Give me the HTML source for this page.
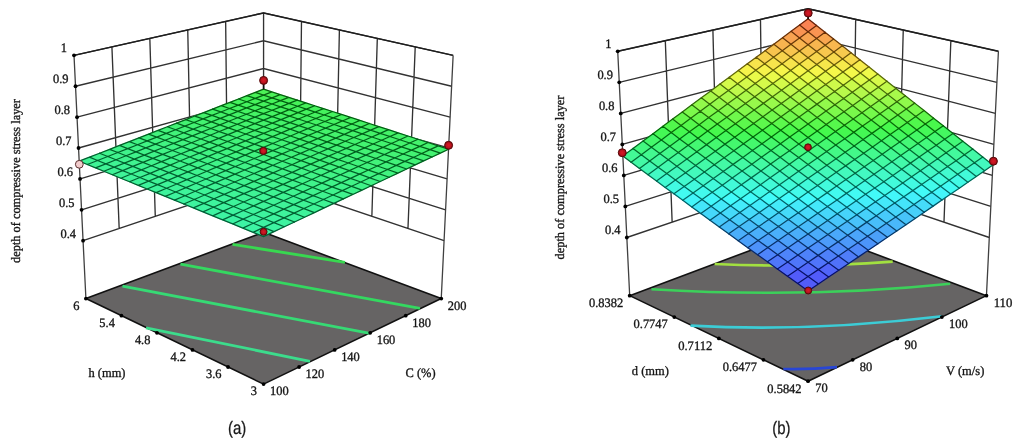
<!DOCTYPE html>
<html lang="en"><head><meta charset="utf-8"><title>Response surface plots</title>
<style>
html,body{margin:0;padding:0;background:#fff;}
body{width:1024px;height:448px;overflow:hidden;}
svg{display:block;filter:blur(0.55px);}
</style></head><body>
<svg width="1024" height="448" viewBox="0 0 1024 448">
<defs><radialGradient id="rd" cx="0.5" cy="0.5" r="0.5"><stop offset="0" stop-color="#d81a26"/><stop offset="0.55" stop-color="#c01420"/><stop offset="1" stop-color="#8a0c12"/></radialGradient></defs>
<rect width="1024" height="448" fill="#ffffff"/>
<path d="M74.01,55.37 L263.57,12.91 L453.13,55.37 M75.52,86.25 L263.57,40.73 L451.62,86.25 M77.03,117.14 L263.57,68.55 L450.12,117.14 M78.54,148.02 L263.57,96.36 L448.61,148.02 M80.05,178.91 L263.57,124.18 L447.1,178.91 M81.56,209.8 L263.57,152 L445.59,209.8 M83.07,240.68 L263.57,179.82 L444.08,240.68 M111.92,46.87 L119.17,228.51 M301.48,21.4 L299.67,191.99 M149.83,38.38 L155.27,216.34 M339.4,29.89 L335.77,204.17 M187.75,29.89 L191.37,204.17 M377.31,38.38 L371.87,216.34 M225.66,21.4 L227.47,191.99 M415.22,46.87 L407.97,228.51 M263.57,12.91 L263.57,179.82" fill="none" stroke="#323232" stroke-width="1.35"/>
<path d="M74.01,55.37 L263.57,12.91 L453.13,55.37" fill="none" stroke="#1e1e1e" stroke-width="1.5" stroke-linejoin="round"/>
<path d="M74.01,55.37 L85.9,298.58 M453.13,55.37 L441.25,298.58" fill="none" stroke="#404040" stroke-width="1.3"/>
<polygon points="85.9,298.58 263.57,384.1 441.25,298.58 263.57,232.35" fill="#666464" stroke="#111" stroke-width="1.6" stroke-linejoin="round"/>
<path d="M232.5,244.4 L345,262.3" fill="none" stroke="#38d850" stroke-width="2.8"/>
<path d="M180.5,264.2 L420,308.3" fill="none" stroke="#34d860" stroke-width="2.8"/>
<path d="M122.5,286.2 L370,333.3" fill="none" stroke="#36da74" stroke-width="2.8"/>
<path d="M146,327.8 L310,361.3" fill="none" stroke="#3cdc8c" stroke-width="2.8"/>
<circle cx="74.01" cy="55.37" r="1.9" fill="#000"/>
<circle cx="75.52" cy="86.25" r="1.9" fill="#000"/>
<circle cx="77.03" cy="117.14" r="1.9" fill="#000"/>
<circle cx="78.54" cy="148.02" r="1.9" fill="#000"/>
<circle cx="80.05" cy="178.91" r="1.9" fill="#000"/>
<circle cx="81.56" cy="209.8" r="1.9" fill="#000"/>
<circle cx="83.07" cy="240.68" r="1.9" fill="#000"/>
<circle cx="263.57" cy="384.1" r="1.9" fill="#000"/>
<circle cx="228.04" cy="367" r="1.9" fill="#000"/>
<circle cx="299.11" cy="367" r="1.9" fill="#000"/>
<circle cx="192.5" cy="349.89" r="1.9" fill="#000"/>
<circle cx="334.64" cy="349.89" r="1.9" fill="#000"/>
<circle cx="156.97" cy="332.79" r="1.9" fill="#000"/>
<circle cx="370.18" cy="332.79" r="1.9" fill="#000"/>
<circle cx="121.43" cy="315.69" r="1.9" fill="#000"/>
<circle cx="405.71" cy="315.69" r="1.9" fill="#000"/>
<circle cx="85.9" cy="298.58" r="1.9" fill="#000"/>
<circle cx="441.25" cy="298.58" r="1.9" fill="#000"/>
<g stroke-width="0.6" stroke-linejoin="round">
<polygon points="263.57,95.13 271.85,91.88 263.57,89.2 255.3,92.43" fill="#4df257" stroke="#4df257"/>
<polygon points="255.21,98.42 263.57,95.13 255.3,92.43 246.93,95.69" fill="#48f258" stroke="#48f258"/>
<polygon points="271.94,97.87 280.21,94.59 271.85,91.88 263.57,95.13" fill="#4bf258" stroke="#4bf258"/>
<polygon points="246.75,101.75 255.21,98.42 246.93,95.69 238.48,98.99" fill="#46f25a" stroke="#46f25a"/>
<polygon points="263.57,101.19 271.94,97.87 263.57,95.13 255.21,98.42" fill="#46f258" stroke="#46f258"/>
<polygon points="280.4,100.64 288.68,97.33 280.21,94.59 271.94,97.87" fill="#49f258" stroke="#49f258"/>
<polygon points="238.2,105.11 246.75,101.75 238.48,98.99 229.93,102.32" fill="#45f25d" stroke="#45f25d"/>
<polygon points="255.11,104.55 263.57,101.19 255.21,98.42 246.75,101.75" fill="#46f25b" stroke="#46f25b"/>
<polygon points="272.03,103.99 280.4,100.64 271.94,97.87 263.57,101.19" fill="#46f259" stroke="#46f259"/>
<polygon points="288.96,103.44 297.23,100.11 288.68,97.33 280.4,100.64" fill="#47f258" stroke="#47f258"/>
<polygon points="229.55,108.52 238.2,105.11 229.93,102.32 221.29,105.7" fill="#45f261" stroke="#45f261"/>
<polygon points="246.56,107.94 255.11,104.55 246.75,101.75 238.2,105.11" fill="#45f25f" stroke="#45f25f"/>
<polygon points="263.57,107.37 272.03,103.99 263.57,101.19 255.11,104.55" fill="#45f25d" stroke="#45f25d"/>
<polygon points="280.59,106.82 288.96,103.44 280.4,100.64 272.03,103.99" fill="#46f25b" stroke="#46f25b"/>
<polygon points="297.61,106.28 305.89,102.91 297.23,100.11 288.96,103.44" fill="#46f259" stroke="#46f259"/>
<polygon points="220.81,111.96 229.55,108.52 221.29,105.7 212.55,109.11" fill="#45f264" stroke="#45f264"/>
<polygon points="237.91,111.37 246.56,107.94 238.2,105.11 229.55,108.52" fill="#45f262" stroke="#45f262"/>
<polygon points="255.02,110.79 263.57,107.37 255.11,104.55 246.56,107.94" fill="#45f260" stroke="#45f260"/>
<polygon points="272.13,110.23 280.59,106.82 272.03,103.99 263.57,107.37" fill="#45f25e" stroke="#45f25e"/>
<polygon points="289.24,109.68 297.61,106.28 288.96,103.44 280.59,106.82" fill="#46f25c" stroke="#46f25c"/>
<polygon points="306.36,109.14 314.64,105.75 305.89,102.91 297.61,106.28" fill="#46f25a" stroke="#46f25a"/>
<polygon points="211.97,115.43 220.81,111.96 212.55,109.11 203.71,112.56" fill="#44f268" stroke="#44f268"/>
<polygon points="229.16,114.84 237.91,111.37 229.55,108.52 220.81,111.96" fill="#44f266" stroke="#44f266"/>
<polygon points="246.37,114.25 255.02,110.79 246.56,107.94 237.91,111.37" fill="#45f263" stroke="#45f263"/>
<polygon points="263.57,113.68 272.13,110.23 263.57,107.37 255.02,110.79" fill="#45f261" stroke="#45f261"/>
<polygon points="280.78,113.12 289.24,109.68 280.59,106.82 272.13,110.23" fill="#45f260" stroke="#45f260"/>
<polygon points="298,112.58 306.36,109.14 297.61,106.28 289.24,109.68" fill="#45f25e" stroke="#45f25e"/>
<polygon points="315.22,112.04 323.49,108.62 314.64,105.75 306.36,109.14" fill="#46f25c" stroke="#46f25c"/>
<polygon points="203.03,118.95 211.97,115.43 203.71,112.56 194.78,116.04" fill="#44f26b" stroke="#44f26b"/>
<polygon points="220.32,118.35 229.16,114.84 220.81,111.96 211.97,115.43" fill="#44f269" stroke="#44f269"/>
<polygon points="237.62,117.75 246.37,114.25 237.91,111.37 229.16,114.84" fill="#44f267" stroke="#44f267"/>
<polygon points="254.92,117.17 263.57,113.68 255.02,110.79 246.37,114.25" fill="#45f265" stroke="#45f265"/>
<polygon points="272.23,116.6 280.78,113.12 272.13,110.23 263.57,113.68" fill="#45f263" stroke="#45f263"/>
<polygon points="289.54,116.05 298,112.58 289.24,109.68 280.78,113.12" fill="#45f261" stroke="#45f261"/>
<polygon points="306.86,115.51 315.22,112.04 306.36,109.14 298,112.58" fill="#45f25f" stroke="#45f25f"/>
<polygon points="324.18,114.98 332.44,111.52 323.49,108.62 315.22,112.04" fill="#45f25d" stroke="#45f25d"/>
<polygon points="193.99,122.51 203.03,118.95 194.78,116.04 185.74,119.57" fill="#43f26f" stroke="#43f26f"/>
<polygon points="211.37,121.89 220.32,118.35 211.97,115.43 203.03,118.95" fill="#44f26c" stroke="#44f26c"/>
<polygon points="228.77,121.29 237.62,117.75 229.16,114.84 220.32,118.35" fill="#44f26a" stroke="#44f26a"/>
<polygon points="246.17,120.7 254.92,117.17 246.37,114.25 237.62,117.75" fill="#44f268" stroke="#44f268"/>
<polygon points="263.57,120.12 272.23,116.6 263.57,113.68 254.92,117.17" fill="#44f266" stroke="#44f266"/>
<polygon points="280.98,119.56 289.54,116.05 280.78,113.12 272.23,116.6" fill="#45f264" stroke="#45f264"/>
<polygon points="298.4,119.01 306.86,115.51 298,112.58 289.54,116.05" fill="#45f262" stroke="#45f262"/>
<polygon points="315.81,118.47 324.18,114.98 315.22,112.04 306.86,115.51" fill="#45f260" stroke="#45f260"/>
<polygon points="333.24,117.94 341.5,114.46 332.44,111.52 324.18,114.98" fill="#45f25f" stroke="#45f25f"/>
<polygon points="184.84,126.11 193.99,122.51 185.74,119.57 176.61,123.14" fill="#43f272" stroke="#43f272"/>
<polygon points="202.33,125.48 211.37,121.89 203.03,118.95 193.99,122.51" fill="#43f270" stroke="#43f270"/>
<polygon points="219.82,124.87 228.77,121.29 220.32,118.35 211.37,121.89" fill="#44f26e" stroke="#44f26e"/>
<polygon points="237.32,124.27 246.17,120.7 237.62,117.75 228.77,121.29" fill="#44f26c" stroke="#44f26c"/>
<polygon points="254.82,123.69 263.57,120.12 254.92,117.17 246.17,120.7" fill="#44f269" stroke="#44f269"/>
<polygon points="272.33,123.11 280.98,119.56 272.23,116.6 263.57,120.12" fill="#44f267" stroke="#44f267"/>
<polygon points="289.84,122.55 298.4,119.01 289.54,116.05 280.98,119.56" fill="#44f266" stroke="#44f266"/>
<polygon points="307.36,122 315.81,118.47 306.86,115.51 298.4,119.01" fill="#45f264" stroke="#45f264"/>
<polygon points="324.88,121.47 333.24,117.94 324.18,114.98 315.81,118.47" fill="#45f262" stroke="#45f262"/>
<polygon points="342.41,120.95 350.67,117.43 341.5,114.46 333.24,117.94" fill="#45f260" stroke="#45f260"/>
<polygon points="175.59,129.75 184.84,126.11 176.61,123.14 167.36,126.75" fill="#43f275" stroke="#43f275"/>
<polygon points="193.18,129.12 202.33,125.48 193.99,122.51 184.84,126.11" fill="#43f273" stroke="#43f273"/>
<polygon points="210.77,128.49 219.82,124.87 211.37,121.89 202.33,125.48" fill="#43f271" stroke="#43f271"/>
<polygon points="228.36,127.89 237.32,124.27 228.77,121.29 219.82,124.87" fill="#43f26f" stroke="#43f26f"/>
<polygon points="245.96,127.29 254.82,123.69 246.17,120.7 237.32,124.27" fill="#44f26d" stroke="#44f26d"/>
<polygon points="263.57,126.71 272.33,123.11 263.57,120.12 254.82,123.69" fill="#44f26b" stroke="#44f26b"/>
<polygon points="281.18,126.14 289.84,122.55 280.98,119.56 272.33,123.11" fill="#44f269" stroke="#44f269"/>
<polygon points="298.8,125.58 307.36,122 298.4,119.01 289.84,122.55" fill="#44f267" stroke="#44f267"/>
<polygon points="316.42,125.03 324.88,121.47 315.81,118.47 307.36,122" fill="#45f265" stroke="#45f265"/>
<polygon points="334.05,124.5 342.41,120.95 333.24,117.94 324.88,121.47" fill="#45f263" stroke="#45f263"/>
<polygon points="351.68,123.99 359.94,120.44 350.67,117.43 342.41,120.95" fill="#45f262" stroke="#45f262"/>
<polygon points="166.24,133.43 175.59,129.75 167.36,126.75 158.02,130.4" fill="#42f279" stroke="#42f279"/>
<polygon points="183.92,132.79 193.18,129.12 184.84,126.11 175.59,129.75" fill="#43f277" stroke="#43f277"/>
<polygon points="201.61,132.16 210.77,128.49 202.33,125.48 193.18,129.12" fill="#43f274" stroke="#43f274"/>
<polygon points="219.31,131.54 228.36,127.89 219.82,124.87 210.77,128.49" fill="#43f272" stroke="#43f272"/>
<polygon points="237.01,130.93 245.96,127.29 237.32,124.27 228.36,127.89" fill="#43f270" stroke="#43f270"/>
<polygon points="254.72,130.34 263.57,126.71 254.82,123.69 245.96,127.29" fill="#43f26e" stroke="#43f26e"/>
<polygon points="272.43,129.76 281.18,126.14 272.33,123.11 263.57,126.71" fill="#44f26c" stroke="#44f26c"/>
<polygon points="290.15,129.2 298.8,125.58 289.84,122.55 281.18,126.14" fill="#44f26a" stroke="#44f26a"/>
<polygon points="307.87,128.64 316.42,125.03 307.36,122 298.8,125.58" fill="#44f268" stroke="#44f268"/>
<polygon points="325.6,128.1 334.05,124.5 324.88,121.47 316.42,125.03" fill="#44f266" stroke="#44f266"/>
<polygon points="343.33,127.58 351.68,123.99 342.41,120.95 334.05,124.5" fill="#45f265" stroke="#45f265"/>
<polygon points="361.07,127.06 369.32,123.48 359.94,120.44 351.68,123.99" fill="#45f263" stroke="#45f263"/>
<polygon points="156.77,137.16 166.24,133.43 158.02,130.4 148.56,134.09" fill="#42f27c" stroke="#42f27c"/>
<polygon points="174.56,136.51 183.92,132.79 175.59,129.75 166.24,133.43" fill="#42f27a" stroke="#42f27a"/>
<polygon points="192.35,135.87 201.61,132.16 193.18,129.12 183.92,132.79" fill="#42f278" stroke="#42f278"/>
<polygon points="210.14,135.24 219.31,131.54 210.77,128.49 201.61,132.16" fill="#43f276" stroke="#43f276"/>
<polygon points="227.95,134.62 237.01,130.93 228.36,127.89 219.31,131.54" fill="#43f273" stroke="#43f273"/>
<polygon points="245.76,134.02 254.72,130.34 245.96,127.29 237.01,130.93" fill="#43f271" stroke="#43f271"/>
<polygon points="263.57,133.43 272.43,129.76 263.57,126.71 254.72,130.34" fill="#43f26f" stroke="#43f26f"/>
<polygon points="281.39,132.86 290.15,129.2 281.18,126.14 272.43,129.76" fill="#44f26d" stroke="#44f26d"/>
<polygon points="299.22,132.29 307.87,128.64 298.8,125.58 290.15,129.2" fill="#44f26b" stroke="#44f26b"/>
<polygon points="317.05,131.74 325.6,128.1 316.42,125.03 307.87,128.64" fill="#44f26a" stroke="#44f26a"/>
<polygon points="334.88,131.21 343.33,127.58 334.05,124.5 325.6,128.1" fill="#44f268" stroke="#44f268"/>
<polygon points="352.72,130.68 361.07,127.06 351.68,123.99 343.33,127.58" fill="#44f266" stroke="#44f266"/>
<polygon points="370.57,130.17 378.81,126.56 369.32,123.48 361.07,127.06" fill="#45f264" stroke="#45f264"/>
<polygon points="147.19,140.93 156.77,137.16 148.56,134.09 138.99,137.83" fill="#41f380" stroke="#41f380"/>
<polygon points="165.08,140.27 174.56,136.51 166.24,133.43 156.77,137.16" fill="#42f27d" stroke="#42f27d"/>
<polygon points="182.97,139.62 192.35,135.87 183.92,132.79 174.56,136.51" fill="#42f27b" stroke="#42f27b"/>
<polygon points="200.87,138.98 210.14,135.24 201.61,132.16 192.35,135.87" fill="#42f279" stroke="#42f279"/>
<polygon points="218.78,138.35 227.95,134.62 219.31,131.54 210.14,135.24" fill="#42f277" stroke="#42f277"/>
<polygon points="236.69,137.74 245.76,134.02 237.01,130.93 227.95,134.62" fill="#43f275" stroke="#43f275"/>
<polygon points="254.61,137.14 263.57,133.43 254.72,130.34 245.76,134.02" fill="#43f273" stroke="#43f273"/>
<polygon points="272.53,136.56 281.39,132.86 272.43,129.76 263.57,133.43" fill="#43f271" stroke="#43f271"/>
<polygon points="290.46,135.99 299.22,132.29 290.15,129.2 281.39,132.86" fill="#43f26f" stroke="#43f26f"/>
<polygon points="308.4,135.43 317.05,131.74 307.87,128.64 299.22,132.29" fill="#44f26d" stroke="#44f26d"/>
<polygon points="326.34,134.88 334.88,131.21 325.6,128.1 317.05,131.74" fill="#44f26b" stroke="#44f26b"/>
<polygon points="344.28,134.35 352.72,130.68 343.33,127.58 334.88,131.21" fill="#44f269" stroke="#44f269"/>
<polygon points="362.23,133.83 370.57,130.17 361.07,127.06 352.72,130.68" fill="#44f268" stroke="#44f268"/>
<polygon points="380.18,133.33 388.42,129.68 378.81,126.56 370.57,130.17" fill="#44f266" stroke="#44f266"/>
<polygon points="137.51,144.75 147.19,140.93 138.99,137.83 129.32,141.61" fill="#41f383" stroke="#41f383"/>
<polygon points="155.5,144.07 165.08,140.27 156.77,137.16 147.19,140.93" fill="#41f381" stroke="#41f381"/>
<polygon points="173.49,143.41 182.97,139.62 174.56,136.51 165.08,140.27" fill="#42f27e" stroke="#42f27e"/>
<polygon points="191.5,142.76 200.87,138.98 192.35,135.87 182.97,139.62" fill="#42f27c" stroke="#42f27c"/>
<polygon points="209.51,142.13 218.78,138.35 210.14,135.24 200.87,138.98" fill="#42f27a" stroke="#42f27a"/>
<polygon points="227.52,141.51 236.69,137.74 227.95,134.62 218.78,138.35" fill="#42f278" stroke="#42f278"/>
<polygon points="245.54,140.9 254.61,137.14 245.76,134.02 236.69,137.74" fill="#43f276" stroke="#43f276"/>
<polygon points="263.57,140.3 272.53,136.56 263.57,133.43 254.61,137.14" fill="#43f274" stroke="#43f274"/>
<polygon points="281.6,139.72 290.46,135.99 281.39,132.86 272.53,136.56" fill="#43f272" stroke="#43f272"/>
<polygon points="299.64,139.15 308.4,135.43 299.22,132.29 290.46,135.99" fill="#43f270" stroke="#43f270"/>
<polygon points="317.69,138.6 326.34,134.88 317.05,131.74 308.4,135.43" fill="#43f26e" stroke="#43f26e"/>
<polygon points="335.74,138.06 344.28,134.35 334.88,131.21 326.34,134.88" fill="#44f26c" stroke="#44f26c"/>
<polygon points="353.79,137.53 362.23,133.83 352.72,130.68 344.28,134.35" fill="#44f26b" stroke="#44f26b"/>
<polygon points="371.85,137.02 380.18,133.33 370.57,130.17 362.23,133.83" fill="#44f269" stroke="#44f269"/>
<polygon points="389.91,136.51 398.14,132.83 388.42,129.68 380.18,133.33" fill="#44f267" stroke="#44f267"/>
<polygon points="127.7,148.61 137.51,144.75 129.32,141.61 119.52,145.43" fill="#41f387" stroke="#41f387"/>
<polygon points="145.8,147.92 155.5,144.07 147.19,140.93 137.51,144.75" fill="#41f384" stroke="#41f384"/>
<polygon points="163.9,147.25 173.49,143.41 165.08,140.27 155.5,144.07" fill="#41f382" stroke="#41f382"/>
<polygon points="182.01,146.59 191.5,142.76 182.97,139.62 173.49,143.41" fill="#41f380" stroke="#41f380"/>
<polygon points="200.12,145.95 209.51,142.13 200.87,138.98 191.5,142.76" fill="#42f27d" stroke="#42f27d"/>
<polygon points="218.24,145.32 227.52,141.51 218.78,138.35 209.51,142.13" fill="#42f27b" stroke="#42f27b"/>
<polygon points="236.37,144.7 245.54,140.9 236.69,137.74 227.52,141.51" fill="#42f279" stroke="#42f279"/>
<polygon points="254.5,144.1 263.57,140.3 254.61,137.14 245.54,140.9" fill="#42f277" stroke="#42f277"/>
<polygon points="272.64,143.5 281.6,139.72 272.53,136.56 263.57,140.3" fill="#43f275" stroke="#43f275"/>
<polygon points="290.79,142.93 299.64,139.15 290.46,135.99 281.6,139.72" fill="#43f273" stroke="#43f273"/>
<polygon points="308.94,142.36 317.69,138.6 308.4,135.43 299.64,139.15" fill="#43f271" stroke="#43f271"/>
<polygon points="327.09,141.81 335.74,138.06 326.34,134.88 317.69,138.6" fill="#43f26f" stroke="#43f26f"/>
<polygon points="345.25,141.27 353.79,137.53 344.28,134.35 335.74,138.06" fill="#44f26e" stroke="#44f26e"/>
<polygon points="363.42,140.75 371.85,137.02 362.23,133.83 353.79,137.53" fill="#44f26c" stroke="#44f26c"/>
<polygon points="381.58,140.24 389.91,136.51 380.18,133.33 371.85,137.02" fill="#44f26a" stroke="#44f26a"/>
<polygon points="399.76,139.74 407.98,136.03 398.14,132.83 389.91,136.51" fill="#44f269" stroke="#44f269"/>
<polygon points="117.78,152.51 127.7,148.61 119.52,145.43 109.62,149.31" fill="#40f38a" stroke="#40f38a"/>
<polygon points="135.98,151.82 145.8,147.92 137.51,144.75 127.7,148.61" fill="#41f388" stroke="#41f388"/>
<polygon points="154.19,151.14 163.9,147.25 155.5,144.07 145.8,147.92" fill="#41f385" stroke="#41f385"/>
<polygon points="172.4,150.47 182.01,146.59 173.49,143.41 163.9,147.25" fill="#41f383" stroke="#41f383"/>
<polygon points="190.62,149.82 200.12,145.95 191.5,142.76 182.01,146.59" fill="#41f381" stroke="#41f381"/>
<polygon points="208.85,149.17 218.24,145.32 209.51,142.13 200.12,145.95" fill="#42f27f" stroke="#42f27f"/>
<polygon points="227.09,148.55 236.37,144.7 227.52,141.51 218.24,145.32" fill="#42f27c" stroke="#42f27c"/>
<polygon points="245.33,147.93 254.5,144.1 245.54,140.9 236.37,144.7" fill="#42f27a" stroke="#42f27a"/>
<polygon points="263.57,147.33 272.64,143.5 263.57,140.3 254.5,144.1" fill="#42f278" stroke="#42f278"/>
<polygon points="281.82,146.74 290.79,142.93 281.6,139.72 272.64,143.5" fill="#43f276" stroke="#43f276"/>
<polygon points="300.08,146.17 308.94,142.36 299.64,139.15 290.79,142.93" fill="#43f274" stroke="#43f274"/>
<polygon points="318.34,145.61 327.09,141.81 317.69,138.6 308.94,142.36" fill="#43f273" stroke="#43f273"/>
<polygon points="336.61,145.06 345.25,141.27 335.74,138.06 327.09,141.81" fill="#43f271" stroke="#43f271"/>
<polygon points="354.88,144.53 363.42,140.75 353.79,137.53 345.25,141.27" fill="#43f26f" stroke="#43f26f"/>
<polygon points="373.16,144.01 381.58,140.24 371.85,137.02 363.42,140.75" fill="#44f26d" stroke="#44f26d"/>
<polygon points="391.44,143.5 399.76,139.74 389.91,136.51 381.58,140.24" fill="#44f26c" stroke="#44f26c"/>
<polygon points="409.73,143.01 417.93,139.26 407.98,136.03 399.76,139.74" fill="#44f26a" stroke="#44f26a"/>
<polygon points="107.75,156.47 117.78,152.51 109.62,149.31 99.59,153.22" fill="#40f38d" stroke="#40f38d"/>
<polygon points="126.05,155.76 135.98,151.82 127.7,148.61 117.78,152.51" fill="#40f38b" stroke="#40f38b"/>
<polygon points="144.36,155.07 154.19,151.14 145.8,147.92 135.98,151.82" fill="#40f389" stroke="#40f389"/>
<polygon points="162.69,154.39 172.4,150.47 163.9,147.25 154.19,151.14" fill="#41f386" stroke="#41f386"/>
<polygon points="181.01,153.73 190.62,149.82 182.01,146.59 172.4,150.47" fill="#41f384" stroke="#41f384"/>
<polygon points="199.35,153.08 208.85,149.17 200.12,145.95 190.62,149.82" fill="#41f382" stroke="#41f382"/>
<polygon points="217.69,152.44 227.09,148.55 218.24,145.32 208.85,149.17" fill="#41f380" stroke="#41f380"/>
<polygon points="236.04,151.82 245.33,147.93 236.37,144.7 227.09,148.55" fill="#42f27e" stroke="#42f27e"/>
<polygon points="254.39,151.2 263.57,147.33 254.5,144.1 245.33,147.93" fill="#42f27b" stroke="#42f27b"/>
<polygon points="272.75,150.61 281.82,146.74 272.64,143.5 263.57,147.33" fill="#42f279" stroke="#42f279"/>
<polygon points="291.12,150.02 300.08,146.17 290.79,142.93 281.82,146.74" fill="#42f278" stroke="#42f278"/>
<polygon points="309.49,149.45 318.34,145.61 308.94,142.36 300.08,146.17" fill="#43f276" stroke="#43f276"/>
<polygon points="327.87,148.9 336.61,145.06 327.09,141.81 318.34,145.61" fill="#43f274" stroke="#43f274"/>
<polygon points="346.25,148.35 354.88,144.53 345.25,141.27 336.61,145.06" fill="#43f272" stroke="#43f272"/>
<polygon points="364.63,147.82 373.16,144.01 363.42,140.75 354.88,144.53" fill="#43f270" stroke="#43f270"/>
<polygon points="383.02,147.31 391.44,143.5 381.58,140.24 373.16,144.01" fill="#43f26f" stroke="#43f26f"/>
<polygon points="401.42,146.81 409.73,143.01 399.76,139.74 391.44,143.5" fill="#44f26d" stroke="#44f26d"/>
<polygon points="419.82,146.32 428.01,142.53 417.93,139.26 409.73,143.01" fill="#44f26c" stroke="#44f26c"/>
<polygon points="97.59,160.47 107.75,156.47 99.59,153.22 89.45,157.19" fill="#40f391" stroke="#40f391"/>
<polygon points="116,159.76 126.05,155.76 117.78,152.51 107.75,156.47" fill="#40f38e" stroke="#40f38e"/>
<polygon points="134.42,159.05 144.36,155.07 135.98,151.82 126.05,155.76" fill="#40f38c" stroke="#40f38c"/>
<polygon points="152.85,158.36 162.69,154.39 154.19,151.14 144.36,155.07" fill="#40f38a" stroke="#40f38a"/>
<polygon points="171.29,157.69 181.01,153.73 172.4,150.47 162.69,154.39" fill="#41f387" stroke="#41f387"/>
<polygon points="189.73,157.03 199.35,153.08 190.62,149.82 181.01,153.73" fill="#41f385" stroke="#41f385"/>
<polygon points="208.18,156.38 217.69,152.44 208.85,149.17 199.35,153.08" fill="#41f383" stroke="#41f383"/>
<polygon points="226.64,155.75 236.04,151.82 227.09,148.55 217.69,152.44" fill="#41f381" stroke="#41f381"/>
<polygon points="245.1,155.12 254.39,151.2 245.33,147.93 236.04,151.82" fill="#42f27f" stroke="#42f27f"/>
<polygon points="263.57,154.52 272.75,150.61 263.57,147.33 254.39,151.2" fill="#42f27d" stroke="#42f27d"/>
<polygon points="282.05,153.92 291.12,150.02 281.82,146.74 272.75,150.61" fill="#42f27b" stroke="#42f27b"/>
<polygon points="300.53,153.34 309.49,149.45 300.08,146.17 291.12,150.02" fill="#42f279" stroke="#42f279"/>
<polygon points="319.01,152.78 327.87,148.9 318.34,145.61 309.49,149.45" fill="#42f277" stroke="#42f277"/>
<polygon points="337.51,152.23 346.25,148.35 336.61,145.06 327.87,148.9" fill="#43f275" stroke="#43f275"/>
<polygon points="356,151.69 364.63,147.82 354.88,144.53 346.25,148.35" fill="#43f273" stroke="#43f273"/>
<polygon points="374.5,151.16 383.02,147.31 373.16,144.01 364.63,147.82" fill="#43f272" stroke="#43f272"/>
<polygon points="393.01,150.65 401.42,146.81 391.44,143.5 383.02,147.31" fill="#43f270" stroke="#43f270"/>
<polygon points="411.52,150.15 419.82,146.32 409.73,143.01 401.42,146.81" fill="#43f26f" stroke="#43f26f"/>
<polygon points="430.03,149.67 438.22,145.85 428.01,142.53 419.82,146.32" fill="#44f26d" stroke="#44f26d"/>
<polygon points="87.31,164.52 97.59,160.47 89.45,157.19 79.18,161.2" fill="#3ff394" stroke="#3ff394"/>
<polygon points="105.83,163.8 116,159.76 107.75,156.47 97.59,160.47" fill="#3ff392" stroke="#3ff392"/>
<polygon points="124.36,163.08 134.42,159.05 126.05,155.76 116,159.76" fill="#40f38f" stroke="#40f38f"/>
<polygon points="142.9,162.38 152.85,158.36 144.36,155.07 134.42,159.05" fill="#40f38d" stroke="#40f38d"/>
<polygon points="161.44,161.7 171.29,157.69 162.69,154.39 152.85,158.36" fill="#40f38b" stroke="#40f38b"/>
<polygon points="180,161.03 189.73,157.03 181.01,153.73 171.29,157.69" fill="#40f388" stroke="#40f388"/>
<polygon points="198.56,160.37 208.18,156.38 199.35,153.08 189.73,157.03" fill="#41f386" stroke="#41f386"/>
<polygon points="217.12,159.72 226.64,155.75 217.69,152.44 208.18,156.38" fill="#41f384" stroke="#41f384"/>
<polygon points="235.7,159.09 245.1,155.12 236.04,151.82 226.64,155.75" fill="#41f382" stroke="#41f382"/>
<polygon points="254.28,158.48 263.57,154.52 254.39,151.2 245.1,155.12" fill="#41f380" stroke="#41f380"/>
<polygon points="272.87,157.87 282.05,153.92 272.75,150.61 263.57,154.52" fill="#42f27e" stroke="#42f27e"/>
<polygon points="291.46,157.28 300.53,153.34 291.12,150.02 282.05,153.92" fill="#42f27c" stroke="#42f27c"/>
<polygon points="310.06,156.71 319.01,152.78 309.49,149.45 300.53,153.34" fill="#42f27a" stroke="#42f27a"/>
<polygon points="328.66,156.14 337.51,152.23 327.87,148.9 319.01,152.78" fill="#42f278" stroke="#42f278"/>
<polygon points="347.27,155.6 356,151.69 346.25,148.35 337.51,152.23" fill="#43f276" stroke="#43f276"/>
<polygon points="365.88,155.06 374.5,151.16 364.63,147.82 356,151.69" fill="#43f275" stroke="#43f275"/>
<polygon points="384.5,154.54 393.01,150.65 383.02,147.31 374.5,151.16" fill="#43f273" stroke="#43f273"/>
<polygon points="403.12,154.03 411.52,150.15 401.42,146.81 393.01,150.65" fill="#43f272" stroke="#43f272"/>
<polygon points="421.74,153.54 430.03,149.67 419.82,146.32 411.52,150.15" fill="#43f270" stroke="#43f270"/>
<polygon points="440.37,153.06 448.55,149.2 438.22,145.85 430.03,149.67" fill="#43f26f" stroke="#43f26f"/>
<polygon points="95.53,167.89 105.83,163.8 97.59,160.47 87.31,164.52" fill="#3ff395" stroke="#3ff395"/>
<polygon points="114.17,167.16 124.36,163.08 116,159.76 105.83,163.8" fill="#3ff393" stroke="#3ff393"/>
<polygon points="132.82,166.45 142.9,162.38 134.42,159.05 124.36,163.08" fill="#40f390" stroke="#40f390"/>
<polygon points="151.48,165.76 161.44,161.7 152.85,158.36 142.9,162.38" fill="#40f38e" stroke="#40f38e"/>
<polygon points="170.14,165.07 180,161.03 171.29,157.69 161.44,161.7" fill="#40f38c" stroke="#40f38c"/>
<polygon points="188.82,164.41 198.56,160.37 189.73,157.03 180,161.03" fill="#40f389" stroke="#40f389"/>
<polygon points="207.49,163.75 217.12,159.72 208.18,156.38 198.56,160.37" fill="#41f387" stroke="#41f387"/>
<polygon points="226.18,163.11 235.7,159.09 226.64,155.75 217.12,159.72" fill="#41f385" stroke="#41f385"/>
<polygon points="244.87,162.48 254.28,158.48 245.1,155.12 235.7,159.09" fill="#41f383" stroke="#41f383"/>
<polygon points="263.57,161.87 272.87,157.87 263.57,154.52 254.28,158.48" fill="#41f381" stroke="#41f381"/>
<polygon points="282.28,161.27 291.46,157.28 282.05,153.92 272.87,157.87" fill="#42f27f" stroke="#42f27f"/>
<polygon points="300.99,160.68 310.06,156.71 300.53,153.34 291.46,157.28" fill="#42f27d" stroke="#42f27d"/>
<polygon points="319.7,160.11 328.66,156.14 319.01,152.78 310.06,156.71" fill="#42f27b" stroke="#42f27b"/>
<polygon points="338.42,159.55 347.27,155.6 337.51,152.23 328.66,156.14" fill="#42f27a" stroke="#42f27a"/>
<polygon points="357.15,159.01 365.88,155.06 356,151.69 347.27,155.6" fill="#42f278" stroke="#42f278"/>
<polygon points="375.88,158.48 384.5,154.54 374.5,151.16 365.88,155.06" fill="#43f276" stroke="#43f276"/>
<polygon points="394.62,157.96 403.12,154.03 393.01,150.65 384.5,154.54" fill="#43f275" stroke="#43f275"/>
<polygon points="413.36,157.46 421.74,153.54 411.52,150.15 403.12,154.03" fill="#43f273" stroke="#43f273"/>
<polygon points="432.1,156.97 440.37,153.06 430.03,149.67 421.74,153.54" fill="#43f271" stroke="#43f271"/>
<polygon points="103.86,171.29 114.17,167.16 105.83,163.8 95.53,167.89" fill="#3ff396" stroke="#3ff396"/>
<polygon points="122.62,170.57 132.82,166.45 124.36,163.08 114.17,167.16" fill="#3ff394" stroke="#3ff394"/>
<polygon points="141.39,169.86 151.48,165.76 142.9,162.38 132.82,166.45" fill="#3ff391" stroke="#3ff391"/>
<polygon points="160.17,169.17 170.14,165.07 161.44,161.7 151.48,165.76" fill="#40f38f" stroke="#40f38f"/>
<polygon points="178.95,168.49 188.82,164.41 180,161.03 170.14,165.07" fill="#40f38d" stroke="#40f38d"/>
<polygon points="197.75,167.83 207.49,163.75 198.56,160.37 188.82,164.41" fill="#40f38a" stroke="#40f38a"/>
<polygon points="216.54,167.18 226.18,163.11 217.12,159.72 207.49,163.75" fill="#40f388" stroke="#40f388"/>
<polygon points="235.35,166.54 244.87,162.48 235.7,159.09 226.18,163.11" fill="#41f386" stroke="#41f386"/>
<polygon points="254.16,165.91 263.57,161.87 254.28,158.48 244.87,162.48" fill="#41f384" stroke="#41f384"/>
<polygon points="272.98,165.3 282.28,161.27 272.87,157.87 263.57,161.87" fill="#41f382" stroke="#41f382"/>
<polygon points="291.81,164.71 300.99,160.68 291.46,157.28 282.28,161.27" fill="#41f380" stroke="#41f380"/>
<polygon points="310.64,164.13 319.7,160.11 310.06,156.71 300.99,160.68" fill="#42f27e" stroke="#42f27e"/>
<polygon points="329.47,163.56 338.42,159.55 328.66,156.14 319.7,160.11" fill="#42f27d" stroke="#42f27d"/>
<polygon points="348.31,163.01 357.15,159.01 347.27,155.6 338.42,159.55" fill="#42f27b" stroke="#42f27b"/>
<polygon points="367.16,162.47 375.88,158.48 365.88,155.06 357.15,159.01" fill="#42f279" stroke="#42f279"/>
<polygon points="386.01,161.94 394.62,157.96 384.5,154.54 375.88,158.48" fill="#42f277" stroke="#42f277"/>
<polygon points="404.86,161.43 413.36,157.46 403.12,154.03 394.62,157.96" fill="#43f276" stroke="#43f276"/>
<polygon points="423.72,160.93 432.1,156.97 421.74,153.54 413.36,157.46" fill="#43f274" stroke="#43f274"/>
<polygon points="112.3,174.74 122.62,170.57 114.17,167.16 103.86,171.29" fill="#3ff397" stroke="#3ff397"/>
<polygon points="131.18,174.02 141.39,169.86 132.82,166.45 122.62,170.57" fill="#3ff395" stroke="#3ff395"/>
<polygon points="150.07,173.32 160.17,169.17 151.48,165.76 141.39,169.86" fill="#3ff392" stroke="#3ff392"/>
<polygon points="168.97,172.63 178.95,168.49 170.14,165.07 160.17,169.17" fill="#40f390" stroke="#40f390"/>
<polygon points="187.88,171.95 197.75,167.83 188.82,164.41 178.95,168.49" fill="#40f38e" stroke="#40f38e"/>
<polygon points="206.79,171.29 216.54,167.18 207.49,163.75 197.75,167.83" fill="#40f38b" stroke="#40f38b"/>
<polygon points="225.71,170.64 235.35,166.54 226.18,163.11 216.54,167.18" fill="#40f389" stroke="#40f389"/>
<polygon points="244.64,170.01 254.16,165.91 244.87,162.48 235.35,166.54" fill="#41f387" stroke="#41f387"/>
<polygon points="263.57,169.39 272.98,165.3 263.57,161.87 254.16,165.91" fill="#41f385" stroke="#41f385"/>
<polygon points="282.51,168.79 291.81,164.71 282.28,161.27 272.98,165.3" fill="#41f383" stroke="#41f383"/>
<polygon points="301.46,168.19 310.64,164.13 300.99,160.68 291.81,164.71" fill="#41f381" stroke="#41f381"/>
<polygon points="320.41,167.62 329.47,163.56 319.7,160.11 310.64,164.13" fill="#41f380" stroke="#41f380"/>
<polygon points="339.37,167.05 348.31,163.01 338.42,159.55 329.47,163.56" fill="#42f27e" stroke="#42f27e"/>
<polygon points="358.33,166.5 367.16,162.47 357.15,159.01 348.31,163.01" fill="#42f27c" stroke="#42f27c"/>
<polygon points="377.29,165.97 386.01,161.94 375.88,158.48 367.16,162.47" fill="#42f27a" stroke="#42f27a"/>
<polygon points="396.26,165.44 404.86,161.43 394.62,157.96 386.01,161.94" fill="#42f279" stroke="#42f279"/>
<polygon points="415.24,164.94 423.72,160.93 413.36,157.46 404.86,161.43" fill="#42f277" stroke="#42f277"/>
<polygon points="120.84,178.24 131.18,174.02 122.62,170.57 112.3,174.74" fill="#3ff398" stroke="#3ff398"/>
<polygon points="139.85,177.52 150.07,173.32 141.39,169.86 131.18,174.02" fill="#3ff396" stroke="#3ff396"/>
<polygon points="158.86,176.82 168.97,172.63 160.17,169.17 150.07,173.32" fill="#3ff393" stroke="#3ff393"/>
<polygon points="177.88,176.13 187.88,171.95 178.95,168.49 168.97,172.63" fill="#40f391" stroke="#40f391"/>
<polygon points="196.91,175.46 206.79,171.29 197.75,167.83 187.88,171.95" fill="#40f38f" stroke="#40f38f"/>
<polygon points="215.95,174.8 225.71,170.64 216.54,167.18 206.79,171.29" fill="#40f38d" stroke="#40f38d"/>
<polygon points="234.99,174.16 244.64,170.01 235.35,166.54 225.71,170.64" fill="#40f38a" stroke="#40f38a"/>
<polygon points="254.04,173.53 263.57,169.39 254.16,165.91 244.64,170.01" fill="#40f388" stroke="#40f388"/>
<polygon points="273.1,172.91 282.51,168.79 272.98,165.3 263.57,169.39" fill="#41f386" stroke="#41f386"/>
<polygon points="292.16,172.31 301.46,168.19 291.81,164.71 282.51,168.79" fill="#41f384" stroke="#41f384"/>
<polygon points="311.23,171.72 320.41,167.62 310.64,164.13 301.46,168.19" fill="#41f383" stroke="#41f383"/>
<polygon points="330.31,171.15 339.37,167.05 329.47,163.56 320.41,167.62" fill="#41f381" stroke="#41f381"/>
<polygon points="349.39,170.59 358.33,166.5 348.31,163.01 339.37,167.05" fill="#42f27f" stroke="#42f27f"/>
<polygon points="368.47,170.04 377.29,165.97 367.16,162.47 358.33,166.5" fill="#42f27d" stroke="#42f27d"/>
<polygon points="387.56,169.51 396.26,165.44 386.01,161.94 377.29,165.97" fill="#42f27c" stroke="#42f27c"/>
<polygon points="406.65,169 415.24,164.94 404.86,161.43 396.26,165.44" fill="#42f27a" stroke="#42f27a"/>
<polygon points="129.5,181.77 139.85,177.52 131.18,174.02 120.84,178.24" fill="#3ff399" stroke="#3ff399"/>
<polygon points="148.63,181.06 158.86,176.82 150.07,173.32 139.85,177.52" fill="#3ff396" stroke="#3ff396"/>
<polygon points="167.77,180.37 177.88,176.13 168.97,172.63 158.86,176.82" fill="#3ff394" stroke="#3ff394"/>
<polygon points="186.91,179.68 196.91,175.46 187.88,171.95 177.88,176.13" fill="#3ff392" stroke="#3ff392"/>
<polygon points="206.07,179.01 215.95,174.8 206.79,171.29 196.91,175.46" fill="#40f390" stroke="#40f390"/>
<polygon points="225.23,178.36 234.99,174.16 225.71,170.64 215.95,174.8" fill="#40f38e" stroke="#40f38e"/>
<polygon points="244.4,177.72 254.04,173.53 244.64,170.01 234.99,174.16" fill="#40f38b" stroke="#40f38b"/>
<polygon points="263.57,177.09 273.1,172.91 263.57,169.39 254.04,173.53" fill="#40f389" stroke="#40f389"/>
<polygon points="282.75,176.48 292.16,172.31 282.51,168.79 273.1,172.91" fill="#41f388" stroke="#41f388"/>
<polygon points="301.94,175.88 311.23,171.72 301.46,168.19 292.16,172.31" fill="#41f386" stroke="#41f386"/>
<polygon points="321.13,175.3 330.31,171.15 320.41,167.62 311.23,171.72" fill="#41f384" stroke="#41f384"/>
<polygon points="340.33,174.73 349.39,170.59 339.37,167.05 330.31,171.15" fill="#41f382" stroke="#41f382"/>
<polygon points="359.53,174.17 368.47,170.04 358.33,166.5 349.39,170.59" fill="#41f380" stroke="#41f380"/>
<polygon points="378.74,173.63 387.56,169.51 377.29,165.97 368.47,170.04" fill="#42f27f" stroke="#42f27f"/>
<polygon points="397.96,173.1 406.65,169 396.26,165.44 387.56,169.51" fill="#42f27d" stroke="#42f27d"/>
<polygon points="138.26,185.36 148.63,181.06 139.85,177.52 129.5,181.77" fill="#3ff39a" stroke="#3ff39a"/>
<polygon points="157.52,184.65 167.77,180.37 158.86,176.82 148.63,181.06" fill="#3ff397" stroke="#3ff397"/>
<polygon points="176.79,183.96 186.91,179.68 177.88,176.13 167.77,180.37" fill="#3ff395" stroke="#3ff395"/>
<polygon points="196.06,183.28 206.07,179.01 196.91,175.46 186.91,179.68" fill="#3ff393" stroke="#3ff393"/>
<polygon points="215.34,182.61 225.23,178.36 215.95,174.8 206.07,179.01" fill="#40f391" stroke="#40f391"/>
<polygon points="234.63,181.96 244.4,177.72 234.99,174.16 225.23,178.36" fill="#40f38f" stroke="#40f38f"/>
<polygon points="253.92,181.32 263.57,177.09 254.04,173.53 244.4,177.72" fill="#40f38d" stroke="#40f38d"/>
<polygon points="273.22,180.7 282.75,176.48 273.1,172.91 263.57,177.09" fill="#40f38b" stroke="#40f38b"/>
<polygon points="292.53,180.09 301.94,175.88 292.16,172.31 282.75,176.48" fill="#40f389" stroke="#40f389"/>
<polygon points="311.84,179.5 321.13,175.3 311.23,171.72 301.94,175.88" fill="#41f387" stroke="#41f387"/>
<polygon points="331.16,178.92 340.33,174.73 330.31,171.15 321.13,175.3" fill="#41f385" stroke="#41f385"/>
<polygon points="350.49,178.35 359.53,174.17 349.39,170.59 340.33,174.73" fill="#41f383" stroke="#41f383"/>
<polygon points="369.82,177.8 378.74,173.63 368.47,170.04 359.53,174.17" fill="#41f382" stroke="#41f382"/>
<polygon points="389.15,177.27 397.96,173.1 387.56,169.51 378.74,173.63" fill="#41f380" stroke="#41f380"/>
<polygon points="147.15,188.99 157.52,184.65 148.63,181.06 138.26,185.36" fill="#3ef39b" stroke="#3ef39b"/>
<polygon points="166.53,188.29 176.79,183.96 167.77,180.37 157.52,184.65" fill="#3ff398" stroke="#3ff398"/>
<polygon points="185.92,187.6 196.06,183.28 186.91,179.68 176.79,183.96" fill="#3ff396" stroke="#3ff396"/>
<polygon points="205.33,186.92 215.34,182.61 206.07,179.01 196.06,183.28" fill="#3ff394" stroke="#3ff394"/>
<polygon points="224.73,186.26 234.63,181.96 225.23,178.36 215.34,182.61" fill="#3ff392" stroke="#3ff392"/>
<polygon points="244.15,185.61 253.92,181.32 244.4,177.72 234.63,181.96" fill="#40f390" stroke="#40f390"/>
<polygon points="263.57,184.98 273.22,180.7 263.57,177.09 253.92,181.32" fill="#40f38e" stroke="#40f38e"/>
<polygon points="283,184.36 292.53,180.09 282.75,176.48 273.22,180.7" fill="#40f38c" stroke="#40f38c"/>
<polygon points="302.43,183.75 311.84,179.5 301.94,175.88 292.53,180.09" fill="#40f38a" stroke="#40f38a"/>
<polygon points="321.88,183.16 331.16,178.92 321.13,175.3 311.84,179.5" fill="#41f388" stroke="#41f388"/>
<polygon points="341.32,182.59 350.49,178.35 340.33,174.73 331.16,178.92" fill="#41f386" stroke="#41f386"/>
<polygon points="360.77,182.03 369.82,177.8 359.53,174.17 350.49,178.35" fill="#41f384" stroke="#41f384"/>
<polygon points="380.23,181.48 389.15,177.27 378.74,173.63 369.82,177.8" fill="#41f383" stroke="#41f383"/>
<polygon points="156.14,192.67 166.53,188.29 157.52,184.65 147.15,188.99" fill="#3ef39b" stroke="#3ef39b"/>
<polygon points="175.66,191.97 185.92,187.6 176.79,183.96 166.53,188.29" fill="#3ff399" stroke="#3ff399"/>
<polygon points="195.18,191.28 205.33,186.92 196.06,183.28 185.92,187.6" fill="#3ff397" stroke="#3ff397"/>
<polygon points="214.71,190.61 224.73,186.26 215.34,182.61 205.33,186.92" fill="#3ff395" stroke="#3ff395"/>
<polygon points="234.25,189.95 244.15,185.61 234.63,181.96 224.73,186.26" fill="#3ff393" stroke="#3ff393"/>
<polygon points="253.8,189.31 263.57,184.98 253.92,181.32 244.15,185.61" fill="#40f391" stroke="#40f391"/>
<polygon points="273.35,188.68 283,184.36 273.22,180.7 263.57,184.98" fill="#40f38f" stroke="#40f38f"/>
<polygon points="292.91,188.06 302.43,183.75 292.53,180.09 283,184.36" fill="#40f38d" stroke="#40f38d"/>
<polygon points="312.47,187.46 321.88,183.16 311.84,179.5 302.43,183.75" fill="#40f38b" stroke="#40f38b"/>
<polygon points="332.04,186.88 341.32,182.59 331.16,178.92 321.88,183.16" fill="#40f389" stroke="#40f389"/>
<polygon points="351.62,186.3 360.77,182.03 350.49,178.35 341.32,182.59" fill="#41f387" stroke="#41f387"/>
<polygon points="371.2,185.75 380.23,181.48 369.82,177.8 360.77,182.03" fill="#41f386" stroke="#41f386"/>
<polygon points="165.26,196.4 175.66,191.97 166.53,188.29 156.14,192.67" fill="#3ef39c" stroke="#3ef39c"/>
<polygon points="184.91,195.7 195.18,191.28 185.92,187.6 175.66,191.97" fill="#3ef39a" stroke="#3ef39a"/>
<polygon points="204.56,195.02 214.71,190.61 205.33,186.92 195.18,191.28" fill="#3ff398" stroke="#3ff398"/>
<polygon points="224.23,194.35 234.25,189.95 224.73,186.26 214.71,190.61" fill="#3ff396" stroke="#3ff396"/>
<polygon points="243.9,193.69 253.8,189.31 244.15,185.61 234.25,189.95" fill="#3ff394" stroke="#3ff394"/>
<polygon points="263.57,193.05 273.35,188.68 263.57,184.98 253.8,189.31" fill="#3ff392" stroke="#3ff392"/>
<polygon points="283.25,192.43 292.91,188.06 283,184.36 273.35,188.68" fill="#40f390" stroke="#40f390"/>
<polygon points="302.94,191.82 312.47,187.46 302.43,183.75 292.91,188.06" fill="#40f38e" stroke="#40f38e"/>
<polygon points="322.64,191.22 332.04,186.88 321.88,183.16 312.47,187.46" fill="#40f38c" stroke="#40f38c"/>
<polygon points="342.34,190.64 351.62,186.3 341.32,182.59 332.04,186.88" fill="#40f38a" stroke="#40f38a"/>
<polygon points="362.05,190.07 371.2,185.75 360.77,182.03 351.62,186.3" fill="#40f389" stroke="#40f389"/>
<polygon points="174.5,200.18 184.91,195.7 175.66,191.97 165.26,196.4" fill="#3ef39d" stroke="#3ef39d"/>
<polygon points="194.28,199.48 204.56,195.02 195.18,191.28 184.91,195.7" fill="#3ef39b" stroke="#3ef39b"/>
<polygon points="214.07,198.8 224.23,194.35 214.71,190.61 204.56,195.02" fill="#3ff399" stroke="#3ff399"/>
<polygon points="233.87,198.14 243.9,193.69 234.25,189.95 224.23,194.35" fill="#3ff397" stroke="#3ff397"/>
<polygon points="253.67,197.49 263.57,193.05 253.8,189.31 243.9,193.69" fill="#3ff395" stroke="#3ff395"/>
<polygon points="273.48,196.85 283.25,192.43 273.35,188.68 263.57,193.05" fill="#3ff393" stroke="#3ff393"/>
<polygon points="293.29,196.23 302.94,191.82 292.91,188.06 283.25,192.43" fill="#40f391" stroke="#40f391"/>
<polygon points="313.11,195.62 322.64,191.22 312.47,187.46 302.94,191.82" fill="#40f38f" stroke="#40f38f"/>
<polygon points="332.94,195.03 342.34,190.64 332.04,186.88 322.64,191.22" fill="#40f38d" stroke="#40f38d"/>
<polygon points="352.78,194.45 362.05,190.07 351.62,186.3 342.34,190.64" fill="#40f38b" stroke="#40f38b"/>
<polygon points="183.87,204.01 194.28,199.48 184.91,195.7 174.5,200.18" fill="#3ef39e" stroke="#3ef39e"/>
<polygon points="203.78,203.32 214.07,198.8 204.56,195.02 194.28,199.48" fill="#3ef39c" stroke="#3ef39c"/>
<polygon points="223.7,202.64 233.87,198.14 224.23,194.35 214.07,198.8" fill="#3ef39a" stroke="#3ef39a"/>
<polygon points="243.63,201.98 253.67,197.49 243.9,193.69 233.87,198.14" fill="#3ff398" stroke="#3ff398"/>
<polygon points="263.57,201.33 273.48,196.85 263.57,193.05 253.67,197.49" fill="#3ff396" stroke="#3ff396"/>
<polygon points="283.52,200.7 293.29,196.23 283.25,192.43 273.48,196.85" fill="#3ff394" stroke="#3ff394"/>
<polygon points="303.47,200.08 313.11,195.62 302.94,191.82 293.29,196.23" fill="#3ff392" stroke="#3ff392"/>
<polygon points="323.42,199.48 332.94,195.03 322.64,191.22 313.11,195.62" fill="#40f390" stroke="#40f390"/>
<polygon points="343.38,198.89 352.78,194.45 342.34,190.64 332.94,195.03" fill="#40f38e" stroke="#40f38e"/>
<polygon points="193.36,207.89 203.78,203.32 194.28,199.48 183.87,204.01" fill="#3ef39f" stroke="#3ef39f"/>
<polygon points="213.41,207.2 223.7,202.64 214.07,198.8 203.78,203.32" fill="#3ef39d" stroke="#3ef39d"/>
<polygon points="233.47,206.53 243.63,201.98 233.87,198.14 223.7,202.64" fill="#3ef39b" stroke="#3ef39b"/>
<polygon points="253.54,205.87 263.57,201.33 253.67,197.49 243.63,201.98" fill="#3ff399" stroke="#3ff399"/>
<polygon points="273.61,205.23 283.52,200.7 273.48,196.85 263.57,201.33" fill="#3ff397" stroke="#3ff397"/>
<polygon points="293.69,204.6 303.47,200.08 293.29,196.23 283.52,200.7" fill="#3ff395" stroke="#3ff395"/>
<polygon points="313.78,203.98 323.42,199.48 313.11,195.62 303.47,200.08" fill="#3ff393" stroke="#3ff393"/>
<polygon points="333.87,203.39 343.38,198.89 332.94,195.03 323.42,199.48" fill="#3ff391" stroke="#3ff391"/>
<polygon points="202.98,211.82 213.41,207.2 203.78,203.32 193.36,207.89" fill="#3ef3a0" stroke="#3ef3a0"/>
<polygon points="223.17,211.14 233.47,206.53 223.7,202.64 213.41,207.2" fill="#3ef39e" stroke="#3ef39e"/>
<polygon points="243.37,210.47 253.54,205.87 243.63,201.98 233.47,206.53" fill="#3ef39c" stroke="#3ef39c"/>
<polygon points="263.57,209.81 273.61,205.23 263.57,201.33 253.54,205.87" fill="#3ff39a" stroke="#3ff39a"/>
<polygon points="283.78,209.18 293.69,204.6 283.52,200.7 273.61,205.23" fill="#3ff398" stroke="#3ff398"/>
<polygon points="304,208.55 313.78,203.98 303.47,200.08 293.69,204.6" fill="#3ff396" stroke="#3ff396"/>
<polygon points="324.23,207.94 333.87,203.39 323.42,199.48 313.78,203.98" fill="#3ff394" stroke="#3ff394"/>
<polygon points="212.73,215.81 223.17,211.14 213.41,207.2 202.98,211.82" fill="#3ef3a1" stroke="#3ef3a1"/>
<polygon points="233.06,215.13 243.37,210.47 233.47,206.53 223.17,211.14" fill="#3ef39f" stroke="#3ef39f"/>
<polygon points="253.4,214.46 263.57,209.81 253.54,205.87 243.37,210.47" fill="#3ef39d" stroke="#3ef39d"/>
<polygon points="273.74,213.81 283.78,209.18 273.61,205.23 263.57,209.81" fill="#3ef39b" stroke="#3ef39b"/>
<polygon points="294.1,213.18 304,208.55 293.69,204.6 283.78,209.18" fill="#3ff399" stroke="#3ff399"/>
<polygon points="314.46,212.56 324.23,207.94 313.78,203.98 304,208.55" fill="#3ff397" stroke="#3ff397"/>
<polygon points="222.62,219.85 233.06,215.13 223.17,211.14 212.73,215.81" fill="#3ef3a2" stroke="#3ef3a2"/>
<polygon points="243.09,219.18 253.4,214.46 243.37,210.47 233.06,215.13" fill="#3ef3a0" stroke="#3ef3a0"/>
<polygon points="263.57,218.51 273.74,213.81 263.57,209.81 253.4,214.46" fill="#3ef39e" stroke="#3ef39e"/>
<polygon points="284.06,217.87 294.1,213.18 283.78,209.18 273.74,213.81" fill="#3ef39c" stroke="#3ef39c"/>
<polygon points="304.55,217.24 314.46,212.56 304,208.55 294.1,213.18" fill="#3ff39a" stroke="#3ff39a"/>
<polygon points="232.64,223.95 243.09,219.18 233.06,215.13 222.62,219.85" fill="#3df3a3" stroke="#3df3a3"/>
<polygon points="253.26,223.28 263.57,218.51 253.4,214.46 243.09,219.18" fill="#3ef3a1" stroke="#3ef3a1"/>
<polygon points="273.88,222.62 284.06,217.87 273.74,213.81 263.57,218.51" fill="#3ef39f" stroke="#3ef39f"/>
<polygon points="294.52,221.98 304.55,217.24 294.1,213.18 284.06,217.87" fill="#3ef39d" stroke="#3ef39d"/>
<polygon points="242.81,228.11 253.26,223.28 243.09,219.18 232.64,223.95" fill="#3df3a4" stroke="#3df3a4"/>
<polygon points="263.57,227.44 273.88,222.62 263.57,218.51 253.26,223.28" fill="#3ef3a2" stroke="#3ef3a2"/>
<polygon points="284.34,226.79 294.52,221.98 284.06,217.87 273.88,222.62" fill="#3ef3a0" stroke="#3ef3a0"/>
<polygon points="253.12,232.32 263.57,227.44 253.26,223.28 242.81,228.11" fill="#3df3a4" stroke="#3df3a4"/>
<polygon points="274.03,231.66 284.34,226.79 273.88,222.62 263.57,227.44" fill="#3ef3a2" stroke="#3ef3a2"/>
<polygon points="263.57,236.6 274.03,231.66 263.57,227.44 253.12,232.32" fill="#3df3a5" stroke="#3df3a5"/>
</g>
<g fill="none" stroke-width="1.25" stroke-linecap="round">
<path d="M263.57,236.6 L253.12,232.32 M263.57,236.6 L274.03,231.66 M253.12,232.32 L242.81,228.11 M274.03,231.66 L284.34,226.79 M242.81,228.11 L232.64,223.95 M284.34,226.79 L294.52,221.98 M232.64,223.95 L222.62,219.85 M222.62,219.85 L212.73,215.81 M212.73,215.81 L202.98,211.82 M202.98,211.82 L193.36,207.89 M193.36,207.89 L183.87,204.01 M183.87,204.01 L174.5,200.18 M174.5,200.18 L165.26,196.4 M274.03,231.66 L263.57,227.44 M253.12,232.32 L263.57,227.44 M263.57,227.44 L253.26,223.28 M263.57,227.44 L273.88,222.62 M253.26,223.28 L243.09,219.18 M273.88,222.62 L284.06,217.87 M243.09,219.18 L233.06,215.13 M233.06,215.13 L223.17,211.14 M223.17,211.14 L213.41,207.2 M284.34,226.79 L273.88,222.62 M242.81,228.11 L253.26,223.28 M273.88,222.62 L263.57,218.51 M253.26,223.28 L263.57,218.51 M263.57,218.51 L253.4,214.46 M232.64,223.95 L243.09,219.18 M243.09,219.18 L253.4,214.46 M222.62,219.85 L233.06,215.13 M233.06,215.13 L243.37,210.47 M212.73,215.81 L223.17,211.14 M202.98,211.82 L213.41,207.2 M193.36,207.89 L203.78,203.32" stroke="#006038"/>
<path d="M294.52,221.98 L304.55,217.24 M304.55,217.24 L314.46,212.56 M314.46,212.56 L324.23,207.94 M324.23,207.94 L333.87,203.39 M333.87,203.39 L343.38,198.89 M165.26,196.4 L156.14,192.67 M156.14,192.67 L147.15,188.99 M147.15,188.99 L138.26,185.36 M138.26,185.36 L129.5,181.77 M129.5,181.77 L120.84,178.24 M120.84,178.24 L112.3,174.74 M112.3,174.74 L103.86,171.29 M103.86,171.29 L95.53,167.89 M95.53,167.89 L87.31,164.52 M87.31,164.52 L79.18,161.2 M284.06,217.87 L294.1,213.18 M294.1,213.18 L304,208.55 M304,208.55 L313.78,203.98 M213.41,207.2 L203.78,203.32 M313.78,203.98 L323.42,199.48 M203.78,203.32 L194.28,199.48 M323.42,199.48 L332.94,195.03 M194.28,199.48 L184.91,195.7 M184.91,195.7 L175.66,191.97 M175.66,191.97 L166.53,188.29 M166.53,188.29 L157.52,184.65 M157.52,184.65 L148.63,181.06 M148.63,181.06 L139.85,177.52 M139.85,177.52 L131.18,174.02 M131.18,174.02 L122.62,170.57 M122.62,170.57 L114.17,167.16 M114.17,167.16 L105.83,163.8 M105.83,163.8 L97.59,160.47 M97.59,160.47 L89.45,157.19 M263.57,218.51 L273.74,213.81 M253.4,214.46 L243.37,210.47 M273.74,213.81 L283.78,209.18 M243.37,210.47 L233.47,206.53 M283.78,209.18 L293.69,204.6 M233.47,206.53 L223.7,202.64 M293.69,204.6 L303.47,200.08 M223.7,202.64 L214.07,198.8 M303.47,200.08 L313.11,195.62 M214.07,198.8 L204.56,195.02 M204.56,195.02 L195.18,191.28 M195.18,191.28 L185.92,187.6 M185.92,187.6 L176.79,183.96 M176.79,183.96 L167.77,180.37 M167.77,180.37 L158.86,176.82 M158.86,176.82 L150.07,173.32 M150.07,173.32 L141.39,169.86 M141.39,169.86 L132.82,166.45 M132.82,166.45 L124.36,163.08 M124.36,163.08 L116,159.76 M294.52,221.98 L284.06,217.87 M284.06,217.87 L273.74,213.81 M273.74,213.81 L263.57,209.81 M253.4,214.46 L263.57,209.81 M263.57,209.81 L253.54,205.87 M263.57,209.81 L273.61,205.23 M253.54,205.87 L243.63,201.98 M273.61,205.23 L283.52,200.7 M243.63,201.98 L233.87,198.14 M283.52,200.7 L293.29,196.23 M233.87,198.14 L224.23,194.35 M293.29,196.23 L302.94,191.82 M224.23,194.35 L214.71,190.61 M214.71,190.61 L205.33,186.92 M205.33,186.92 L196.06,183.28 M196.06,183.28 L186.91,179.68 M186.91,179.68 L177.88,176.13 M177.88,176.13 L168.97,172.63 M168.97,172.63 L160.17,169.17 M160.17,169.17 L151.48,165.76 M304.55,217.24 L294.1,213.18 M294.1,213.18 L283.78,209.18 M283.78,209.18 L273.61,205.23 M243.37,210.47 L253.54,205.87 M273.61,205.23 L263.57,201.33 M253.54,205.87 L263.57,201.33 M263.57,201.33 L253.67,197.49 M263.57,201.33 L273.48,196.85 M253.67,197.49 L243.9,193.69 M273.48,196.85 L283.25,192.43 M243.9,193.69 L234.25,189.95 M283.25,192.43 L292.91,188.06 M234.25,189.95 L224.73,186.26 M224.73,186.26 L215.34,182.61 M215.34,182.61 L206.07,179.01 M206.07,179.01 L196.91,175.46 M196.91,175.46 L187.88,171.95 M314.46,212.56 L304,208.55 M304,208.55 L293.69,204.6 M223.17,211.14 L233.47,206.53 M293.69,204.6 L283.52,200.7 M233.47,206.53 L243.63,201.98 M283.52,200.7 L273.48,196.85 M243.63,201.98 L253.67,197.49 M273.48,196.85 L263.57,193.05 M253.67,197.49 L263.57,193.05 M263.57,193.05 L253.8,189.31 M263.57,193.05 L273.35,188.68 M253.8,189.31 L244.15,185.61 M244.15,185.61 L234.63,181.96 M324.23,207.94 L313.78,203.98 M313.78,203.98 L303.47,200.08 M213.41,207.2 L223.7,202.64 M303.47,200.08 L293.29,196.23 M223.7,202.64 L233.87,198.14 M293.29,196.23 L283.25,192.43 M233.87,198.14 L243.9,193.69 M283.25,192.43 L273.35,188.68 M243.9,193.69 L253.8,189.31 M253.8,189.31 L263.57,184.98 M333.87,203.39 L323.42,199.48 M323.42,199.48 L313.11,195.62 M203.78,203.32 L214.07,198.8 M313.11,195.62 L302.94,191.82 M214.07,198.8 L224.23,194.35 M224.23,194.35 L234.25,189.95 M234.25,189.95 L244.15,185.61 M183.87,204.01 L194.28,199.48 M194.28,199.48 L204.56,195.02 M204.56,195.02 L214.71,190.61 M214.71,190.61 L224.73,186.26 M224.73,186.26 L234.63,181.96 M174.5,200.18 L184.91,195.7 M184.91,195.7 L195.18,191.28 M195.18,191.28 L205.33,186.92 M205.33,186.92 L215.34,182.61 M215.34,182.61 L225.23,178.36 M165.26,196.4 L175.66,191.97 M175.66,191.97 L185.92,187.6 M185.92,187.6 L196.06,183.28 M196.06,183.28 L206.07,179.01 M156.14,192.67 L166.53,188.29 M166.53,188.29 L176.79,183.96 M176.79,183.96 L186.91,179.68 M186.91,179.68 L196.91,175.46 M147.15,188.99 L157.52,184.65 M157.52,184.65 L167.77,180.37 M167.77,180.37 L177.88,176.13 M177.88,176.13 L187.88,171.95 M138.26,185.36 L148.63,181.06 M148.63,181.06 L158.86,176.82 M158.86,176.82 L168.97,172.63 M168.97,172.63 L178.95,168.49 M129.5,181.77 L139.85,177.52 M139.85,177.52 L150.07,173.32 M150.07,173.32 L160.17,169.17 M120.84,178.24 L131.18,174.02 M131.18,174.02 L141.39,169.86 M141.39,169.86 L151.48,165.76 M112.3,174.74 L122.62,170.57 M122.62,170.57 L132.82,166.45 M132.82,166.45 L142.9,162.38 M103.86,171.29 L114.17,167.16 M114.17,167.16 L124.36,163.08 M95.53,167.89 L105.83,163.8 M105.83,163.8 L116,159.76 M87.31,164.52 L97.59,160.47 M97.59,160.47 L107.75,156.47 M79.18,161.2 L89.45,157.19 M89.45,157.19 L99.59,153.22" stroke="#006030"/>
<path d="M343.38,198.89 L352.78,194.45 M352.78,194.45 L362.05,190.07 M362.05,190.07 L371.2,185.75 M371.2,185.75 L380.23,181.48 M380.23,181.48 L389.15,177.27 M332.94,195.03 L342.34,190.64 M342.34,190.64 L351.62,186.3 M351.62,186.3 L360.77,182.03 M360.77,182.03 L369.82,177.8 M369.82,177.8 L378.74,173.63 M313.11,195.62 L322.64,191.22 M322.64,191.22 L332.04,186.88 M332.04,186.88 L341.32,182.59 M341.32,182.59 L350.49,178.35 M350.49,178.35 L359.53,174.17 M116,159.76 L107.75,156.47 M107.75,156.47 L99.59,153.22 M302.94,191.82 L312.47,187.46 M312.47,187.46 L321.88,183.16 M321.88,183.16 L331.16,178.92 M331.16,178.92 L340.33,174.73 M340.33,174.73 L349.39,170.59 M151.48,165.76 L142.9,162.38 M142.9,162.38 L134.42,159.05 M134.42,159.05 L126.05,155.76 M126.05,155.76 L117.78,152.51 M117.78,152.51 L109.62,149.31 M292.91,188.06 L302.43,183.75 M302.43,183.75 L311.84,179.5 M311.84,179.5 L321.13,175.3 M321.13,175.3 L330.31,171.15 M187.88,171.95 L178.95,168.49 M178.95,168.49 L170.14,165.07 M170.14,165.07 L161.44,161.7 M161.44,161.7 L152.85,158.36 M152.85,158.36 L144.36,155.07 M144.36,155.07 L135.98,151.82 M135.98,151.82 L127.7,148.61 M127.7,148.61 L119.52,145.43 M273.35,188.68 L283,184.36 M283,184.36 L292.53,180.09 M234.63,181.96 L225.23,178.36 M292.53,180.09 L301.94,175.88 M225.23,178.36 L215.95,174.8 M301.94,175.88 L311.23,171.72 M215.95,174.8 L206.79,171.29 M311.23,171.72 L320.41,167.62 M206.79,171.29 L197.75,167.83 M197.75,167.83 L188.82,164.41 M188.82,164.41 L180,161.03 M180,161.03 L171.29,157.69 M171.29,157.69 L162.69,154.39 M162.69,154.39 L154.19,151.14 M154.19,151.14 L145.8,147.92 M145.8,147.92 L137.51,144.75 M137.51,144.75 L129.32,141.61 M273.35,188.68 L263.57,184.98 M263.57,184.98 L253.92,181.32 M263.57,184.98 L273.22,180.7 M253.92,181.32 L244.4,177.72 M273.22,180.7 L282.75,176.48 M244.4,177.72 L234.99,174.16 M282.75,176.48 L292.16,172.31 M234.99,174.16 L225.71,170.64 M292.16,172.31 L301.46,168.19 M225.71,170.64 L216.54,167.18 M301.46,168.19 L310.64,164.13 M216.54,167.18 L207.49,163.75 M207.49,163.75 L198.56,160.37 M198.56,160.37 L189.73,157.03 M189.73,157.03 L181.01,153.73 M181.01,153.73 L172.4,150.47 M172.4,150.47 L163.9,147.25 M163.9,147.25 L155.5,144.07 M155.5,144.07 L147.19,140.93 M302.94,191.82 L292.91,188.06 M292.91,188.06 L283,184.36 M283,184.36 L273.22,180.7 M244.15,185.61 L253.92,181.32 M273.22,180.7 L263.57,177.09 M253.92,181.32 L263.57,177.09 M263.57,177.09 L254.04,173.53 M263.57,177.09 L273.1,172.91 M254.04,173.53 L244.64,170.01 M273.1,172.91 L282.51,168.79 M244.64,170.01 L235.35,166.54 M282.51,168.79 L291.81,164.71 M235.35,166.54 L226.18,163.11 M226.18,163.11 L217.12,159.72 M217.12,159.72 L208.18,156.38 M208.18,156.38 L199.35,153.08 M199.35,153.08 L190.62,149.82 M190.62,149.82 L182.01,146.59 M343.38,198.89 L332.94,195.03 M332.94,195.03 L322.64,191.22 M322.64,191.22 L312.47,187.46 M312.47,187.46 L302.43,183.75 M302.43,183.75 L292.53,180.09 M292.53,180.09 L282.75,176.48 M234.63,181.96 L244.4,177.72 M282.75,176.48 L273.1,172.91 M244.4,177.72 L254.04,173.53 M273.1,172.91 L263.57,169.39 M254.04,173.53 L263.57,169.39 M263.57,169.39 L254.16,165.91 M263.57,169.39 L272.98,165.3 M254.16,165.91 L244.87,162.48 M272.98,165.3 L282.28,161.27 M244.87,162.48 L235.7,159.09 M235.7,159.09 L226.64,155.75 M226.64,155.75 L217.69,152.44 M352.78,194.45 L342.34,190.64 M342.34,190.64 L332.04,186.88 M332.04,186.88 L321.88,183.16 M321.88,183.16 L311.84,179.5 M311.84,179.5 L301.94,175.88 M301.94,175.88 L292.16,172.31 M225.23,178.36 L234.99,174.16 M292.16,172.31 L282.51,168.79 M234.99,174.16 L244.64,170.01 M282.51,168.79 L272.98,165.3 M244.64,170.01 L254.16,165.91 M272.98,165.3 L263.57,161.87 M254.16,165.91 L263.57,161.87 M263.57,161.87 L254.28,158.48 M362.05,190.07 L351.62,186.3 M351.62,186.3 L341.32,182.59 M341.32,182.59 L331.16,178.92 M331.16,178.92 L321.13,175.3 M321.13,175.3 L311.23,171.72 M206.07,179.01 L215.95,174.8 M311.23,171.72 L301.46,168.19 M215.95,174.8 L225.71,170.64 M301.46,168.19 L291.81,164.71 M225.71,170.64 L235.35,166.54 M291.81,164.71 L282.28,161.27 M235.35,166.54 L244.87,162.48 M244.87,162.48 L254.28,158.48 M371.2,185.75 L360.77,182.03 M360.77,182.03 L350.49,178.35 M350.49,178.35 L340.33,174.73 M340.33,174.73 L330.31,171.15 M330.31,171.15 L320.41,167.62 M196.91,175.46 L206.79,171.29 M206.79,171.29 L216.54,167.18 M216.54,167.18 L226.18,163.11 M226.18,163.11 L235.7,159.09 M235.7,159.09 L245.1,155.12 M380.23,181.48 L369.82,177.8 M369.82,177.8 L359.53,174.17 M359.53,174.17 L349.39,170.59 M187.88,171.95 L197.75,167.83 M197.75,167.83 L207.49,163.75 M207.49,163.75 L217.12,159.72 M217.12,159.72 L226.64,155.75 M178.95,168.49 L188.82,164.41 M188.82,164.41 L198.56,160.37 M198.56,160.37 L208.18,156.38 M208.18,156.38 L217.69,152.44 M160.17,169.17 L170.14,165.07 M170.14,165.07 L180,161.03 M180,161.03 L189.73,157.03 M189.73,157.03 L199.35,153.08 M199.35,153.08 L208.85,149.17 M151.48,165.76 L161.44,161.7 M161.44,161.7 L171.29,157.69 M171.29,157.69 L181.01,153.73 M181.01,153.73 L190.62,149.82 M142.9,162.38 L152.85,158.36 M152.85,158.36 L162.69,154.39 M162.69,154.39 L172.4,150.47 M172.4,150.47 L182.01,146.59 M124.36,163.08 L134.42,159.05 M134.42,159.05 L144.36,155.07 M144.36,155.07 L154.19,151.14 M154.19,151.14 L163.9,147.25 M163.9,147.25 L173.49,143.41 M116,159.76 L126.05,155.76 M126.05,155.76 L135.98,151.82 M135.98,151.82 L145.8,147.92 M145.8,147.92 L155.5,144.07 M107.75,156.47 L117.78,152.51 M117.78,152.51 L127.7,148.61 M127.7,148.61 L137.51,144.75 M137.51,144.75 L147.19,140.93 M99.59,153.22 L109.62,149.31 M109.62,149.31 L119.52,145.43 M119.52,145.43 L129.32,141.61 M129.32,141.61 L138.99,137.83" stroke="#006028"/>
<path d="M389.15,177.27 L397.96,173.1 M397.96,173.1 L406.65,169 M406.65,169 L415.24,164.94 M415.24,164.94 L423.72,160.93 M423.72,160.93 L432.1,156.97 M378.74,173.63 L387.56,169.51 M387.56,169.51 L396.26,165.44 M396.26,165.44 L404.86,161.43 M404.86,161.43 L413.36,157.46 M413.36,157.46 L421.74,153.54 M359.53,174.17 L368.47,170.04 M368.47,170.04 L377.29,165.97 M377.29,165.97 L386.01,161.94 M386.01,161.94 L394.62,157.96 M394.62,157.96 L403.12,154.03 M349.39,170.59 L358.33,166.5 M358.33,166.5 L367.16,162.47 M367.16,162.47 L375.88,158.48 M375.88,158.48 L384.5,154.54 M384.5,154.54 L393.01,150.65 M330.31,171.15 L339.37,167.05 M339.37,167.05 L348.31,163.01 M348.31,163.01 L357.15,159.01 M357.15,159.01 L365.88,155.06 M365.88,155.06 L374.5,151.16 M320.41,167.62 L329.47,163.56 M329.47,163.56 L338.42,159.55 M338.42,159.55 L347.27,155.6 M347.27,155.6 L356,151.69 M356,151.69 L364.63,147.82 M310.64,164.13 L319.7,160.11 M319.7,160.11 L328.66,156.14 M328.66,156.14 L337.51,152.23 M337.51,152.23 L346.25,148.35 M147.19,140.93 L138.99,137.83 M291.81,164.71 L300.99,160.68 M300.99,160.68 L310.06,156.71 M310.06,156.71 L319.01,152.78 M319.01,152.78 L327.87,148.9 M327.87,148.9 L336.61,145.06 M182.01,146.59 L173.49,143.41 M173.49,143.41 L165.08,140.27 M165.08,140.27 L156.77,137.16 M156.77,137.16 L148.56,134.09 M282.28,161.27 L291.46,157.28 M291.46,157.28 L300.53,153.34 M300.53,153.34 L309.49,149.45 M217.69,152.44 L208.85,149.17 M309.49,149.45 L318.34,145.61 M208.85,149.17 L200.12,145.95 M318.34,145.61 L327.09,141.81 M200.12,145.95 L191.5,142.76 M191.5,142.76 L182.97,139.62 M182.97,139.62 L174.56,136.51 M174.56,136.51 L166.24,133.43 M166.24,133.43 L158.02,130.4 M263.57,161.87 L272.87,157.87 M254.28,158.48 L245.1,155.12 M272.87,157.87 L282.05,153.92 M245.1,155.12 L236.04,151.82 M282.05,153.92 L291.12,150.02 M236.04,151.82 L227.09,148.55 M291.12,150.02 L300.08,146.17 M227.09,148.55 L218.24,145.32 M300.08,146.17 L308.94,142.36 M218.24,145.32 L209.51,142.13 M209.51,142.13 L200.87,138.98 M200.87,138.98 L192.35,135.87 M192.35,135.87 L183.92,132.79 M183.92,132.79 L175.59,129.75 M175.59,129.75 L167.36,126.75 M282.28,161.27 L272.87,157.87 M272.87,157.87 L263.57,154.52 M254.28,158.48 L263.57,154.52 M263.57,154.52 L254.39,151.2 M263.57,154.52 L272.75,150.61 M254.39,151.2 L245.33,147.93 M272.75,150.61 L281.82,146.74 M245.33,147.93 L236.37,144.7 M281.82,146.74 L290.79,142.93 M236.37,144.7 L227.52,141.51 M290.79,142.93 L299.64,139.15 M227.52,141.51 L218.78,138.35 M218.78,138.35 L210.14,135.24 M210.14,135.24 L201.61,132.16 M201.61,132.16 L193.18,129.12 M193.18,129.12 L184.84,126.11 M184.84,126.11 L176.61,123.14 M320.41,167.62 L310.64,164.13 M310.64,164.13 L300.99,160.68 M300.99,160.68 L291.46,157.28 M291.46,157.28 L282.05,153.92 M282.05,153.92 L272.75,150.61 M245.1,155.12 L254.39,151.2 M272.75,150.61 L263.57,147.33 M254.39,151.2 L263.57,147.33 M263.57,147.33 L254.5,144.1 M263.57,147.33 L272.64,143.5 M254.5,144.1 L245.54,140.9 M272.64,143.5 L281.6,139.72 M245.54,140.9 L236.69,137.74 M236.69,137.74 L227.95,134.62 M227.95,134.62 L219.31,131.54 M219.31,131.54 L210.77,128.49 M349.39,170.59 L339.37,167.05 M339.37,167.05 L329.47,163.56 M329.47,163.56 L319.7,160.11 M319.7,160.11 L310.06,156.71 M310.06,156.71 L300.53,153.34 M300.53,153.34 L291.12,150.02 M226.64,155.75 L236.04,151.82 M291.12,150.02 L281.82,146.74 M236.04,151.82 L245.33,147.93 M281.82,146.74 L272.64,143.5 M245.33,147.93 L254.5,144.1 M272.64,143.5 L263.57,140.3 M254.5,144.1 L263.57,140.3 M263.57,140.3 L254.61,137.14 M263.57,140.3 L272.53,136.56 M254.61,137.14 L245.76,134.02 M389.15,177.27 L378.74,173.63 M378.74,173.63 L368.47,170.04 M368.47,170.04 L358.33,166.5 M358.33,166.5 L348.31,163.01 M348.31,163.01 L338.42,159.55 M338.42,159.55 L328.66,156.14 M328.66,156.14 L319.01,152.78 M319.01,152.78 L309.49,149.45 M309.49,149.45 L300.08,146.17 M217.69,152.44 L227.09,148.55 M300.08,146.17 L290.79,142.93 M227.09,148.55 L236.37,144.7 M290.79,142.93 L281.6,139.72 M236.37,144.7 L245.54,140.9 M281.6,139.72 L272.53,136.56 M245.54,140.9 L254.61,137.14 M254.61,137.14 L263.57,133.43 M397.96,173.1 L387.56,169.51 M387.56,169.51 L377.29,165.97 M377.29,165.97 L367.16,162.47 M367.16,162.47 L357.15,159.01 M357.15,159.01 L347.27,155.6 M347.27,155.6 L337.51,152.23 M337.51,152.23 L327.87,148.9 M327.87,148.9 L318.34,145.61 M318.34,145.61 L308.94,142.36 M208.85,149.17 L218.24,145.32 M218.24,145.32 L227.52,141.51 M227.52,141.51 L236.69,137.74 M236.69,137.74 L245.76,134.02 M406.65,169 L396.26,165.44 M396.26,165.44 L386.01,161.94 M386.01,161.94 L375.88,158.48 M375.88,158.48 L365.88,155.06 M365.88,155.06 L356,151.69 M356,151.69 L346.25,148.35 M346.25,148.35 L336.61,145.06 M190.62,149.82 L200.12,145.95 M200.12,145.95 L209.51,142.13 M209.51,142.13 L218.78,138.35 M218.78,138.35 L227.95,134.62 M227.95,134.62 L237.01,130.93 M415.24,164.94 L404.86,161.43 M404.86,161.43 L394.62,157.96 M394.62,157.96 L384.5,154.54 M384.5,154.54 L374.5,151.16 M374.5,151.16 L364.63,147.82 M182.01,146.59 L191.5,142.76 M191.5,142.76 L200.87,138.98 M200.87,138.98 L210.14,135.24 M210.14,135.24 L219.31,131.54 M423.72,160.93 L413.36,157.46 M413.36,157.46 L403.12,154.03 M173.49,143.41 L182.97,139.62 M182.97,139.62 L192.35,135.87 M192.35,135.87 L201.61,132.16 M201.61,132.16 L210.77,128.49 M155.5,144.07 L165.08,140.27 M165.08,140.27 L174.56,136.51 M174.56,136.51 L183.92,132.79 M183.92,132.79 L193.18,129.12 M193.18,129.12 L202.33,125.48 M147.19,140.93 L156.77,137.16 M156.77,137.16 L166.24,133.43 M166.24,133.43 L175.59,129.75 M175.59,129.75 L184.84,126.11 M138.99,137.83 L148.56,134.09 M148.56,134.09 L158.02,130.4 M158.02,130.4 L167.36,126.75 M167.36,126.75 L176.61,123.14" stroke="#006020"/>
<path d="M432.1,156.97 L440.37,153.06 M440.37,153.06 L448.55,149.2 M421.74,153.54 L430.03,149.67 M430.03,149.67 L438.22,145.85 M403.12,154.03 L411.52,150.15 M411.52,150.15 L419.82,146.32 M419.82,146.32 L428.01,142.53 M393.01,150.65 L401.42,146.81 M401.42,146.81 L409.73,143.01 M409.73,143.01 L417.93,139.26 M374.5,151.16 L383.02,147.31 M383.02,147.31 L391.44,143.5 M391.44,143.5 L399.76,139.74 M399.76,139.74 L407.98,136.03 M364.63,147.82 L373.16,144.01 M373.16,144.01 L381.58,140.24 M381.58,140.24 L389.91,136.51 M389.91,136.51 L398.14,132.83 M346.25,148.35 L354.88,144.53 M354.88,144.53 L363.42,140.75 M363.42,140.75 L371.85,137.02 M371.85,137.02 L380.18,133.33 M380.18,133.33 L388.42,129.68 M336.61,145.06 L345.25,141.27 M345.25,141.27 L353.79,137.53 M353.79,137.53 L362.23,133.83 M362.23,133.83 L370.57,130.17 M370.57,130.17 L378.81,126.56 M327.09,141.81 L335.74,138.06 M335.74,138.06 L344.28,134.35 M344.28,134.35 L352.72,130.68 M352.72,130.68 L361.07,127.06 M308.94,142.36 L317.69,138.6 M317.69,138.6 L326.34,134.88 M326.34,134.88 L334.88,131.21 M334.88,131.21 L343.33,127.58 M343.33,127.58 L351.68,123.99 M299.64,139.15 L308.4,135.43 M308.4,135.43 L317.05,131.74 M317.05,131.74 L325.6,128.1 M325.6,128.1 L334.05,124.5 M281.6,139.72 L290.46,135.99 M290.46,135.99 L299.22,132.29 M299.22,132.29 L307.87,128.64 M307.87,128.64 L316.42,125.03 M210.77,128.49 L202.33,125.48 M316.42,125.03 L324.88,121.47 M202.33,125.48 L193.99,122.51 M193.99,122.51 L185.74,119.57 M272.53,136.56 L281.39,132.86 M245.76,134.02 L237.01,130.93 M281.39,132.86 L290.15,129.2 M237.01,130.93 L228.36,127.89 M290.15,129.2 L298.8,125.58 M228.36,127.89 L219.82,124.87 M298.8,125.58 L307.36,122 M219.82,124.87 L211.37,121.89 M211.37,121.89 L203.03,118.95 M203.03,118.95 L194.78,116.04 M272.53,136.56 L263.57,133.43 M263.57,133.43 L254.72,130.34 M263.57,133.43 L272.43,129.76 M254.72,130.34 L245.96,127.29 M272.43,129.76 L281.18,126.14 M245.96,127.29 L237.32,124.27 M281.18,126.14 L289.84,122.55 M237.32,124.27 L228.77,121.29 M289.84,122.55 L298.4,119.01 M228.77,121.29 L220.32,118.35 M220.32,118.35 L211.97,115.43 M211.97,115.43 L203.71,112.56 M308.94,142.36 L299.64,139.15 M299.64,139.15 L290.46,135.99 M290.46,135.99 L281.39,132.86 M281.39,132.86 L272.43,129.76 M245.76,134.02 L254.72,130.34 M272.43,129.76 L263.57,126.71 M254.72,130.34 L263.57,126.71 M263.57,126.71 L254.82,123.69 M263.57,126.71 L272.33,123.11 M254.82,123.69 L246.17,120.7 M272.33,123.11 L280.98,119.56 M246.17,120.7 L237.62,117.75 M280.98,119.56 L289.54,116.05 M237.62,117.75 L229.16,114.84 M229.16,114.84 L220.81,111.96 M220.81,111.96 L212.55,109.11 M336.61,145.06 L327.09,141.81 M327.09,141.81 L317.69,138.6 M317.69,138.6 L308.4,135.43 M308.4,135.43 L299.22,132.29 M299.22,132.29 L290.15,129.2 M290.15,129.2 L281.18,126.14 M237.01,130.93 L245.96,127.29 M281.18,126.14 L272.33,123.11 M245.96,127.29 L254.82,123.69 M272.33,123.11 L263.57,120.12 M254.82,123.69 L263.57,120.12 M263.57,120.12 L254.92,117.17 M263.57,120.12 L272.23,116.6 M254.92,117.17 L246.37,114.25 M246.37,114.25 L237.91,111.37 M364.63,147.82 L354.88,144.53 M354.88,144.53 L345.25,141.27 M345.25,141.27 L335.74,138.06 M335.74,138.06 L326.34,134.88 M326.34,134.88 L317.05,131.74 M317.05,131.74 L307.87,128.64 M307.87,128.64 L298.8,125.58 M219.31,131.54 L228.36,127.89 M298.8,125.58 L289.84,122.55 M228.36,127.89 L237.32,124.27 M289.84,122.55 L280.98,119.56 M237.32,124.27 L246.17,120.7 M280.98,119.56 L272.23,116.6 M246.17,120.7 L254.92,117.17 M272.23,116.6 L263.57,113.68 M254.92,117.17 L263.57,113.68 M403.12,154.03 L393.01,150.65 M393.01,150.65 L383.02,147.31 M383.02,147.31 L373.16,144.01 M373.16,144.01 L363.42,140.75 M363.42,140.75 L353.79,137.53 M353.79,137.53 L344.28,134.35 M344.28,134.35 L334.88,131.21 M334.88,131.21 L325.6,128.1 M325.6,128.1 L316.42,125.03 M316.42,125.03 L307.36,122 M210.77,128.49 L219.82,124.87 M307.36,122 L298.4,119.01 M219.82,124.87 L228.77,121.29 M228.77,121.29 L237.62,117.75 M237.62,117.75 L246.37,114.25 M432.1,156.97 L421.74,153.54 M421.74,153.54 L411.52,150.15 M411.52,150.15 L401.42,146.81 M401.42,146.81 L391.44,143.5 M391.44,143.5 L381.58,140.24 M381.58,140.24 L371.85,137.02 M371.85,137.02 L362.23,133.83 M362.23,133.83 L352.72,130.68 M352.72,130.68 L343.33,127.58 M343.33,127.58 L334.05,124.5 M334.05,124.5 L324.88,121.47 M202.33,125.48 L211.37,121.89 M211.37,121.89 L220.32,118.35 M220.32,118.35 L229.16,114.84 M229.16,114.84 L237.91,111.37 M440.37,153.06 L430.03,149.67 M430.03,149.67 L419.82,146.32 M419.82,146.32 L409.73,143.01 M409.73,143.01 L399.76,139.74 M399.76,139.74 L389.91,136.51 M389.91,136.51 L380.18,133.33 M380.18,133.33 L370.57,130.17 M370.57,130.17 L361.07,127.06 M361.07,127.06 L351.68,123.99 M184.84,126.11 L193.99,122.51 M193.99,122.51 L203.03,118.95 M203.03,118.95 L211.97,115.43 M211.97,115.43 L220.81,111.96 M220.81,111.96 L229.55,108.52 M448.55,149.2 L438.22,145.85 M438.22,145.85 L428.01,142.53 M428.01,142.53 L417.93,139.26 M417.93,139.26 L407.98,136.03 M407.98,136.03 L398.14,132.83 M398.14,132.83 L388.42,129.68 M176.61,123.14 L185.74,119.57 M185.74,119.57 L194.78,116.04 M194.78,116.04 L203.71,112.56 M203.71,112.56 L212.55,109.11" stroke="#006018"/>
<path d="M361.07,127.06 L369.32,123.48 M351.68,123.99 L359.94,120.44 M334.05,124.5 L342.41,120.95 M342.41,120.95 L350.67,117.43 M324.88,121.47 L333.24,117.94 M333.24,117.94 L341.5,114.46 M307.36,122 L315.81,118.47 M315.81,118.47 L324.18,114.98 M324.18,114.98 L332.44,111.52 M298.4,119.01 L306.86,115.51 M306.86,115.51 L315.22,112.04 M315.22,112.04 L323.49,108.62 M289.54,116.05 L298,112.58 M298,112.58 L306.36,109.14 M306.36,109.14 L314.64,105.75 M272.23,116.6 L280.78,113.12 M280.78,113.12 L289.24,109.68 M237.91,111.37 L229.55,108.52 M289.24,109.68 L297.61,106.28 M229.55,108.52 L221.29,105.7 M297.61,106.28 L305.89,102.91 M263.57,113.68 L255.02,110.79 M263.57,113.68 L272.13,110.23 M255.02,110.79 L246.56,107.94 M272.13,110.23 L280.59,106.82 M246.56,107.94 L238.2,105.11 M280.59,106.82 L288.96,103.44 M238.2,105.11 L229.93,102.32 M288.96,103.44 L297.23,100.11 M298.4,119.01 L289.54,116.05 M289.54,116.05 L280.78,113.12 M280.78,113.12 L272.13,110.23 M246.37,114.25 L255.02,110.79 M272.13,110.23 L263.57,107.37 M255.02,110.79 L263.57,107.37 M263.57,107.37 L255.11,104.55 M263.57,107.37 L272.03,103.99 M255.11,104.55 L246.75,101.75 M272.03,103.99 L280.4,100.64 M246.75,101.75 L238.48,98.99 M324.88,121.47 L315.81,118.47 M315.81,118.47 L306.86,115.51 M306.86,115.51 L298,112.58 M298,112.58 L289.24,109.68 M289.24,109.68 L280.59,106.82 M237.91,111.37 L246.56,107.94 M280.59,106.82 L272.03,103.99 M246.56,107.94 L255.11,104.55 M272.03,103.99 L263.57,101.19 M255.11,104.55 L263.57,101.19 M263.57,101.19 L255.21,98.42 M263.57,101.19 L271.94,97.87 M255.21,98.42 L246.93,95.69 M351.68,123.99 L342.41,120.95 M342.41,120.95 L333.24,117.94 M333.24,117.94 L324.18,114.98 M324.18,114.98 L315.22,112.04 M315.22,112.04 L306.36,109.14 M306.36,109.14 L297.61,106.28 M297.61,106.28 L288.96,103.44 M229.55,108.52 L238.2,105.11 M288.96,103.44 L280.4,100.64 M238.2,105.11 L246.75,101.75 M280.4,100.64 L271.94,97.87 M246.75,101.75 L255.21,98.42 M255.21,98.42 L263.57,95.13 M388.42,129.68 L378.81,126.56 M378.81,126.56 L369.32,123.48 M369.32,123.48 L359.94,120.44 M359.94,120.44 L350.67,117.43 M350.67,117.43 L341.5,114.46 M341.5,114.46 L332.44,111.52 M332.44,111.52 L323.49,108.62 M323.49,108.62 L314.64,105.75 M314.64,105.75 L305.89,102.91 M212.55,109.11 L221.29,105.7 M305.89,102.91 L297.23,100.11 M221.29,105.7 L229.93,102.32 M229.93,102.32 L238.48,98.99 M238.48,98.99 L246.93,95.69" stroke="#006010"/>
<path d="M280.4,100.64 L288.68,97.33 M271.94,97.87 L280.21,94.59 M271.94,97.87 L263.57,95.13 M263.57,95.13 L255.3,92.43 M263.57,95.13 L271.85,91.88 M297.23,100.11 L288.68,97.33 M288.68,97.33 L280.21,94.59 M280.21,94.59 L271.85,91.88 M246.93,95.69 L255.3,92.43 M271.85,91.88 L263.57,89.2 M255.3,92.43 L263.57,89.2" stroke="#086010"/>
</g>
<circle cx="79.3" cy="164.3" r="3.9" fill="#f2cccc" stroke="#5a3030" stroke-width="1"/>
<path d="M263.6 80.4 L263.6 89.2" stroke="#111" stroke-width="1.6"/>
<circle cx="263.6" cy="80.4" r="4.0" fill="url(#rd)" stroke="#5a0a0a" stroke-width="1"/>
<circle cx="448.6" cy="145.3" r="4.0" fill="url(#rd)" stroke="#5a0a0a" stroke-width="1"/>
<circle cx="263.3" cy="150.9" r="3.6" fill="url(#rd)" stroke="#5a0a0a" stroke-width="1"/>
<circle cx="263.6" cy="231.8" r="3.5" fill="url(#rd)" stroke="#5a0a0a" stroke-width="1"/>
<g font-family="'Liberation Serif','DejaVu Serif',serif" font-size="12.9" fill="#161616" stroke="#161616" stroke-width="0.34" text-rendering="geometricPrecision">
<text x="60.78" y="52.37" textLength="6.22" lengthAdjust="spacingAndGlyphs">1</text>
<text x="52.96" y="83.25" textLength="15.56" lengthAdjust="spacingAndGlyphs">0.9</text>
<text x="54.47" y="114.14" textLength="15.56" lengthAdjust="spacingAndGlyphs">0.8</text>
<text x="55.98" y="145.02" textLength="15.56" lengthAdjust="spacingAndGlyphs">0.7</text>
<text x="57.48" y="175.91" textLength="15.56" lengthAdjust="spacingAndGlyphs">0.6</text>
<text x="58.99" y="206.8" textLength="15.56" lengthAdjust="spacingAndGlyphs">0.5</text>
<text x="60.5" y="237.68" textLength="15.56" lengthAdjust="spacingAndGlyphs">0.4</text>
<text x="250.85" y="395.4" textLength="6.22" lengthAdjust="spacingAndGlyphs">3</text>
<text x="205.97" y="378.3" textLength="15.56" lengthAdjust="spacingAndGlyphs">3.6</text>
<text x="170.44" y="361.19" textLength="15.56" lengthAdjust="spacingAndGlyphs">4.2</text>
<text x="134.9" y="344.09" textLength="15.56" lengthAdjust="spacingAndGlyphs">4.8</text>
<text x="99.37" y="326.99" textLength="15.56" lengthAdjust="spacingAndGlyphs">5.4</text>
<text x="73.17" y="309.88" textLength="6.22" lengthAdjust="spacingAndGlyphs">6</text>
<text x="270.07" y="395.1" textLength="18.67" lengthAdjust="spacingAndGlyphs">100</text>
<text x="305.61" y="378" textLength="18.67" lengthAdjust="spacingAndGlyphs">120</text>
<text x="341.14" y="360.89" textLength="18.67" lengthAdjust="spacingAndGlyphs">140</text>
<text x="376.68" y="343.79" textLength="18.67" lengthAdjust="spacingAndGlyphs">160</text>
<text x="412.21" y="326.69" textLength="18.67" lengthAdjust="spacingAndGlyphs">180</text>
<text x="447.75" y="309.58" textLength="18.67" lengthAdjust="spacingAndGlyphs">200</text>
<text x="88.5" y="377" textLength="37" lengthAdjust="spacingAndGlyphs">h (mm)</text>
<text x="405.5" y="377" textLength="30.08" lengthAdjust="spacingAndGlyphs">C (%)</text>
<text transform="translate(20.0 181) rotate(-90)" text-anchor="middle" textLength="163.8" lengthAdjust="spacingAndGlyphs">depth of compressive stress layer</text>
</g>
<text x="237.2" y="433.8" font-family="'Liberation Sans','DejaVu Sans',sans-serif" font-size="18" fill="#1a1a1a" stroke="#1a1a1a" stroke-width="0.25" text-anchor="middle" textLength="18.3" lengthAdjust="spacingAndGlyphs" text-rendering="geometricPrecision">(a)</text>
<path d="M617.72,51.32 L808.07,8.8 L998.42,51.32 M619.24,82.35 L808.07,36.69 L996.9,82.35 M620.76,113.38 L808.07,64.58 L995.38,113.38 M622.28,144.41 L808.07,92.47 L993.86,144.41 M623.8,175.44 L808.07,120.36 L992.34,175.44 M625.32,206.47 L808.07,148.25 L990.82,206.47 M626.84,237.49 L808.07,176.14 L989.3,237.49 M665.31,40.69 L672.15,222.16 M855.66,19.43 L853.38,191.48 M712.9,30.06 L717.46,206.82 M903.25,30.06 L898.69,206.82 M760.48,19.43 L762.76,191.48 M950.84,40.69 L943.99,222.16 M808.07,8.8 L808.07,176.14" fill="none" stroke="#323232" stroke-width="1.35"/>
<path d="M617.72,51.32 L808.07,8.8 L998.42,51.32" fill="none" stroke="#1e1e1e" stroke-width="1.5" stroke-linejoin="round"/>
<path d="M617.72,51.32 L629.69,295.65 M998.42,51.32 L986.45,295.65" fill="none" stroke="#404040" stroke-width="1.3"/>
<polygon points="629.69,295.65 808.07,381.22 986.45,295.65 808.07,228.79" fill="#666464" stroke="#111" stroke-width="1.6" stroke-linejoin="round"/>
<path d="M714.6,264 Q808,268 892.7,261.6" fill="none" stroke="#a2e040" stroke-width="2.6"/>
<path d="M651.5,289.2 Q808,298.5 950.2,283.7" fill="none" stroke="#3cd05a" stroke-width="2.6"/>
<path d="M690.5,325.6 Q808,332.5 942,316.3" fill="none" stroke="#3cccd6" stroke-width="2.6"/>
<path d="M783.3,369 Q809,369.6 837,367.1" fill="none" stroke="#2846d6" stroke-width="2.6"/>
<circle cx="617.72" cy="51.32" r="1.9" fill="#000"/>
<circle cx="619.24" cy="82.35" r="1.9" fill="#000"/>
<circle cx="620.76" cy="113.38" r="1.9" fill="#000"/>
<circle cx="622.28" cy="144.41" r="1.9" fill="#000"/>
<circle cx="623.8" cy="175.44" r="1.9" fill="#000"/>
<circle cx="625.32" cy="206.47" r="1.9" fill="#000"/>
<circle cx="626.84" cy="237.49" r="1.9" fill="#000"/>
<circle cx="808.07" cy="381.22" r="1.9" fill="#000"/>
<circle cx="763.48" cy="359.82" r="1.9" fill="#000"/>
<circle cx="852.67" cy="359.82" r="1.9" fill="#000"/>
<circle cx="718.88" cy="338.43" r="1.9" fill="#000"/>
<circle cx="897.26" cy="338.43" r="1.9" fill="#000"/>
<circle cx="674.28" cy="317.04" r="1.9" fill="#000"/>
<circle cx="941.86" cy="317.04" r="1.9" fill="#000"/>
<circle cx="629.69" cy="295.65" r="1.9" fill="#000"/>
<circle cx="986.45" cy="295.65" r="1.9" fill="#000"/>
<g stroke-width="0.6" stroke-linejoin="round">
<polygon points="808.07,31.69 816.5,25.47 808.07,18.8 799.64,25.05" fill="#f98353" stroke="#f98353"/>
<polygon points="799.56,37.98 808.07,31.69 799.64,25.05 791.12,31.35" fill="#f99352" stroke="#f99352"/>
<polygon points="816.58,38.4 825.01,32.21 816.5,25.47 808.07,31.69" fill="#f99452" stroke="#f99452"/>
<polygon points="790.96,44.32 799.56,37.98 791.12,31.35 782.53,37.72" fill="#f8a351" stroke="#f8a351"/>
<polygon points="808.07,44.66 816.58,38.4 808.07,31.69 799.56,37.98" fill="#f8a451" stroke="#f8a451"/>
<polygon points="825.18,45.17 833.6,39 825.01,32.21 816.58,38.4" fill="#f8a650" stroke="#f8a650"/>
<polygon points="782.29,50.72 790.96,44.32 782.53,37.72 773.85,44.15" fill="#f8b34f" stroke="#f8b34f"/>
<polygon points="799.48,50.98 808.07,44.66 799.56,37.98 790.96,44.32" fill="#f8b44f" stroke="#f8b44f"/>
<polygon points="816.66,51.4 825.18,45.17 816.58,38.4 808.07,44.66" fill="#f8b64f" stroke="#f8b64f"/>
<polygon points="833.85,52.01 842.27,45.86 833.6,39 825.18,45.17" fill="#f8b84f" stroke="#f8b84f"/>
<polygon points="773.53,57.18 782.29,50.72 773.85,44.15 765.1,50.63" fill="#f7c34e" stroke="#f7c34e"/>
<polygon points="790.8,57.35 799.48,50.98 790.96,44.32 782.29,50.72" fill="#f7c44e" stroke="#f7c44e"/>
<polygon points="808.07,57.7 816.66,51.4 808.07,44.66 799.48,50.98" fill="#f7c54e" stroke="#f7c54e"/>
<polygon points="825.34,58.21 833.85,52.01 825.18,45.17 816.66,51.4" fill="#f7c74e" stroke="#f7c74e"/>
<polygon points="842.6,58.91 851.02,52.78 842.27,45.86 833.85,52.01" fill="#f7ca4e" stroke="#f7ca4e"/>
<polygon points="764.68,63.71 773.53,57.18 765.1,50.63 756.25,57.18" fill="#f7d34d" stroke="#f7d34d"/>
<polygon points="782.04,63.79 790.8,57.35 782.29,50.72 773.53,57.18" fill="#f7d44d" stroke="#f7d44d"/>
<polygon points="799.39,64.05 808.07,57.7 799.48,50.98 790.8,57.35" fill="#f7d54d" stroke="#f7d54d"/>
<polygon points="816.75,64.48 825.34,58.21 816.66,51.4 808.07,57.7" fill="#f7d64d" stroke="#f7d64d"/>
<polygon points="834.1,65.09 842.6,58.91 833.85,52.01 825.34,58.21" fill="#f7d94d" stroke="#f7d94d"/>
<polygon points="851.44,65.87 859.86,59.77 851.02,52.78 842.6,58.91" fill="#f7db4c" stroke="#f7db4c"/>
<polygon points="755.75,70.3 764.68,63.71 756.25,57.18 747.32,63.8" fill="#f7e44c" stroke="#f7e44c"/>
<polygon points="773.19,70.29 782.04,63.79 773.53,57.18 764.68,63.71" fill="#f7e44c" stroke="#f7e44c"/>
<polygon points="790.63,70.46 799.39,64.05 790.8,57.35 782.04,63.79" fill="#f7e44c" stroke="#f7e44c"/>
<polygon points="808.07,70.8 816.75,64.48 808.07,57.7 799.39,64.05" fill="#f7e54c" stroke="#f7e54c"/>
<polygon points="825.51,71.32 834.1,65.09 825.34,58.21 816.75,64.48" fill="#f6e74b" stroke="#f6e74b"/>
<polygon points="842.94,72.02 851.44,65.87 842.6,58.91 834.1,65.09" fill="#f6ea4b" stroke="#f6ea4b"/>
<polygon points="860.36,72.9 868.77,66.83 859.86,59.77 851.44,65.87" fill="#f6ed4b" stroke="#f6ed4b"/>
<polygon points="746.72,76.95 755.75,70.3 747.32,63.8 738.31,70.48" fill="#f6f44a" stroke="#f6f44a"/>
<polygon points="764.25,76.85 773.19,70.29 764.68,63.71 755.75,70.3" fill="#f6f34b" stroke="#f6f34b"/>
<polygon points="781.78,76.93 790.63,70.46 782.04,63.79 773.19,70.29" fill="#f6f44a" stroke="#f6f44a"/>
<polygon points="799.31,77.19 808.07,70.8 799.39,64.05 790.63,70.46" fill="#f6f54a" stroke="#f6f54a"/>
<polygon points="816.83,77.62 825.51,71.32 816.75,64.48 808.07,70.8" fill="#f6f64a" stroke="#f6f64a"/>
<polygon points="834.35,78.23 842.94,72.02 834.1,65.09 825.51,71.32" fill="#f6f84a" stroke="#f6f84a"/>
<polygon points="851.87,79.02 860.36,72.9 851.44,65.87 842.94,72.02" fill="#f4fa4a" stroke="#f4fa4a"/>
<polygon points="869.37,79.99 877.77,73.95 868.77,66.83 860.36,72.9" fill="#effa4a" stroke="#effa4a"/>
<polygon points="737.61,83.67 746.72,76.95 738.31,70.48 729.2,77.22" fill="#e9fa4a" stroke="#e9fa4a"/>
<polygon points="755.23,83.48 764.25,76.85 755.75,70.3 746.72,76.95" fill="#eafa4a" stroke="#eafa4a"/>
<polygon points="772.84,83.47 781.78,76.93 773.19,70.29 764.25,76.85" fill="#eafa4a" stroke="#eafa4a"/>
<polygon points="790.46,83.64 799.31,77.19 790.63,70.46 781.78,76.93" fill="#e9fa4a" stroke="#e9fa4a"/>
<polygon points="808.07,83.98 816.83,77.62 808.07,70.8 799.31,77.19" fill="#e7fa4a" stroke="#e7fa4a"/>
<polygon points="825.68,84.51 834.35,78.23 825.51,71.32 816.83,77.62" fill="#e5fa4a" stroke="#e5fa4a"/>
<polygon points="843.29,85.21 851.87,79.02 842.94,72.02 834.35,78.23" fill="#e1fa4a" stroke="#e1fa4a"/>
<polygon points="860.88,86.09 869.37,79.99 860.36,72.9 851.87,79.02" fill="#ddfa4a" stroke="#ddfa4a"/>
<polygon points="878.46,87.15 886.86,81.14 877.77,73.95 869.37,79.99" fill="#d7fa4a" stroke="#d7fa4a"/>
<polygon points="728.41,90.45 737.61,83.67 729.2,77.22 720.01,84.03" fill="#d3fa4a" stroke="#d3fa4a"/>
<polygon points="746.11,90.17 755.23,83.48 746.72,76.95 737.61,83.67" fill="#d4fa4a" stroke="#d4fa4a"/>
<polygon points="763.81,90.07 772.84,83.47 764.25,76.85 755.23,83.48" fill="#d5fa4a" stroke="#d5fa4a"/>
<polygon points="781.52,90.15 790.46,83.64 781.78,76.93 772.84,83.47" fill="#d4fa4a" stroke="#d4fa4a"/>
<polygon points="799.22,90.41 808.07,83.98 799.31,77.19 790.46,83.64" fill="#d3fa4a" stroke="#d3fa4a"/>
<polygon points="816.92,90.84 825.68,84.51 816.83,77.62 808.07,83.98" fill="#d1fa4a" stroke="#d1fa4a"/>
<polygon points="834.62,91.46 843.29,85.21 834.35,78.23 825.68,84.51" fill="#cefa4a" stroke="#cefa4a"/>
<polygon points="852.3,92.25 860.88,86.09 851.87,79.02 843.29,85.21" fill="#cafa4a" stroke="#cafa4a"/>
<polygon points="869.98,93.23 878.46,87.15 869.37,79.99 860.88,86.09" fill="#c5f94b" stroke="#c5f94b"/>
<polygon points="887.65,94.38 896.03,88.4 886.86,81.14 878.46,87.15" fill="#c0f94b" stroke="#c0f94b"/>
<polygon points="719.12,97.3 728.41,90.45 720.01,84.03 710.72,90.91" fill="#bdf94b" stroke="#bdf94b"/>
<polygon points="736.91,96.93 746.11,90.17 737.61,83.67 728.41,90.45" fill="#bff94b" stroke="#bff94b"/>
<polygon points="754.69,96.74 763.81,90.07 755.23,83.48 746.11,90.17" fill="#c0f94b" stroke="#c0f94b"/>
<polygon points="772.49,96.73 781.52,90.15 772.84,83.47 763.81,90.07" fill="#c0f94b" stroke="#c0f94b"/>
<polygon points="790.28,96.89 799.22,90.41 790.46,83.64 781.52,90.15" fill="#bff94b" stroke="#bff94b"/>
<polygon points="808.07,97.24 816.92,90.84 808.07,83.98 799.22,90.41" fill="#bef94b" stroke="#bef94b"/>
<polygon points="825.86,97.76 834.62,91.46 825.68,84.51 816.92,90.84" fill="#bbf94b" stroke="#bbf94b"/>
<polygon points="843.64,98.47 852.3,92.25 843.29,85.21 834.62,91.46" fill="#b8f94b" stroke="#b8f94b"/>
<polygon points="861.41,99.36 869.98,93.23 860.88,86.09 852.3,92.25" fill="#b3f94b" stroke="#b3f94b"/>
<polygon points="879.17,100.43 887.65,94.38 878.46,87.15 869.98,93.23" fill="#aef94b" stroke="#aef94b"/>
<polygon points="896.92,101.69 905.3,95.72 896.03,88.4 887.65,94.38" fill="#a8f94b" stroke="#a8f94b"/>
<polygon points="709.74,104.22 719.12,97.3 710.72,90.91 701.35,97.85" fill="#a8f94b" stroke="#a8f94b"/>
<polygon points="727.61,103.76 736.91,96.93 728.41,90.45 719.12,97.3" fill="#aaf94b" stroke="#aaf94b"/>
<polygon points="745.48,103.47 754.69,96.74 746.11,90.17 736.91,96.93" fill="#abf94b" stroke="#abf94b"/>
<polygon points="763.36,103.37 772.49,96.73 763.81,90.07 754.69,96.74" fill="#acf94b" stroke="#acf94b"/>
<polygon points="781.25,103.44 790.28,96.89 781.52,90.15 772.49,96.73" fill="#abf94b" stroke="#abf94b"/>
<polygon points="799.13,103.69 808.07,97.24 799.22,90.41 790.28,96.89" fill="#aaf94b" stroke="#aaf94b"/>
<polygon points="817.01,104.13 825.86,97.76 816.92,90.84 808.07,97.24" fill="#a8f94b" stroke="#a8f94b"/>
<polygon points="834.89,104.75 843.64,98.47 834.62,91.46 825.86,97.76" fill="#a5f94b" stroke="#a5f94b"/>
<polygon points="852.75,105.55 861.41,99.36 852.3,92.25 843.64,98.47" fill="#a1f94b" stroke="#a1f94b"/>
<polygon points="870.61,106.54 879.17,100.43 869.98,93.23 861.41,99.36" fill="#9cf94b" stroke="#9cf94b"/>
<polygon points="888.45,107.7 896.92,101.69 887.65,94.38 879.17,100.43" fill="#96f94b" stroke="#96f94b"/>
<polygon points="906.28,109.06 914.65,103.12 905.3,95.72 896.92,101.69" fill="#90f94b" stroke="#90f94b"/>
<polygon points="700.26,111.21 709.74,104.22 701.35,97.85 691.88,104.87" fill="#92f94b" stroke="#92f94b"/>
<polygon points="718.21,110.65 727.61,103.76 719.12,97.3 709.74,104.22" fill="#95f94b" stroke="#95f94b"/>
<polygon points="736.18,110.27 745.48,103.47 736.91,96.93 727.61,103.76" fill="#97f94b" stroke="#97f94b"/>
<polygon points="754.15,110.07 763.36,103.37 754.69,96.74 745.48,103.47" fill="#97f94b" stroke="#97f94b"/>
<polygon points="772.12,110.05 781.25,103.44 772.49,96.73 763.36,103.37" fill="#98f94b" stroke="#98f94b"/>
<polygon points="790.1,110.22 799.13,103.69 790.28,96.89 781.25,103.44" fill="#97f94b" stroke="#97f94b"/>
<polygon points="808.07,110.56 817.01,104.13 808.07,97.24 799.13,103.69" fill="#95f94b" stroke="#95f94b"/>
<polygon points="826.04,111.09 834.89,104.75 825.86,97.76 817.01,104.13" fill="#92f94b" stroke="#92f94b"/>
<polygon points="844,111.8 852.75,105.55 843.64,98.47 834.89,104.75" fill="#8ff94b" stroke="#8ff94b"/>
<polygon points="861.96,112.7 870.61,106.54 861.41,99.36 852.75,105.55" fill="#8bf94b" stroke="#8bf94b"/>
<polygon points="879.9,113.78 888.45,107.7 879.17,100.43 870.61,106.54" fill="#85f94b" stroke="#85f94b"/>
<polygon points="897.83,115.05 906.28,109.06 896.92,101.69 888.45,107.7" fill="#7ff94b" stroke="#7ff94b"/>
<polygon points="915.74,116.5 924.09,110.59 914.65,103.12 906.28,109.06" fill="#78f94b" stroke="#78f94b"/>
<polygon points="690.68,118.27 700.26,111.21 691.88,104.87 682.31,111.95" fill="#7cf94b" stroke="#7cf94b"/>
<polygon points="708.72,117.62 718.21,110.65 709.74,104.22 700.26,111.21" fill="#7ff94b" stroke="#7ff94b"/>
<polygon points="726.78,117.14 736.18,110.27 727.61,103.76 718.21,110.65" fill="#82f94b" stroke="#82f94b"/>
<polygon points="744.84,116.84 754.15,110.07 745.48,103.47 736.18,110.27" fill="#83f94b" stroke="#83f94b"/>
<polygon points="762.9,116.73 772.12,110.05 763.36,103.37 754.15,110.07" fill="#84f94b" stroke="#84f94b"/>
<polygon points="780.97,116.8 790.1,110.22 781.25,103.44 772.12,110.05" fill="#83f94b" stroke="#83f94b"/>
<polygon points="799.04,117.05 808.07,110.56 799.13,103.69 790.1,110.22" fill="#82f94b" stroke="#82f94b"/>
<polygon points="817.1,117.49 826.04,111.09 817.01,104.13 808.07,110.56" fill="#80f94b" stroke="#80f94b"/>
<polygon points="835.16,118.11 844,111.8 834.89,104.75 826.04,111.09" fill="#7df94b" stroke="#7df94b"/>
<polygon points="853.21,118.92 861.96,112.7 852.75,105.55 844,111.8" fill="#79f94b" stroke="#79f94b"/>
<polygon points="871.25,119.92 879.9,113.78 870.61,106.54 861.96,112.7" fill="#74f94b" stroke="#74f94b"/>
<polygon points="889.28,121.1 897.83,115.05 888.45,107.7 879.9,113.78" fill="#6ef84c" stroke="#6ef84c"/>
<polygon points="907.29,122.46 915.74,116.5 906.28,109.06 897.83,115.05" fill="#68f84c" stroke="#68f84c"/>
<polygon points="925.28,124.02 933.63,118.14 924.09,110.59 915.74,116.5" fill="#60f84c" stroke="#60f84c"/>
<polygon points="681.01,125.4 690.68,118.27 682.31,111.95 672.65,119.11" fill="#67f84c" stroke="#67f84c"/>
<polygon points="699.14,124.65 708.72,117.62 700.26,111.21 690.68,118.27" fill="#6af84c" stroke="#6af84c"/>
<polygon points="717.28,124.08 726.78,117.14 718.21,110.65 708.72,117.62" fill="#6df84c" stroke="#6df84c"/>
<polygon points="735.43,123.69 744.84,116.84 736.18,110.27 726.78,117.14" fill="#6ff84c" stroke="#6ff84c"/>
<polygon points="753.59,123.48 762.9,116.73 754.15,110.07 744.84,116.84" fill="#70f84c" stroke="#70f84c"/>
<polygon points="771.75,123.45 780.97,116.8 772.12,110.05 762.9,116.73" fill="#70f84c" stroke="#70f84c"/>
<polygon points="789.91,123.61 799.04,117.05 790.1,110.22 780.97,116.8" fill="#6ff84c" stroke="#6ff84c"/>
<polygon points="808.07,123.96 817.1,117.49 808.07,110.56 799.04,117.05" fill="#6df84c" stroke="#6df84c"/>
<polygon points="826.23,124.49 835.16,118.11 826.04,111.09 817.1,117.49" fill="#6bf84c" stroke="#6bf84c"/>
<polygon points="844.38,125.21 853.21,118.92 844,111.8 835.16,118.11" fill="#67f84c" stroke="#67f84c"/>
<polygon points="862.52,126.11 871.25,119.92 861.96,112.7 853.21,118.92" fill="#63f84c" stroke="#63f84c"/>
<polygon points="880.64,127.2 889.28,121.1 879.9,113.78 871.25,119.92" fill="#5ef84c" stroke="#5ef84c"/>
<polygon points="898.76,128.48 907.29,122.46 897.83,115.05 889.28,121.1" fill="#57f84c" stroke="#57f84c"/>
<polygon points="916.85,129.95 925.28,124.02 915.74,116.5 907.29,122.46" fill="#50f84c" stroke="#50f84c"/>
<polygon points="934.93,131.61 943.26,125.76 933.63,118.14 925.28,124.02" fill="#48f84c" stroke="#48f84c"/>
<polygon points="671.24,132.61 681.01,125.4 672.65,119.11 662.89,126.34" fill="#51f84c" stroke="#51f84c"/>
<polygon points="689.45,131.75 699.14,124.65 690.68,118.27 681.01,125.4" fill="#55f84c" stroke="#55f84c"/>
<polygon points="707.69,131.08 717.28,124.08 708.72,117.62 699.14,124.65" fill="#58f84c" stroke="#58f84c"/>
<polygon points="725.93,130.6 735.43,123.69 726.78,117.14 717.28,124.08" fill="#5bf84c" stroke="#5bf84c"/>
<polygon points="744.18,130.29 753.59,123.48 744.84,116.84 735.43,123.69" fill="#5cf84c" stroke="#5cf84c"/>
<polygon points="762.43,130.17 771.75,123.45 762.9,116.73 753.59,123.48" fill="#5df84c" stroke="#5df84c"/>
<polygon points="780.69,130.24 789.91,123.61 780.97,116.8 771.75,123.45" fill="#5cf84c" stroke="#5cf84c"/>
<polygon points="798.94,130.49 808.07,123.96 799.04,117.05 789.91,123.61" fill="#5bf84c" stroke="#5bf84c"/>
<polygon points="817.2,130.93 826.23,124.49 817.1,117.49 808.07,123.96" fill="#59f84c" stroke="#59f84c"/>
<polygon points="835.45,131.56 844.38,125.21 835.16,118.11 826.23,124.49" fill="#56f84c" stroke="#56f84c"/>
<polygon points="853.69,132.37 862.52,126.11 853.21,118.92 844.38,125.21" fill="#52f84c" stroke="#52f84c"/>
<polygon points="871.91,133.37 880.64,127.2 871.25,119.92 862.52,126.11" fill="#4df84c" stroke="#4df84c"/>
<polygon points="890.13,134.56 898.76,128.48 889.28,121.1 880.64,127.2" fill="#47f84c" stroke="#47f84c"/>
<polygon points="908.33,135.94 916.85,129.95 907.29,122.46 898.76,128.48" fill="#44f84f" stroke="#44f84f"/>
<polygon points="926.51,137.51 934.93,131.61 925.28,124.02 916.85,129.95" fill="#44f857" stroke="#44f857"/>
<polygon points="944.67,139.27 952.98,133.45 943.26,125.76 934.93,131.61" fill="#44f860" stroke="#44f860"/>
<polygon points="661.36,139.88 671.24,132.61 662.89,126.34 653.03,133.64" fill="#44f855" stroke="#44f855"/>
<polygon points="679.67,138.93 689.45,131.75 681.01,125.4 671.24,132.61" fill="#44f850" stroke="#44f850"/>
<polygon points="697.99,138.16 707.69,131.08 699.14,124.65 689.45,131.75" fill="#44f84d" stroke="#44f84d"/>
<polygon points="716.32,137.58 725.93,130.6 717.28,124.08 707.69,131.08" fill="#46f84c" stroke="#46f84c"/>
<polygon points="734.67,137.18 744.18,130.29 735.43,123.69 725.93,130.6" fill="#48f84c" stroke="#48f84c"/>
<polygon points="753.01,136.96 762.43,130.17 753.59,123.48 744.18,130.29" fill="#49f84c" stroke="#49f84c"/>
<polygon points="771.37,136.93 780.69,130.24 771.75,123.45 762.43,130.17" fill="#49f84c" stroke="#49f84c"/>
<polygon points="789.72,137.09 798.94,130.49 789.91,123.61 780.69,130.24" fill="#49f84c" stroke="#49f84c"/>
<polygon points="808.07,137.43 817.2,130.93 808.07,123.96 798.94,130.49" fill="#47f84c" stroke="#47f84c"/>
<polygon points="826.42,137.97 835.45,131.56 826.23,124.49 817.2,130.93" fill="#44f84c" stroke="#44f84c"/>
<polygon points="844.76,138.69 853.69,132.37 844.38,125.21 835.45,131.56" fill="#44f84f" stroke="#44f84f"/>
<polygon points="863.09,139.6 871.91,133.37 862.52,126.11 853.69,132.37" fill="#44f854" stroke="#44f854"/>
<polygon points="881.41,140.7 890.13,134.56 880.64,127.2 871.91,133.37" fill="#44f859" stroke="#44f859"/>
<polygon points="899.71,141.99 908.33,135.94 898.76,128.48 890.13,134.56" fill="#44f85f" stroke="#44f85f"/>
<polygon points="918,143.48 926.51,137.51 916.85,129.95 908.33,135.94" fill="#44f866" stroke="#44f866"/>
<polygon points="936.26,145.15 944.67,139.27 934.93,131.61 926.51,137.51" fill="#44f86f" stroke="#44f86f"/>
<polygon points="954.5,147.01 962.8,141.22 952.98,133.45 944.67,139.27" fill="#43f978" stroke="#43f978"/>
<polygon points="651.39,147.23 661.36,139.88 653.03,133.64 643.07,141.02" fill="#44f86b" stroke="#44f86b"/>
<polygon points="669.78,146.18 679.67,138.93 671.24,132.61 661.36,139.88" fill="#44f866" stroke="#44f866"/>
<polygon points="688.19,145.31 697.99,138.16 689.45,131.75 679.67,138.93" fill="#44f861" stroke="#44f861"/>
<polygon points="706.62,144.63 716.32,137.58 707.69,131.08 697.99,138.16" fill="#44f85e" stroke="#44f85e"/>
<polygon points="725.05,144.13 734.67,137.18 725.93,130.6 716.32,137.58" fill="#44f85c" stroke="#44f85c"/>
<polygon points="743.5,143.82 753.01,136.96 744.18,130.29 734.67,137.18" fill="#44f85a" stroke="#44f85a"/>
<polygon points="761.95,143.69 771.37,136.93 762.43,130.17 753.01,136.96" fill="#44f85a" stroke="#44f85a"/>
<polygon points="780.4,143.75 789.72,137.09 780.69,130.24 771.37,136.93" fill="#44f85a" stroke="#44f85a"/>
<polygon points="798.85,144 808.07,137.43 798.94,130.49 789.72,137.09" fill="#44f85b" stroke="#44f85b"/>
<polygon points="817.29,144.44 826.42,137.97 817.2,130.93 808.07,137.43" fill="#44f85d" stroke="#44f85d"/>
<polygon points="835.74,145.07 844.76,138.69 835.45,131.56 826.42,137.97" fill="#44f860" stroke="#44f860"/>
<polygon points="854.17,145.89 863.09,139.6 853.69,132.37 844.76,138.69" fill="#44f864" stroke="#44f864"/>
<polygon points="872.59,146.9 881.41,140.7 871.91,133.37 863.09,139.6" fill="#44f869" stroke="#44f869"/>
<polygon points="891,148.1 899.71,141.99 890.13,134.56 881.41,140.7" fill="#44f86f" stroke="#44f86f"/>
<polygon points="909.39,149.5 918,143.48 908.33,135.94 899.71,141.99" fill="#44f876" stroke="#44f876"/>
<polygon points="927.77,151.08 936.26,145.15 926.51,137.51 918,143.48" fill="#43f97d" stroke="#43f97d"/>
<polygon points="946.12,152.86 954.5,147.01 944.67,139.27 936.26,145.15" fill="#43f986" stroke="#43f986"/>
<polygon points="964.44,154.83 972.72,149.07 962.8,141.22 954.5,147.01" fill="#43f98f" stroke="#43f98f"/>
<polygon points="641.31,154.66 651.39,147.23 643.07,141.02 633.01,148.47" fill="#43f980" stroke="#43f980"/>
<polygon points="659.79,153.51 669.78,146.18 661.36,139.88 651.39,147.23" fill="#43f97b" stroke="#43f97b"/>
<polygon points="678.3,152.54 688.19,145.31 679.67,138.93 669.78,146.18" fill="#44f876" stroke="#44f876"/>
<polygon points="696.81,151.75 706.62,144.63 697.99,138.16 688.19,145.31" fill="#44f872" stroke="#44f872"/>
<polygon points="715.34,151.15 725.05,144.13 716.32,137.58 706.62,144.63" fill="#44f870" stroke="#44f870"/>
<polygon points="733.88,150.74 743.5,143.82 734.67,137.18 725.05,144.13" fill="#44f86e" stroke="#44f86e"/>
<polygon points="752.42,150.52 761.95,143.69 753.01,136.96 743.5,143.82" fill="#44f86d" stroke="#44f86d"/>
<polygon points="770.97,150.48 780.4,143.75 771.37,136.93 761.95,143.69" fill="#44f86c" stroke="#44f86c"/>
<polygon points="789.52,150.64 798.85,144 789.72,137.09 780.4,143.75" fill="#44f86d" stroke="#44f86d"/>
<polygon points="808.07,150.98 817.29,144.44 808.07,137.43 798.85,144" fill="#44f86f" stroke="#44f86f"/>
<polygon points="826.62,151.52 835.74,145.07 826.42,137.97 817.29,144.44" fill="#44f871" stroke="#44f871"/>
<polygon points="845.15,152.24 854.17,145.89 844.76,138.69 835.74,145.07" fill="#44f875" stroke="#44f875"/>
<polygon points="863.68,153.16 872.59,146.9 863.09,139.6 854.17,145.89" fill="#43f979" stroke="#43f979"/>
<polygon points="882.19,154.27 891,148.1 881.41,140.7 872.59,146.9" fill="#43f97f" stroke="#43f97f"/>
<polygon points="900.69,155.58 909.39,149.5 899.71,141.99 891,148.1" fill="#43f985" stroke="#43f985"/>
<polygon points="919.17,157.07 927.77,151.08 918,143.48 909.39,149.5" fill="#43f98c" stroke="#43f98c"/>
<polygon points="937.63,158.77 946.12,152.86 936.26,145.15 927.77,151.08" fill="#43f994" stroke="#43f994"/>
<polygon points="956.07,160.65 964.44,154.83 954.5,147.01 946.12,152.86" fill="#43f99d" stroke="#43f99d"/>
<polygon points="974.48,162.73 982.74,156.99 972.72,149.07 964.44,154.83" fill="#43f9a7" stroke="#43f9a7"/>
<polygon points="631.13,162.17 641.31,154.66 633.01,148.47 622.85,156" fill="#43f996" stroke="#43f996"/>
<polygon points="649.7,160.91 659.79,153.51 651.39,147.23 641.31,154.66" fill="#43f990" stroke="#43f990"/>
<polygon points="668.29,159.84 678.3,152.54 669.78,146.18 659.79,153.51" fill="#43f98b" stroke="#43f98b"/>
<polygon points="686.9,158.95 696.81,151.75 688.19,145.31 678.3,152.54" fill="#43f987" stroke="#43f987"/>
<polygon points="705.52,158.25 715.34,151.15 706.62,144.63 696.81,151.75" fill="#43f983" stroke="#43f983"/>
<polygon points="724.16,157.74 733.88,150.74 725.05,144.13 715.34,151.15" fill="#43f981" stroke="#43f981"/>
<polygon points="742.8,157.42 752.42,150.52 743.5,143.82 733.88,150.74" fill="#43f97f" stroke="#43f97f"/>
<polygon points="761.45,157.28 770.97,150.48 761.95,143.69 752.42,150.52" fill="#43f97f" stroke="#43f97f"/>
<polygon points="780.1,157.34 789.52,150.64 780.4,143.75 770.97,150.48" fill="#43f97f" stroke="#43f97f"/>
<polygon points="798.75,157.59 808.07,150.98 798.85,144 789.52,150.64" fill="#43f980" stroke="#43f980"/>
<polygon points="817.39,158.03 826.62,151.52 817.29,144.44 808.07,150.98" fill="#43f982" stroke="#43f982"/>
<polygon points="836.04,158.66 845.15,152.24 835.74,145.07 826.62,151.52" fill="#43f986" stroke="#43f986"/>
<polygon points="854.67,159.49 863.68,153.16 854.17,145.89 845.15,152.24" fill="#43f989" stroke="#43f989"/>
<polygon points="873.29,160.51 882.19,154.27 872.59,146.9 863.68,153.16" fill="#43f98e" stroke="#43f98e"/>
<polygon points="891.9,161.72 900.69,155.58 891,148.1 882.19,154.27" fill="#43f994" stroke="#43f994"/>
<polygon points="910.49,163.13 919.17,157.07 909.39,149.5 900.69,155.58" fill="#43f99b" stroke="#43f99b"/>
<polygon points="929.06,164.73 937.63,158.77 927.77,151.08 919.17,157.07" fill="#43f9a3" stroke="#43f9a3"/>
<polygon points="947.6,166.53 956.07,160.65 946.12,152.86 937.63,158.77" fill="#43f9ab" stroke="#43f9ab"/>
<polygon points="966.12,168.52 974.48,162.73 964.44,154.83 956.07,160.65" fill="#43f9b5" stroke="#43f9b5"/>
<polygon points="984.62,170.7 992.85,165 982.74,156.99 974.48,162.73" fill="#43f9bf" stroke="#43f9bf"/>
<polygon points="639.5,168.39 649.7,160.91 641.31,154.66 631.13,162.17" fill="#43f9a5" stroke="#43f9a5"/>
<polygon points="658.18,167.21 668.29,159.84 659.79,153.51 649.7,160.91" fill="#43f9a0" stroke="#43f9a0"/>
<polygon points="676.88,166.22 686.9,158.95 678.3,152.54 668.29,159.84" fill="#43f99b" stroke="#43f99b"/>
<polygon points="695.6,165.42 705.52,158.25 696.81,151.75 686.9,158.95" fill="#43f997" stroke="#43f997"/>
<polygon points="714.33,164.81 724.16,157.74 715.34,151.15 705.52,158.25" fill="#43f994" stroke="#43f994"/>
<polygon points="733.07,164.38 742.8,157.42 733.88,150.74 724.16,157.74" fill="#43f992" stroke="#43f992"/>
<polygon points="751.82,164.15 761.45,157.28 752.42,150.52 742.8,157.42" fill="#43f991" stroke="#43f991"/>
<polygon points="770.57,164.11 780.1,157.34 770.97,150.48 761.45,157.28" fill="#43f991" stroke="#43f991"/>
<polygon points="789.32,164.26 798.75,157.59 789.52,150.64 780.1,157.34" fill="#43f992" stroke="#43f992"/>
<polygon points="808.07,164.61 817.39,158.03 808.07,150.98 798.75,157.59" fill="#43f993" stroke="#43f993"/>
<polygon points="826.82,165.14 836.04,158.66 826.62,151.52 817.39,158.03" fill="#43f996" stroke="#43f996"/>
<polygon points="845.56,165.87 854.67,159.49 845.15,152.24 836.04,158.66" fill="#43f99a" stroke="#43f99a"/>
<polygon points="864.29,166.8 873.29,160.51 863.68,153.16 854.67,159.49" fill="#43f99e" stroke="#43f99e"/>
<polygon points="883,167.92 891.9,161.72 882.19,154.27 873.29,160.51" fill="#43f9a3" stroke="#43f9a3"/>
<polygon points="901.7,169.24 910.49,163.13 900.69,155.58 891.9,161.72" fill="#43f9aa" stroke="#43f9aa"/>
<polygon points="920.38,170.75 929.06,164.73 919.17,157.07 910.49,163.13" fill="#43f9b1" stroke="#43f9b1"/>
<polygon points="939.04,172.46 947.6,166.53 937.63,158.77 929.06,164.73" fill="#43f9b9" stroke="#43f9b9"/>
<polygon points="957.68,174.36 966.12,168.52 956.07,160.65 947.6,166.53" fill="#43f9c2" stroke="#43f9c2"/>
<polygon points="976.28,176.46 984.62,170.7 974.48,162.73 966.12,168.52" fill="#43f9cc" stroke="#43f9cc"/>
<polygon points="647.97,174.66 658.18,167.21 649.7,160.91 639.5,168.39" fill="#43f9b5" stroke="#43f9b5"/>
<polygon points="666.76,173.57 676.88,166.22 668.29,159.84 658.18,167.21" fill="#43f9af" stroke="#43f9af"/>
<polygon points="685.57,172.67 695.6,165.42 686.9,158.95 676.88,166.22" fill="#43f9ab" stroke="#43f9ab"/>
<polygon points="704.4,171.95 714.33,164.81 705.52,158.25 695.6,165.42" fill="#43f9a8" stroke="#43f9a8"/>
<polygon points="723.24,171.43 733.07,164.38 724.16,157.74 714.33,164.81" fill="#43f9a5" stroke="#43f9a5"/>
<polygon points="742.08,171.09 751.82,164.15 742.8,157.42 733.07,164.38" fill="#43f9a4" stroke="#43f9a4"/>
<polygon points="760.93,170.95 770.57,164.11 761.45,157.28 751.82,164.15" fill="#43f9a3" stroke="#43f9a3"/>
<polygon points="779.79,171 789.32,164.26 780.1,157.34 770.57,164.11" fill="#43f9a3" stroke="#43f9a3"/>
<polygon points="798.64,171.25 808.07,164.61 798.75,157.59 789.32,164.26" fill="#43f9a5" stroke="#43f9a5"/>
<polygon points="817.5,171.69 826.82,165.14 817.39,158.03 808.07,164.61" fill="#43f9a7" stroke="#43f9a7"/>
<polygon points="836.34,172.33 845.56,165.87 836.04,158.66 826.82,165.14" fill="#43f9aa" stroke="#43f9aa"/>
<polygon points="855.18,173.16 864.29,166.8 854.67,159.49 845.56,165.87" fill="#43f9ae" stroke="#43f9ae"/>
<polygon points="874.01,174.19 883,167.92 873.29,160.51 864.29,166.8" fill="#43f9b2" stroke="#43f9b2"/>
<polygon points="892.82,175.41 901.7,169.24 891.9,161.72 883,167.92" fill="#43f9b8" stroke="#43f9b8"/>
<polygon points="911.61,176.83 920.38,170.75 910.49,163.13 901.7,169.24" fill="#43f9bf" stroke="#43f9bf"/>
<polygon points="930.38,178.45 939.04,172.46 929.06,164.73 920.38,170.75" fill="#43f9c7" stroke="#43f9c7"/>
<polygon points="949.13,180.27 957.68,174.36 947.6,166.53 939.04,172.46" fill="#42facf" stroke="#42facf"/>
<polygon points="967.85,182.28 976.28,176.46 966.12,168.52 957.68,174.36" fill="#42fad9" stroke="#42fad9"/>
<polygon points="656.53,181 666.76,173.57 658.18,167.21 647.97,174.66" fill="#43f9c4" stroke="#43f9c4"/>
<polygon points="675.43,179.99 685.57,172.67 676.88,166.22 666.76,173.57" fill="#43f9bf" stroke="#43f9bf"/>
<polygon points="694.36,179.17 704.4,171.95 695.6,165.42 685.57,172.67" fill="#43f9bb" stroke="#43f9bb"/>
<polygon points="713.29,178.54 723.24,171.43 714.33,164.81 704.4,171.95" fill="#43f9b8" stroke="#43f9b8"/>
<polygon points="732.24,178.11 742.08,171.09 733.07,164.38 723.24,171.43" fill="#43f9b6" stroke="#43f9b6"/>
<polygon points="751.19,177.87 760.93,170.95 751.82,164.15 742.08,171.09" fill="#43f9b5" stroke="#43f9b5"/>
<polygon points="770.15,177.82 779.79,171 770.57,164.11 760.93,170.95" fill="#43f9b5" stroke="#43f9b5"/>
<polygon points="789.11,177.97 798.64,171.25 789.32,164.26 779.79,171" fill="#43f9b5" stroke="#43f9b5"/>
<polygon points="808.07,178.31 817.5,171.69 808.07,164.61 798.64,171.25" fill="#43f9b7" stroke="#43f9b7"/>
<polygon points="827.03,178.85 836.34,172.33 826.82,165.14 817.5,171.69" fill="#43f9ba" stroke="#43f9ba"/>
<polygon points="845.97,179.58 855.18,173.16 845.56,165.87 836.34,172.33" fill="#43f9bd" stroke="#43f9bd"/>
<polygon points="864.91,180.52 874.01,174.19 864.29,166.8 855.18,173.16" fill="#43f9c2" stroke="#43f9c2"/>
<polygon points="883.83,181.65 892.82,175.41 883,167.92 874.01,174.19" fill="#43f9c7" stroke="#43f9c7"/>
<polygon points="902.74,182.98 911.61,176.83 901.7,169.24 892.82,175.41" fill="#43f9cd" stroke="#43f9cd"/>
<polygon points="921.62,184.5 930.38,178.45 920.38,170.75 911.61,176.83" fill="#42fad5" stroke="#42fad5"/>
<polygon points="940.49,186.23 949.13,180.27 939.04,172.46 930.38,178.45" fill="#42fadd" stroke="#42fadd"/>
<polygon points="959.33,188.15 967.85,182.28 957.68,174.36 949.13,180.27" fill="#42fae6" stroke="#42fae6"/>
<polygon points="665.19,187.39 675.43,179.99 666.76,173.57 656.53,181" fill="#42fad3" stroke="#42fad3"/>
<polygon points="684.21,186.46 694.36,179.17 685.57,172.67 675.43,179.99" fill="#43f9ce" stroke="#43f9ce"/>
<polygon points="703.24,185.73 713.29,178.54 704.4,171.95 694.36,179.17" fill="#43f9cb" stroke="#43f9cb"/>
<polygon points="722.29,185.19 732.24,178.11 723.24,171.43 713.29,178.54" fill="#43f9c8" stroke="#43f9c8"/>
<polygon points="741.35,184.85 751.19,177.87 742.08,171.09 732.24,178.11" fill="#43f9c7" stroke="#43f9c7"/>
<polygon points="760.41,184.7 770.15,177.82 760.93,170.95 751.19,177.87" fill="#43f9c6" stroke="#43f9c6"/>
<polygon points="779.47,184.75 789.11,177.97 779.79,171 770.15,177.82" fill="#43f9c6" stroke="#43f9c6"/>
<polygon points="798.54,184.99 808.07,178.31 798.64,171.25 789.11,177.97" fill="#43f9c8" stroke="#43f9c8"/>
<polygon points="817.6,185.43 827.03,178.85 817.5,171.69 808.07,178.31" fill="#43f9ca" stroke="#43f9ca"/>
<polygon points="836.66,186.07 845.97,179.58 836.34,172.33 827.03,178.85" fill="#43f9cd" stroke="#43f9cd"/>
<polygon points="855.71,186.91 864.91,180.52 855.18,173.16 845.97,179.58" fill="#42fad1" stroke="#42fad1"/>
<polygon points="874.74,187.95 883.83,181.65 874.01,174.19 864.91,180.52" fill="#42fad6" stroke="#42fad6"/>
<polygon points="893.76,189.18 902.74,182.98 892.82,175.41 883.83,181.65" fill="#42fadb" stroke="#42fadb"/>
<polygon points="912.76,190.62 921.62,184.5 911.61,176.83 902.74,182.98" fill="#42fae2" stroke="#42fae2"/>
<polygon points="931.75,192.25 940.49,186.23 930.38,178.45 921.62,184.5" fill="#42faea" stroke="#42faea"/>
<polygon points="950.7,194.09 959.33,188.15 949.13,180.27 940.49,186.23" fill="#42faf3" stroke="#42faf3"/>
<polygon points="673.94,193.83 684.21,186.46 675.43,179.99 665.19,187.39" fill="#42fae2" stroke="#42fae2"/>
<polygon points="693.08,193 703.24,185.73 694.36,179.17 684.21,186.46" fill="#42fade" stroke="#42fade"/>
<polygon points="712.23,192.36 722.29,185.19 713.29,178.54 703.24,185.73" fill="#42fadb" stroke="#42fadb"/>
<polygon points="731.39,191.91 741.35,184.85 732.24,178.11 722.29,185.19" fill="#42fad9" stroke="#42fad9"/>
<polygon points="750.55,191.66 760.41,184.7 751.19,177.87 741.35,184.85" fill="#42fad8" stroke="#42fad8"/>
<polygon points="769.73,191.6 779.47,184.75 770.15,177.82 760.41,184.7" fill="#42fad7" stroke="#42fad7"/>
<polygon points="788.9,191.75 798.54,184.99 789.11,177.97 779.47,184.75" fill="#42fad8" stroke="#42fad8"/>
<polygon points="808.07,192.09 817.6,185.43 808.07,178.31 798.54,184.99" fill="#42fada" stroke="#42fada"/>
<polygon points="827.24,192.63 836.66,186.07 827.03,178.85 817.6,185.43" fill="#42fadc" stroke="#42fadc"/>
<polygon points="846.4,193.37 855.71,186.91 845.97,179.58 836.66,186.07" fill="#42fae0" stroke="#42fae0"/>
<polygon points="865.55,194.31 874.74,187.95 864.91,180.52 855.71,186.91" fill="#42fae4" stroke="#42fae4"/>
<polygon points="884.68,195.45 893.76,189.18 883.83,181.65 874.74,187.95" fill="#42fae9" stroke="#42fae9"/>
<polygon points="903.8,196.79 912.76,190.62 902.74,182.98 893.76,189.18" fill="#42faf0" stroke="#42faf0"/>
<polygon points="922.9,198.33 931.75,192.25 921.62,184.5 912.76,190.62" fill="#42faf7" stroke="#42faf7"/>
<polygon points="941.98,200.08 950.7,194.09 940.49,186.23 931.75,192.25" fill="#43f5fa" stroke="#43f5fa"/>
<polygon points="682.8,200.34 693.08,193 684.21,186.46 673.94,193.83" fill="#42faf1" stroke="#42faf1"/>
<polygon points="702.05,199.59 712.23,192.36 703.24,185.73 693.08,193" fill="#42faed" stroke="#42faed"/>
<polygon points="721.32,199.04 731.39,191.91 722.29,185.19 712.23,192.36" fill="#42faeb" stroke="#42faeb"/>
<polygon points="740.59,198.69 750.55,191.66 741.35,184.85 731.39,191.91" fill="#42fae9" stroke="#42fae9"/>
<polygon points="759.87,198.53 769.73,191.6 760.41,184.7 750.55,191.66" fill="#42fae8" stroke="#42fae8"/>
<polygon points="779.15,198.57 788.9,191.75 779.47,184.75 769.73,191.6" fill="#42fae8" stroke="#42fae8"/>
<polygon points="798.43,198.81 808.07,192.09 798.54,184.99 788.9,191.75" fill="#42faea" stroke="#42faea"/>
<polygon points="817.71,199.26 827.24,192.63 817.6,185.43 808.07,192.09" fill="#42faec" stroke="#42faec"/>
<polygon points="836.98,199.9 846.4,193.37 836.66,186.07 827.24,192.63" fill="#42faef" stroke="#42faef"/>
<polygon points="856.25,200.74 865.55,194.31 855.71,186.91 846.4,193.37" fill="#42faf3" stroke="#42faf3"/>
<polygon points="875.5,201.78 884.68,195.45 874.74,187.95 865.55,194.31" fill="#42faf8" stroke="#42faf8"/>
<polygon points="894.73,203.03 903.8,196.79 893.76,189.18 884.68,195.45" fill="#42f7fa" stroke="#42f7fa"/>
<polygon points="913.95,204.48 922.9,198.33 912.76,190.62 903.8,196.79" fill="#43f0fa" stroke="#43f0fa"/>
<polygon points="933.15,206.13 941.98,200.08 931.75,192.25 922.9,198.33" fill="#44e9fa" stroke="#44e9fa"/>
<polygon points="691.76,206.91 702.05,199.59 693.08,193 682.8,200.34" fill="#43f5fa" stroke="#43f5fa"/>
<polygon points="711.13,206.25 721.32,199.04 712.23,192.36 702.05,199.59" fill="#42f8fa" stroke="#42f8fa"/>
<polygon points="730.51,205.79 740.59,198.69 731.39,191.91 721.32,199.04" fill="#42fafa" stroke="#42fafa"/>
<polygon points="749.9,205.53 759.87,198.53 750.55,191.66 740.59,198.69" fill="#42faf9" stroke="#42faf9"/>
<polygon points="769.29,205.47 779.15,198.57 769.73,191.6 759.87,198.53" fill="#42faf9" stroke="#42faf9"/>
<polygon points="788.68,205.61 798.43,198.81 788.9,191.75 779.15,198.57" fill="#42fafa" stroke="#42fafa"/>
<polygon points="808.07,205.95 817.71,199.26 808.07,192.09 798.43,198.81" fill="#42f9fa" stroke="#42f9fa"/>
<polygon points="827.46,206.49 836.98,199.9 827.24,192.63 817.71,199.26" fill="#42f6fa" stroke="#42f6fa"/>
<polygon points="846.84,207.24 856.25,200.74 846.4,193.37 836.98,199.9" fill="#43f3fa" stroke="#43f3fa"/>
<polygon points="866.21,208.18 875.5,201.78 865.55,194.31 856.25,200.74" fill="#43effa" stroke="#43effa"/>
<polygon points="885.56,209.33 894.73,203.03 884.68,195.45 875.5,201.78" fill="#44eafa" stroke="#44eafa"/>
<polygon points="904.9,210.69 913.95,204.48 903.8,196.79 894.73,203.03" fill="#44e4fa" stroke="#44e4fa"/>
<polygon points="924.21,212.25 933.15,206.13 922.9,198.33 913.95,204.48" fill="#45dcfa" stroke="#45dcfa"/>
<polygon points="700.83,213.54 711.13,206.25 702.05,199.59 691.76,206.91" fill="#44e6fa" stroke="#44e6fa"/>
<polygon points="720.32,212.97 730.51,205.79 721.32,199.04 711.13,206.25" fill="#44e9fa" stroke="#44e9fa"/>
<polygon points="739.81,212.61 749.9,205.53 740.59,198.69 730.51,205.79" fill="#44ebfa" stroke="#44ebfa"/>
<polygon points="759.31,212.44 769.29,205.47 759.87,198.53 749.9,205.53" fill="#43ebfa" stroke="#43ebfa"/>
<polygon points="778.82,212.48 788.68,205.61 779.15,198.57 769.29,205.47" fill="#44ebfa" stroke="#44ebfa"/>
<polygon points="798.32,212.72 808.07,205.95 798.43,198.81 788.68,205.61" fill="#44eafa" stroke="#44eafa"/>
<polygon points="817.82,213.16 827.46,206.49 817.71,199.26 808.07,205.95" fill="#44e8fa" stroke="#44e8fa"/>
<polygon points="837.32,213.8 846.84,207.24 836.98,199.9 827.46,206.49" fill="#44e5fa" stroke="#44e5fa"/>
<polygon points="856.8,214.65 866.21,208.18 856.25,200.74 846.84,207.24" fill="#45e1fa" stroke="#45e1fa"/>
<polygon points="876.28,215.7 885.56,209.33 875.5,201.78 866.21,208.18" fill="#45ddfa" stroke="#45ddfa"/>
<polygon points="895.73,216.96 904.9,210.69 894.73,203.03 885.56,209.33" fill="#46d7fa" stroke="#46d7fa"/>
<polygon points="915.17,218.42 924.21,212.25 913.95,204.48 904.9,210.69" fill="#46d0fa" stroke="#46d0fa"/>
<polygon points="710,220.23 720.32,212.97 711.13,206.25 700.83,213.54" fill="#45d8fa" stroke="#45d8fa"/>
<polygon points="729.61,219.76 739.81,212.61 730.51,205.79 720.32,212.97" fill="#45dafa" stroke="#45dafa"/>
<polygon points="749.22,219.49 759.31,212.44 749.9,205.53 739.81,212.61" fill="#45dbfa" stroke="#45dbfa"/>
<polygon points="768.84,219.42 778.82,212.48 769.29,205.47 759.31,212.44" fill="#45dcfa" stroke="#45dcfa"/>
<polygon points="788.45,219.55 798.32,212.72 788.68,205.61 778.82,212.48" fill="#45dbfa" stroke="#45dbfa"/>
<polygon points="808.07,219.89 817.82,213.16 808.07,205.95 798.32,212.72" fill="#45dafa" stroke="#45dafa"/>
<polygon points="827.68,220.44 837.32,213.8 827.46,206.49 817.82,213.16" fill="#46d7fa" stroke="#46d7fa"/>
<polygon points="847.29,221.18 856.8,214.65 846.84,207.24 837.32,213.8" fill="#46d4fa" stroke="#46d4fa"/>
<polygon points="866.88,222.14 876.28,215.7 866.21,208.18 856.8,214.65" fill="#46d0fa" stroke="#46d0fa"/>
<polygon points="886.46,223.3 895.73,216.96 885.56,209.33 876.28,215.7" fill="#47cafa" stroke="#47cafa"/>
<polygon points="906.02,224.67 915.17,218.42 904.9,210.69 895.73,216.96" fill="#47c4fa" stroke="#47c4fa"/>
<polygon points="719.28,226.99 729.61,219.76 720.32,212.97 710,220.23" fill="#47cafa" stroke="#47cafa"/>
<polygon points="739.01,226.61 749.22,219.49 739.81,212.61 729.61,219.76" fill="#47ccfa" stroke="#47ccfa"/>
<polygon points="758.74,226.44 768.84,219.42 759.31,212.44 749.22,219.49" fill="#47ccfa" stroke="#47ccfa"/>
<polygon points="778.47,226.47 788.45,219.55 778.82,212.48 768.84,219.42" fill="#47ccfa" stroke="#47ccfa"/>
<polygon points="798.21,226.7 808.07,219.89 798.32,212.72 788.45,219.55" fill="#47cbfa" stroke="#47cbfa"/>
<polygon points="817.94,227.14 827.68,220.44 817.82,213.16 808.07,219.89" fill="#47c9fa" stroke="#47c9fa"/>
<polygon points="837.66,227.79 847.29,221.18 837.32,213.8 827.68,220.44" fill="#47c6fa" stroke="#47c6fa"/>
<polygon points="857.38,228.64 866.88,222.14 856.8,214.65 847.29,221.18" fill="#48c3fa" stroke="#48c3fa"/>
<polygon points="877.08,229.7 886.46,223.3 876.28,215.7 866.88,222.14" fill="#48befa" stroke="#48befa"/>
<polygon points="896.76,230.97 906.02,224.67 895.73,216.96 886.46,223.3" fill="#49b8fa" stroke="#49b8fa"/>
<polygon points="728.68,233.81 739.01,226.61 729.61,219.76 719.28,226.99" fill="#48bcfa" stroke="#48bcfa"/>
<polygon points="748.52,233.53 758.74,226.44 749.22,219.49 739.01,226.61" fill="#48bdfa" stroke="#48bdfa"/>
<polygon points="768.37,233.45 778.47,226.47 768.84,219.42 758.74,226.44" fill="#48befa" stroke="#48befa"/>
<polygon points="788.22,233.58 798.21,226.7 788.45,219.55 778.47,226.47" fill="#48bdfa" stroke="#48bdfa"/>
<polygon points="808.07,233.92 817.94,227.14 808.07,219.89 798.21,226.7" fill="#48bbfa" stroke="#48bbfa"/>
<polygon points="827.92,234.46 837.66,227.79 827.68,220.44 817.94,227.14" fill="#49b9fa" stroke="#49b9fa"/>
<polygon points="847.75,235.22 857.38,228.64 847.29,221.18 837.66,227.79" fill="#49b6fa" stroke="#49b6fa"/>
<polygon points="867.58,236.18 877.08,229.7 866.88,222.14 857.38,228.64" fill="#49b1fa" stroke="#49b1fa"/>
<polygon points="887.39,237.35 896.76,230.97 886.46,223.3 877.08,229.7" fill="#4aacfa" stroke="#4aacfa"/>
<polygon points="738.18,240.7 748.52,233.53 739.01,226.61 728.68,233.81" fill="#4aaefa" stroke="#4aaefa"/>
<polygon points="758.15,240.52 768.37,233.45 758.74,226.44 748.52,233.53" fill="#4aaffa" stroke="#4aaffa"/>
<polygon points="778.12,240.54 788.22,233.58 778.47,226.47 768.37,233.45" fill="#4aaffa" stroke="#4aaffa"/>
<polygon points="798.09,240.77 808.07,233.92 798.21,226.7 788.22,233.58" fill="#4aaefa" stroke="#4aaefa"/>
<polygon points="818.05,241.21 827.92,234.46 817.94,227.14 808.07,233.92" fill="#4aacfa" stroke="#4aacfa"/>
<polygon points="838.01,241.86 847.75,235.22 837.66,227.79 827.92,234.46" fill="#4aa9fa" stroke="#4aa9fa"/>
<polygon points="857.96,242.72 867.58,236.18 857.38,228.64 847.75,235.22" fill="#4ba5fa" stroke="#4ba5fa"/>
<polygon points="877.9,243.79 887.39,237.35 877.08,229.7 867.58,236.18" fill="#4ba0fa" stroke="#4ba0fa"/>
<polygon points="747.8,247.66 758.15,240.52 748.52,233.53 738.18,240.7" fill="#4ba0fa" stroke="#4ba0fa"/>
<polygon points="767.89,247.57 778.12,240.54 768.37,233.45 758.15,240.52" fill="#4ba0fa" stroke="#4ba0fa"/>
<polygon points="787.98,247.7 798.09,240.77 788.22,233.58 778.12,240.54" fill="#4ba0fa" stroke="#4ba0fa"/>
<polygon points="808.07,248.03 818.05,241.21 808.07,233.92 798.09,240.77" fill="#4b9efa" stroke="#4b9efa"/>
<polygon points="828.16,248.58 838.01,241.86 827.92,234.46 818.05,241.21" fill="#4c9cfa" stroke="#4c9cfa"/>
<polygon points="848.23,249.33 857.96,242.72 847.75,235.22 838.01,241.86" fill="#4c99fa" stroke="#4c99fa"/>
<polygon points="868.3,250.3 877.9,243.79 867.58,236.18 857.96,242.72" fill="#4c94fa" stroke="#4c94fa"/>
<polygon points="757.54,254.68 767.89,247.57 758.15,240.52 747.8,247.66" fill="#4d92fa" stroke="#4d92fa"/>
<polygon points="777.75,254.7 787.98,247.7 778.12,240.54 767.89,247.57" fill="#4d92fa" stroke="#4d92fa"/>
<polygon points="797.97,254.93 808.07,248.03 798.09,240.77 787.98,247.7" fill="#4d91fa" stroke="#4d91fa"/>
<polygon points="818.18,255.37 828.16,248.58 818.05,241.21 808.07,248.03" fill="#4d8ffa" stroke="#4d8ffa"/>
<polygon points="838.38,256.02 848.23,249.33 838.01,241.86 828.16,248.58" fill="#4d8cfa" stroke="#4d8cfa"/>
<polygon points="858.57,256.88 868.3,250.3 857.96,242.72 848.23,249.33" fill="#4d88fa" stroke="#4d88fa"/>
<polygon points="767.4,261.78 777.75,254.7 767.89,247.57 757.54,254.68" fill="#4e84fa" stroke="#4e84fa"/>
<polygon points="787.74,261.9 797.97,254.93 787.98,247.7 777.75,254.7" fill="#4e84fa" stroke="#4e84fa"/>
<polygon points="808.07,262.23 818.18,255.37 808.07,248.03 797.97,254.93" fill="#4e82fa" stroke="#4e82fa"/>
<polygon points="828.4,262.78 838.38,256.02 828.16,248.58 818.18,255.37" fill="#4e80fa" stroke="#4e80fa"/>
<polygon points="848.73,263.54 858.57,256.88 848.23,249.33 838.38,256.02" fill="#4f7dfa" stroke="#4f7dfa"/>
<polygon points="777.38,268.95 787.74,261.9 777.75,254.7 767.4,261.78" fill="#4f77fa" stroke="#4f77fa"/>
<polygon points="797.84,269.17 808.07,262.23 797.97,254.93 787.74,261.9" fill="#4f76fa" stroke="#4f76fa"/>
<polygon points="818.3,269.61 828.4,262.78 818.18,255.37 808.07,262.23" fill="#5074fa" stroke="#5074fa"/>
<polygon points="838.75,270.26 848.73,263.54 838.38,256.02 828.4,262.78" fill="#5071fa" stroke="#5071fa"/>
<polygon points="787.48,276.19 797.84,269.17 787.74,261.9 777.38,268.95" fill="#5169fa" stroke="#5169fa"/>
<polygon points="808.07,276.52 818.3,269.61 808.07,262.23 797.84,269.17" fill="#5168fa" stroke="#5168fa"/>
<polygon points="828.66,277.06 838.75,270.26 828.4,262.78 818.3,269.61" fill="#5165fa" stroke="#5165fa"/>
<polygon points="797.71,283.51 808.07,276.52 797.84,269.17 787.48,276.19" fill="#525cfa" stroke="#525cfa"/>
<polygon points="818.43,283.94 828.66,277.06 818.3,269.61 808.07,276.52" fill="#525cfa" stroke="#525cfa"/>
<polygon points="808.07,290.9 818.43,283.94 808.07,276.52 797.71,283.51" fill="#525cfa" stroke="#525cfa"/>
</g>
<g fill="none" stroke-width="1.25" stroke-linecap="round">
<path d="M808.07,290.9 L797.71,283.51 M808.07,290.9 L818.43,283.94 M797.71,283.51 L787.48,276.19 M818.43,283.94 L828.66,277.06 M787.48,276.19 L777.38,268.95 M828.66,277.06 L838.75,270.26 M818.43,283.94 L808.07,276.52 M797.71,283.51 L808.07,276.52 M808.07,276.52 L797.84,269.17 M808.07,276.52 L818.3,269.61 M828.66,277.06 L818.3,269.61 M787.48,276.19 L797.84,269.17" stroke="#081068"/>
<path d="M777.38,268.95 L767.4,261.78 M838.75,270.26 L848.73,263.54 M797.84,269.17 L787.74,261.9 M818.3,269.61 L828.4,262.78 M818.3,269.61 L808.07,262.23 M797.84,269.17 L808.07,262.23 M838.75,270.26 L828.4,262.78 M777.38,268.95 L787.74,261.9" stroke="#081868"/>
<path d="M767.4,261.78 L757.54,254.68 M848.73,263.54 L858.57,256.88 M858.57,256.88 L868.3,250.3 M787.74,261.9 L777.75,254.7 M828.4,262.78 L838.38,256.02 M808.07,262.23 L797.97,254.93 M808.07,262.23 L818.18,255.37 M828.4,262.78 L818.18,255.37 M787.74,261.9 L797.97,254.93 M848.73,263.54 L838.38,256.02 M767.4,261.78 L777.75,254.7" stroke="#082068"/>
<path d="M757.54,254.68 L747.8,247.66 M868.3,250.3 L877.9,243.79 M777.75,254.7 L767.89,247.57 M838.38,256.02 L848.23,249.33 M797.97,254.93 L787.98,247.7 M818.18,255.37 L828.16,248.58 M818.18,255.37 L808.07,248.03 M797.97,254.93 L808.07,248.03 M838.38,256.02 L828.16,248.58 M777.75,254.7 L787.98,247.7 M858.57,256.88 L848.23,249.33 M757.54,254.68 L767.89,247.57 M868.3,250.3 L857.96,242.72" stroke="#082868"/>
<path d="M747.8,247.66 L738.18,240.7 M877.9,243.79 L887.39,237.35 M767.89,247.57 L758.15,240.52 M848.23,249.33 L857.96,242.72 M857.96,242.72 L867.58,236.18 M787.98,247.7 L778.12,240.54 M828.16,248.58 L838.01,241.86 M808.07,248.03 L798.09,240.77 M808.07,248.03 L818.05,241.21 M828.16,248.58 L818.05,241.21 M787.98,247.7 L798.09,240.77 M848.23,249.33 L838.01,241.86 M767.89,247.57 L778.12,240.54 M747.8,247.66 L758.15,240.52 M857.96,242.72 L847.75,235.22 M877.9,243.79 L867.58,236.18" stroke="#083068"/>
<path d="M738.18,240.7 L728.68,233.81 M887.39,237.35 L896.76,230.97 M758.15,240.52 L748.52,233.53 M867.58,236.18 L877.08,229.7 M778.12,240.54 L768.37,233.45 M838.01,241.86 L847.75,235.22 M847.75,235.22 L857.38,228.64 M798.09,240.77 L788.22,233.58 M818.05,241.21 L827.92,234.46 M818.05,241.21 L808.07,233.92 M798.09,240.77 L808.07,233.92 M838.01,241.86 L827.92,234.46 M778.12,240.54 L788.22,233.58 M758.15,240.52 L768.37,233.45 M738.18,240.7 L748.52,233.53 M867.58,236.18 L857.38,228.64 M887.39,237.35 L877.08,229.7" stroke="#083868"/>
<path d="M728.68,233.81 L719.28,226.99 M896.76,230.97 L906.02,224.67 M906.02,224.67 L915.17,218.42 M748.52,233.53 L739.01,226.61 M877.08,229.7 L886.46,223.3 M768.37,233.45 L758.74,226.44 M857.38,228.64 L866.88,222.14 M788.22,233.58 L778.47,226.47 M827.92,234.46 L837.66,227.79 M808.07,233.92 L798.21,226.7 M808.07,233.92 L817.94,227.14 M827.92,234.46 L817.94,227.14 M788.22,233.58 L798.21,226.7 M847.75,235.22 L837.66,227.79 M768.37,233.45 L778.47,226.47 M748.52,233.53 L758.74,226.44 M728.68,233.81 L739.01,226.61 M877.08,229.7 L866.88,222.14 M896.76,230.97 L886.46,223.3" stroke="#084068"/>
<path d="M719.28,226.99 L710,220.23 M739.01,226.61 L729.61,219.76 M886.46,223.3 L895.73,216.96 M758.74,226.44 L749.22,219.49 M778.47,226.47 L768.84,219.42 M837.66,227.79 L847.29,221.18 M798.21,226.7 L788.45,219.55 M817.94,227.14 L827.68,220.44 M817.94,227.14 L808.07,219.89 M798.21,226.7 L808.07,219.89 M837.66,227.79 L827.68,220.44 M778.47,226.47 L788.45,219.55 M857.38,228.64 L847.29,221.18 M758.74,226.44 L768.84,219.42 M739.01,226.61 L749.22,219.49 M719.28,226.99 L729.61,219.76 M886.46,223.3 L876.28,215.7 M906.02,224.67 L895.73,216.96" stroke="#084868"/>
<path d="M710,220.23 L700.83,213.54 M924.21,212.25 L933.15,206.13 M729.61,219.76 L720.32,212.97 M895.73,216.96 L904.9,210.69 M749.22,219.49 L739.81,212.61 M876.28,215.7 L885.56,209.33 M768.84,219.42 L759.31,212.44 M847.29,221.18 L856.8,214.65 M856.8,214.65 L866.21,208.18 M788.45,219.55 L778.82,212.48 M827.68,220.44 L837.32,213.8 M808.07,219.89 L798.32,212.72 M808.07,219.89 L817.82,213.16 M827.68,220.44 L817.82,213.16 M788.45,219.55 L798.32,212.72 M847.29,221.18 L837.32,213.8 M768.84,219.42 L778.82,212.48 M749.22,219.49 L759.31,212.44 M729.61,219.76 L739.81,212.61 M876.28,215.7 L866.21,208.18 M710,220.23 L720.32,212.97 M895.73,216.96 L885.56,209.33 M924.21,212.25 L913.95,204.48" stroke="#005068"/>
<path d="M700.83,213.54 L691.76,206.91 M933.15,206.13 L941.98,200.08 M720.32,212.97 L711.13,206.25 M904.9,210.69 L913.95,204.48 M913.95,204.48 L922.9,198.33 M739.81,212.61 L730.51,205.79 M885.56,209.33 L894.73,203.03 M759.31,212.44 L749.9,205.53 M866.21,208.18 L875.5,201.78 M778.82,212.48 L769.29,205.47 M837.32,213.8 L846.84,207.24 M798.32,212.72 L788.68,205.61 M817.82,213.16 L827.46,206.49 M817.82,213.16 L808.07,205.95 M798.32,212.72 L808.07,205.95 M837.32,213.8 L827.46,206.49 M778.82,212.48 L788.68,205.61 M856.8,214.65 L846.84,207.24 M759.31,212.44 L769.29,205.47 M739.81,212.61 L749.9,205.53 M720.32,212.97 L730.51,205.79 M885.56,209.33 L875.5,201.78 M700.83,213.54 L711.13,206.25 M904.9,210.69 L894.73,203.03 M933.15,206.13 L922.9,198.33" stroke="#005868"/>
<path d="M915.17,218.42 L924.21,212.25 M866.88,222.14 L876.28,215.7 M866.88,222.14 L856.8,214.65 M915.17,218.42 L904.9,210.69" stroke="#004868"/>
<path d="M691.76,206.91 L682.8,200.34 M941.98,200.08 L950.7,194.09 M711.13,206.25 L702.05,199.59 M922.9,198.33 L931.75,192.25 M730.51,205.79 L721.32,199.04 M894.73,203.03 L903.8,196.79 M749.9,205.53 L740.59,198.69 M875.5,201.78 L884.68,195.45 M769.29,205.47 L759.87,198.53 M846.84,207.24 L856.25,200.74 M788.68,205.61 L779.15,198.57 M827.46,206.49 L836.98,199.9 M808.07,205.95 L798.43,198.81 M808.07,205.95 L817.71,199.26 M827.46,206.49 L817.71,199.26 M788.68,205.61 L798.43,198.81 M846.84,207.24 L836.98,199.9 M769.29,205.47 L779.15,198.57 M866.21,208.18 L856.25,200.74 M749.9,205.53 L759.87,198.53 M730.51,205.79 L740.59,198.69 M875.5,201.78 L865.55,194.31 M711.13,206.25 L721.32,199.04 M894.73,203.03 L884.68,195.45 M691.76,206.91 L702.05,199.59 M913.95,204.48 L903.8,196.79 M941.98,200.08 L931.75,192.25" stroke="#006068"/>
<path d="M682.8,200.34 L673.94,193.83 M950.7,194.09 L959.33,188.15 M702.05,199.59 L693.08,193 M903.8,196.79 L912.76,190.62 M856.25,200.74 L865.55,194.31 M836.98,199.9 L846.4,193.37 M856.25,200.74 L846.4,193.37 M903.8,196.79 L893.76,189.18 M682.8,200.34 L693.08,193 M922.9,198.33 L912.76,190.62 M950.7,194.09 L940.49,186.23" stroke="#006868"/>
<path d="M673.94,193.83 L665.19,187.39 M959.33,188.15 L967.85,182.28 M931.75,192.25 L940.49,186.23 M721.32,199.04 L712.23,192.36 M912.76,190.62 L921.62,184.5 M740.59,198.69 L731.39,191.91 M884.68,195.45 L893.76,189.18 M759.87,198.53 L750.55,191.66 M865.55,194.31 L874.74,187.95 M779.15,198.57 L769.73,191.6 M846.4,193.37 L855.71,186.91 M798.43,198.81 L788.9,191.75 M817.71,199.26 L827.24,192.63 M817.71,199.26 L808.07,192.09 M798.43,198.81 L808.07,192.09 M836.98,199.9 L827.24,192.63 M779.15,198.57 L788.9,191.75 M759.87,198.53 L769.73,191.6 M740.59,198.69 L750.55,191.66 M865.55,194.31 L855.71,186.91 M721.32,199.04 L731.39,191.91 M884.68,195.45 L874.74,187.95 M702.05,199.59 L712.23,192.36 M912.76,190.62 L902.74,182.98 M673.94,193.83 L684.21,186.46 M931.75,192.25 L921.62,184.5 M959.33,188.15 L949.13,180.27" stroke="#006860"/>
<path d="M665.19,187.39 L656.53,181 M967.85,182.28 L976.28,176.46 M693.08,193 L684.21,186.46 M940.49,186.23 L949.13,180.27 M949.13,180.27 L957.68,174.36 M712.23,192.36 L703.24,185.73 M921.62,184.5 L930.38,178.45 M731.39,191.91 L722.29,185.19 M893.76,189.18 L902.74,182.98 M750.55,191.66 L741.35,184.85 M874.74,187.95 L883.83,181.65 M769.73,191.6 L760.41,184.7 M855.71,186.91 L864.91,180.52 M788.9,191.75 L779.47,184.75 M827.24,192.63 L836.66,186.07 M808.07,192.09 L798.54,184.99 M808.07,192.09 L817.6,185.43 M827.24,192.63 L817.6,185.43 M788.9,191.75 L798.54,184.99 M846.4,193.37 L836.66,186.07 M769.73,191.6 L779.47,184.75 M750.55,191.66 L760.41,184.7 M731.39,191.91 L741.35,184.85 M874.74,187.95 L864.91,180.52 M712.23,192.36 L722.29,185.19 M893.76,189.18 L883.83,181.65 M693.08,193 L703.24,185.73 M921.62,184.5 L911.61,176.83 M665.19,187.39 L675.43,179.99 M940.49,186.23 L930.38,178.45 M967.85,182.28 L957.68,174.36" stroke="#006858"/>
<path d="M656.53,181 L647.97,174.66 M976.28,176.46 L984.62,170.7 M984.62,170.7 L992.85,165 M684.21,186.46 L675.43,179.99 M957.68,174.36 L966.12,168.52 M703.24,185.73 L694.36,179.17 M930.38,178.45 L939.04,172.46 M722.29,185.19 L713.29,178.54 M902.74,182.98 L911.61,176.83 M741.35,184.85 L732.24,178.11 M883.83,181.65 L892.82,175.41 M760.41,184.7 L751.19,177.87 M864.91,180.52 L874.01,174.19 M779.47,184.75 L770.15,177.82 M836.66,186.07 L845.97,179.58 M798.54,184.99 L789.11,177.97 M817.6,185.43 L827.03,178.85 M817.6,185.43 L808.07,178.31 M798.54,184.99 L808.07,178.31 M836.66,186.07 L827.03,178.85 M779.47,184.75 L789.11,177.97 M855.71,186.91 L845.97,179.58 M760.41,184.7 L770.15,177.82 M741.35,184.85 L751.19,177.87 M722.29,185.19 L732.24,178.11 M883.83,181.65 L874.01,174.19 M703.24,185.73 L713.29,178.54 M902.74,182.98 L892.82,175.41 M684.21,186.46 L694.36,179.17 M930.38,178.45 L920.38,170.75 M656.53,181 L666.76,173.57 M949.13,180.27 L939.04,172.46 M976.28,176.46 L966.12,168.52" stroke="#006850"/>
<path d="M647.97,174.66 L639.5,168.39 M675.43,179.99 L666.76,173.57 M966.12,168.52 L974.48,162.73 M694.36,179.17 L685.57,172.67 M939.04,172.46 L947.6,166.53 M713.29,178.54 L704.4,171.95 M911.61,176.83 L920.38,170.75 M732.24,178.11 L723.24,171.43 M892.82,175.41 L901.7,169.24 M751.19,177.87 L742.08,171.09 M874.01,174.19 L883,167.92 M770.15,177.82 L760.93,170.95 M845.97,179.58 L855.18,173.16 M789.11,177.97 L779.79,171 M827.03,178.85 L836.34,172.33 M808.07,178.31 L798.64,171.25 M808.07,178.31 L817.5,171.69 M827.03,178.85 L817.5,171.69 M789.11,177.97 L798.64,171.25 M845.97,179.58 L836.34,172.33 M770.15,177.82 L779.79,171 M864.91,180.52 L855.18,173.16 M751.19,177.87 L760.93,170.95 M732.24,178.11 L742.08,171.09 M713.29,178.54 L723.24,171.43 M892.82,175.41 L883,167.92 M694.36,179.17 L704.4,171.95 M911.61,176.83 L901.7,169.24 M675.43,179.99 L685.57,172.67 M939.04,172.46 L929.06,164.73 M647.97,174.66 L658.18,167.21 M957.68,174.36 L947.6,166.53 M984.62,170.7 L974.48,162.73" stroke="#006848"/>
<path d="M639.5,168.39 L631.13,162.17 M666.76,173.57 L658.18,167.21 M974.48,162.73 L982.74,156.99 M685.57,172.67 L676.88,166.22 M947.6,166.53 L956.07,160.65 M704.4,171.95 L695.6,165.42 M920.38,170.75 L929.06,164.73 M929.06,164.73 L937.63,158.77 M723.24,171.43 L714.33,164.81 M901.7,169.24 L910.49,163.13 M883,167.92 L891.9,161.72 M855.18,173.16 L864.29,166.8 M836.34,172.33 L845.56,165.87 M817.5,171.69 L826.82,165.14 M817.5,171.69 L808.07,164.61 M798.64,171.25 L808.07,164.61 M836.34,172.33 L826.82,165.14 M855.18,173.16 L845.56,165.87 M874.01,174.19 L864.29,166.8 M723.24,171.43 L733.07,164.38 M704.4,171.95 L714.33,164.81 M901.7,169.24 L891.9,161.72 M685.57,172.67 L695.6,165.42 M920.38,170.75 L910.49,163.13 M666.76,173.57 L676.88,166.22 M947.6,166.53 L937.63,158.77 M966.12,168.52 L956.07,160.65 M974.48,162.73 L964.44,154.83 M992.85,165 L982.74,156.99" stroke="#006840"/>
<path d="M631.13,162.17 L622.85,156 M658.18,167.21 L649.7,160.91 M676.88,166.22 L668.29,159.84 M956.07,160.65 L964.44,154.83 M695.6,165.42 L686.9,158.95 M937.63,158.77 L946.12,152.86 M910.49,163.13 L919.17,157.07 M742.08,171.09 L733.07,164.38 M891.9,161.72 L900.69,155.58 M760.93,170.95 L751.82,164.15 M864.29,166.8 L873.29,160.51 M779.79,171 L770.57,164.11 M845.56,165.87 L854.67,159.49 M798.64,171.25 L789.32,164.26 M826.82,165.14 L836.04,158.66 M779.79,171 L789.32,164.26 M760.93,170.95 L770.57,164.11 M845.56,165.87 L836.04,158.66 M742.08,171.09 L751.82,164.15 M864.29,166.8 L854.67,159.49 M883,167.92 L873.29,160.51 M695.6,165.42 L705.52,158.25 M910.49,163.13 L900.69,155.58 M676.88,166.22 L686.9,158.95 M929.06,164.73 L919.17,157.07 M658.18,167.21 L668.29,159.84 M639.5,168.39 L649.7,160.91 M956.07,160.65 L946.12,152.86 M982.74,156.99 L972.72,149.07" stroke="#006838"/>
<path d="M649.7,160.91 L641.31,154.66 M668.29,159.84 L659.79,153.51 M964.44,154.83 L972.72,149.07 M686.9,158.95 L678.3,152.54 M946.12,152.86 L954.5,147.01 M714.33,164.81 L705.52,158.25 M919.17,157.07 L927.77,151.08 M733.07,164.38 L724.16,157.74 M751.82,164.15 L742.8,157.42 M873.29,160.51 L882.19,154.27 M770.57,164.11 L761.45,157.28 M854.67,159.49 L863.68,153.16 M789.32,164.26 L780.1,157.34 M808.07,164.61 L798.75,157.59 M808.07,164.61 L817.39,158.03 M826.82,165.14 L817.39,158.03 M789.32,164.26 L798.75,157.59 M770.57,164.11 L780.1,157.34 M751.82,164.15 L761.45,157.28 M854.67,159.49 L845.15,152.24 M733.07,164.38 L742.8,157.42 M873.29,160.51 L863.68,153.16 M714.33,164.81 L724.16,157.74 M891.9,161.72 L882.19,154.27 M919.17,157.07 L909.39,149.5 M668.29,159.84 L678.3,152.54 M937.63,158.77 L927.77,151.08 M649.7,160.91 L659.79,153.51 M631.13,162.17 L641.31,154.66 M964.44,154.83 L954.5,147.01" stroke="#006830"/>
<path d="M641.31,154.66 L633.01,148.47 M659.79,153.51 L651.39,147.23 M954.5,147.01 L962.8,141.22 M705.52,158.25 L696.81,151.75 M927.77,151.08 L936.26,145.15 M724.16,157.74 L715.34,151.15 M900.69,155.58 L909.39,149.5 M742.8,157.42 L733.88,150.74 M882.19,154.27 L891,148.1 M761.45,157.28 L752.42,150.52 M863.68,153.16 L872.59,146.9 M780.1,157.34 L770.97,150.48 M836.04,158.66 L845.15,152.24 M798.75,157.59 L789.52,150.64 M817.39,158.03 L826.62,151.52 M817.39,158.03 L808.07,150.98 M798.75,157.59 L808.07,150.98 M836.04,158.66 L826.62,151.52 M780.1,157.34 L789.52,150.64 M761.45,157.28 L770.97,150.48 M742.8,157.42 L752.42,150.52 M724.16,157.74 L733.88,150.74 M882.19,154.27 L872.59,146.9 M705.52,158.25 L715.34,151.15 M900.69,155.58 L891,148.1 M686.9,158.95 L696.81,151.75 M927.77,151.08 L918,143.48 M659.79,153.51 L669.78,146.18 M946.12,152.86 L936.26,145.15 M641.31,154.66 L651.39,147.23 M622.85,156 L633.01,148.47 M972.72,149.07 L962.8,141.22" stroke="#006828"/>
<path d="M651.39,147.23 L643.07,141.02 M678.3,152.54 L669.78,146.18 M696.81,151.75 L688.19,145.31 M936.26,145.15 L944.67,139.27 M715.34,151.15 L706.62,144.63 M909.39,149.5 L918,143.48 M733.88,150.74 L725.05,144.13 M891,148.1 L899.71,141.99 M752.42,150.52 L743.5,143.82 M872.59,146.9 L881.41,140.7 M770.97,150.48 L761.95,143.69 M845.15,152.24 L854.17,145.89 M789.52,150.64 L780.4,143.75 M826.62,151.52 L835.74,145.07 M808.07,150.98 L798.85,144 M808.07,150.98 L817.29,144.44 M826.62,151.52 L817.29,144.44 M789.52,150.64 L798.85,144 M845.15,152.24 L835.74,145.07 M770.97,150.48 L780.4,143.75 M863.68,153.16 L854.17,145.89 M752.42,150.52 L761.95,143.69 M733.88,150.74 L743.5,143.82 M715.34,151.15 L725.05,144.13 M891,148.1 L881.41,140.7 M696.81,151.75 L706.62,144.63 M909.39,149.5 L899.71,141.99 M678.3,152.54 L688.19,145.31 M936.26,145.15 L926.51,137.51 M954.5,147.01 L944.67,139.27 M633.01,148.47 L643.07,141.02" stroke="#006820"/>
<path d="M669.78,146.18 L661.36,139.88 M688.19,145.31 L679.67,138.93 M944.67,139.27 L952.98,133.45 M706.62,144.63 L697.99,138.16 M918,143.48 L926.51,137.51 M725.05,144.13 L716.32,137.58 M899.71,141.99 L908.33,135.94 M854.17,145.89 L863.09,139.6 M835.74,145.07 L844.76,138.69 M817.29,144.44 L826.42,137.97 M817.29,144.44 L808.07,137.43 M798.85,144 L808.07,137.43 M835.74,145.07 L826.42,137.97 M854.17,145.89 L844.76,138.69 M872.59,146.9 L863.09,139.6 M725.05,144.13 L734.67,137.18 M706.62,144.63 L716.32,137.58 M899.71,141.99 L890.13,134.56 M688.19,145.31 L697.99,138.16 M918,143.48 L908.33,135.94 M669.78,146.18 L679.67,138.93 M651.39,147.23 L661.36,139.88 M944.67,139.27 L934.93,131.61 M962.8,141.22 L952.98,133.45" stroke="#006818"/>
<path d="M661.36,139.88 L653.03,133.64 M679.67,138.93 L671.24,132.61 M697.99,138.16 L689.45,131.75 M926.51,137.51 L934.93,131.61 M908.33,135.94 L916.85,129.95 M743.5,143.82 L734.67,137.18 M881.41,140.7 L890.13,134.56 M761.95,143.69 L753.01,136.96 M863.09,139.6 L871.91,133.37 M780.4,143.75 L771.37,136.93 M844.76,138.69 L853.69,132.37 M798.85,144 L789.72,137.09 M826.42,137.97 L835.45,131.56 M780.4,143.75 L789.72,137.09 M761.95,143.69 L771.37,136.93 M844.76,138.69 L835.45,131.56 M743.5,143.82 L753.01,136.96 M863.09,139.6 L853.69,132.37 M881.41,140.7 L871.91,133.37 M908.33,135.94 L898.76,128.48 M679.67,138.93 L689.45,131.75 M926.51,137.51 L916.85,129.95 M661.36,139.88 L671.24,132.61 M643.07,141.02 L653.03,133.64 M952.98,133.45 L943.26,125.76" stroke="#006810"/>
<path d="M671.24,132.61 L662.89,126.34 M934.93,131.61 L943.26,125.76 M716.32,137.58 L707.69,131.08 M916.85,129.95 L925.28,124.02 M734.67,137.18 L725.93,130.6 M890.13,134.56 L898.76,128.48 M753.01,136.96 L744.18,130.29 M871.91,133.37 L880.64,127.2 M771.37,136.93 L762.43,130.17 M853.69,132.37 L862.52,126.11 M789.72,137.09 L780.69,130.24 M808.07,137.43 L798.94,130.49 M808.07,137.43 L817.2,130.93 M826.42,137.97 L817.2,130.93 M789.72,137.09 L798.94,130.49 M771.37,136.93 L780.69,130.24 M753.01,136.96 L762.43,130.17 M734.67,137.18 L744.18,130.29 M871.91,133.37 L862.52,126.11 M716.32,137.58 L725.93,130.6 M890.13,134.56 L880.64,127.2 M697.99,138.16 L707.69,131.08 M934.93,131.61 L925.28,124.02 M653.03,133.64 L662.89,126.34" stroke="#006808"/>
<path d="M689.45,131.75 L681.01,125.4 M707.69,131.08 L699.14,124.65 M925.28,124.02 L933.63,118.14 M725.93,130.6 L717.28,124.08 M898.76,128.48 L907.29,122.46 M744.18,130.29 L735.43,123.69 M880.64,127.2 L889.28,121.1 M762.43,130.17 L753.59,123.48 M780.69,130.24 L771.75,123.45 M835.45,131.56 L844.38,125.21 M798.94,130.49 L789.91,123.61 M817.2,130.93 L826.23,124.49 M817.2,130.93 L808.07,123.96 M798.94,130.49 L808.07,123.96 M835.45,131.56 L826.23,124.49 M780.69,130.24 L789.91,123.61 M853.69,132.37 L844.38,125.21 M762.43,130.17 L771.75,123.45 M744.18,130.29 L753.59,123.48 M725.93,130.6 L735.43,123.69 M880.64,127.2 L871.25,119.92 M707.69,131.08 L717.28,124.08 M898.76,128.48 L889.28,121.1 M689.45,131.75 L699.14,124.65 M916.85,129.95 L907.29,122.46 M671.24,132.61 L681.01,125.4 M943.26,125.76 L933.63,118.14" stroke="#086808"/>
<path d="M681.01,125.4 L672.65,119.11 M699.14,124.65 L690.68,118.27 M717.28,124.08 L708.72,117.62 M907.29,122.46 L915.74,116.5 M889.28,121.1 L897.83,115.05 M862.52,126.11 L871.25,119.92 M844.38,125.21 L853.21,118.92 M826.23,124.49 L835.16,118.11 M808.07,123.96 L799.04,117.05 M808.07,123.96 L817.1,117.49 M826.23,124.49 L817.1,117.49 M844.38,125.21 L835.16,118.11 M862.52,126.11 L853.21,118.92 M717.28,124.08 L726.78,117.14 M699.14,124.65 L708.72,117.62 M907.29,122.46 L897.83,115.05 M681.01,125.4 L690.68,118.27 M925.28,124.02 L915.74,116.5 M662.89,126.34 L672.65,119.11" stroke="#106808"/>
<path d="M690.68,118.27 L682.31,111.95 M915.74,116.5 L924.09,110.59 M735.43,123.69 L726.78,117.14 M753.59,123.48 L744.84,116.84 M871.25,119.92 L879.9,113.78 M771.75,123.45 L762.9,116.73 M853.21,118.92 L861.96,112.7 M789.91,123.61 L780.97,116.8 M835.16,118.11 L844,111.8 M789.91,123.61 L799.04,117.05 M771.75,123.45 L780.97,116.8 M753.59,123.48 L762.9,116.73 M853.21,118.92 L844,111.8 M735.43,123.69 L744.84,116.84 M871.25,119.92 L861.96,112.7 M889.28,121.1 L879.9,113.78 M915.74,116.5 L906.28,109.06 M672.65,119.11 L682.31,111.95 M933.63,118.14 L924.09,110.59" stroke="#186808"/>
<path d="M708.72,117.62 L700.26,111.21 M726.78,117.14 L718.21,110.65 M897.83,115.05 L906.28,109.06 M744.84,116.84 L736.18,110.27 M879.9,113.78 L888.45,107.7 M762.9,116.73 L754.15,110.07 M861.96,112.7 L870.61,106.54 M780.97,116.8 L772.12,110.05 M799.04,117.05 L790.1,110.22 M817.1,117.49 L826.04,111.09 M817.1,117.49 L808.07,110.56 M799.04,117.05 L808.07,110.56 M835.16,118.11 L826.04,111.09 M780.97,116.8 L790.1,110.22 M762.9,116.73 L772.12,110.05 M744.84,116.84 L754.15,110.07 M726.78,117.14 L736.18,110.27 M879.9,113.78 L870.61,106.54 M708.72,117.62 L718.21,110.65 M897.83,115.05 L888.45,107.7 M690.68,118.27 L700.26,111.21 M924.09,110.59 L914.65,103.12" stroke="#206808"/>
<path d="M700.26,111.21 L691.88,104.87 M718.21,110.65 L709.74,104.22 M906.28,109.06 L914.65,103.12 M736.18,110.27 L727.61,103.76 M888.45,107.7 L896.92,101.69 M754.15,110.07 L745.48,103.47 M772.12,110.05 L763.36,103.37 M844,111.8 L852.75,105.55 M790.1,110.22 L781.25,103.44 M826.04,111.09 L834.89,104.75 M808.07,110.56 L799.13,103.69 M808.07,110.56 L817.01,104.13 M826.04,111.09 L817.01,104.13 M790.1,110.22 L799.13,103.69 M844,111.8 L834.89,104.75 M772.12,110.05 L781.25,103.44 M861.96,112.7 L852.75,105.55 M754.15,110.07 L763.36,103.37 M736.18,110.27 L745.48,103.47 M718.21,110.65 L727.61,103.76 M888.45,107.7 L879.17,100.43 M700.26,111.21 L709.74,104.22 M906.28,109.06 L896.92,101.69 M682.31,111.95 L691.88,104.87" stroke="#286808"/>
<path d="M709.74,104.22 L701.35,97.85 M896.92,101.69 L905.3,95.72 M870.61,106.54 L879.17,100.43 M852.75,105.55 L861.41,99.36 M834.89,104.75 L843.64,98.47 M817.01,104.13 L825.86,97.76 M817.01,104.13 L808.07,97.24 M834.89,104.75 L825.86,97.76 M852.75,105.55 L843.64,98.47 M870.61,106.54 L861.41,99.36 M709.74,104.22 L719.12,97.3 M691.88,104.87 L701.35,97.85 M914.65,103.12 L905.3,95.72" stroke="#306808"/>
<path d="M727.61,103.76 L719.12,97.3 M745.48,103.47 L736.91,96.93 M879.17,100.43 L887.65,94.38 M763.36,103.37 L754.69,96.74 M861.41,99.36 L869.98,93.23 M781.25,103.44 L772.49,96.73 M843.64,98.47 L852.3,92.25 M799.13,103.69 L790.28,96.89 M799.13,103.69 L808.07,97.24 M781.25,103.44 L790.28,96.89 M763.36,103.37 L772.49,96.73 M745.48,103.47 L754.69,96.74 M861.41,99.36 L852.3,92.25 M727.61,103.76 L736.91,96.93 M879.17,100.43 L869.98,93.23 M896.92,101.69 L887.65,94.38" stroke="#386808"/>
<path d="M719.12,97.3 L710.72,90.91 M736.91,96.93 L728.41,90.45 M887.65,94.38 L896.03,88.4 M754.69,96.74 L746.11,90.17 M869.98,93.23 L878.46,87.15 M772.49,96.73 L763.81,90.07 M790.28,96.89 L781.52,90.15 M825.86,97.76 L834.62,91.46 M808.07,97.24 L799.22,90.41 M808.07,97.24 L816.92,90.84 M825.86,97.76 L816.92,90.84 M790.28,96.89 L799.22,90.41 M843.64,98.47 L834.62,91.46 M772.49,96.73 L781.52,90.15 M754.69,96.74 L763.81,90.07 M736.91,96.93 L746.11,90.17 M719.12,97.3 L728.41,90.45 M887.65,94.38 L878.46,87.15 M701.35,97.85 L710.72,90.91 M905.3,95.72 L896.03,88.4" stroke="#406808"/>
<path d="M728.41,90.45 L720.01,84.03 M746.11,90.17 L737.61,83.67 M763.81,90.07 L755.23,83.48 M852.3,92.25 L860.88,86.09 M781.52,90.15 L772.84,83.47 M834.62,91.46 L843.29,85.21 M799.22,90.41 L790.46,83.64 M816.92,90.84 L825.68,84.51 M816.92,90.84 L808.07,83.98 M799.22,90.41 L808.07,83.98 M834.62,91.46 L825.68,84.51 M781.52,90.15 L790.46,83.64 M852.3,92.25 L843.29,85.21 M763.81,90.07 L772.84,83.47 M869.98,93.23 L860.88,86.09 M746.11,90.17 L755.23,83.48 M728.41,90.45 L737.61,83.67 M710.72,90.91 L720.01,84.03 M896.03,88.4 L886.86,81.14" stroke="#486808"/>
<path d="M737.61,83.67 L729.2,77.22 M755.23,83.48 L746.72,76.95 M869.37,79.99 L877.77,73.95 M772.84,83.47 L764.25,76.85 M790.46,83.64 L781.78,76.93 M825.68,84.51 L834.35,78.23 M808.07,83.98 L799.31,77.19 M808.07,83.98 L816.83,77.62 M825.68,84.51 L816.83,77.62 M790.46,83.64 L799.31,77.19 M772.84,83.47 L781.78,76.93 M755.23,83.48 L764.25,76.85 M737.61,83.67 L746.72,76.95 M869.37,79.99 L860.36,72.9 M720.01,84.03 L729.2,77.22 M886.86,81.14 L877.77,73.95" stroke="#586808"/>
<path d="M878.46,87.15 L886.86,81.14 M860.88,86.09 L869.37,79.99 M843.29,85.21 L851.87,79.02 M843.29,85.21 L834.35,78.23 M860.88,86.09 L851.87,79.02 M878.46,87.15 L869.37,79.99" stroke="#506808"/>
<path d="M746.72,76.95 L738.31,70.48 M764.25,76.85 L755.75,70.3 M851.87,79.02 L860.36,72.9 M781.78,76.93 L773.19,70.29 M834.35,78.23 L842.94,72.02 M799.31,77.19 L790.63,70.46 M816.83,77.62 L825.51,71.32 M816.83,77.62 L808.07,70.8 M799.31,77.19 L808.07,70.8 M834.35,78.23 L825.51,71.32 M781.78,76.93 L790.63,70.46 M851.87,79.02 L842.94,72.02 M764.25,76.85 L773.19,70.29 M746.72,76.95 L755.75,70.3 M729.2,77.22 L738.31,70.48 M877.77,73.95 L868.77,66.83" stroke="#606808"/>
<path d="M755.75,70.3 L747.32,63.8 M773.19,70.29 L764.68,63.71 M790.63,70.46 L782.04,63.79 M773.19,70.29 L782.04,63.79 M755.75,70.3 L764.68,63.71 M738.31,70.48 L747.32,63.8" stroke="#686008"/>
<path d="M860.36,72.9 L868.77,66.83 M842.94,72.02 L851.44,65.87 M825.51,71.32 L834.1,65.09 M808.07,70.8 L799.39,64.05 M808.07,70.8 L816.75,64.48 M825.51,71.32 L816.75,64.48 M790.63,70.46 L799.39,64.05 M842.94,72.02 L834.1,65.09 M860.36,72.9 L851.44,65.87" stroke="#606008"/>
<path d="M764.68,63.71 L756.25,57.18 M851.44,65.87 L859.86,59.77 M782.04,63.79 L773.53,57.18 M834.1,65.09 L842.6,58.91 M799.39,64.05 L790.8,57.35 M816.75,64.48 L825.34,58.21 M816.75,64.48 L808.07,57.7 M799.39,64.05 L808.07,57.7 M834.1,65.09 L825.34,58.21 M782.04,63.79 L790.8,57.35 M851.44,65.87 L842.6,58.91 M764.68,63.71 L773.53,57.18 M868.77,66.83 L859.86,59.77 M747.32,63.8 L756.25,57.18" stroke="#685808"/>
<path d="M773.53,57.18 L765.1,50.63 M842.6,58.91 L851.02,52.78 M790.8,57.35 L782.29,50.72 M825.34,58.21 L833.85,52.01 M808.07,57.7 L799.48,50.98 M808.07,57.7 L816.66,51.4 M825.34,58.21 L816.66,51.4 M790.8,57.35 L799.48,50.98 M842.6,58.91 L833.85,52.01 M773.53,57.18 L782.29,50.72 M859.86,59.77 L851.02,52.78 M756.25,57.18 L765.1,50.63" stroke="#685008"/>
<path d="M782.29,50.72 L773.85,44.15 M799.48,50.98 L790.96,44.32 M825.18,45.17 L833.6,39 M782.29,50.72 L790.96,44.32 M825.18,45.17 L816.58,38.4 M765.1,50.63 L773.85,44.15 M842.27,45.86 L833.6,39" stroke="#684008"/>
<path d="M833.85,52.01 L842.27,45.86 M816.66,51.4 L825.18,45.17 M816.66,51.4 L808.07,44.66 M799.48,50.98 L808.07,44.66 M833.85,52.01 L825.18,45.17 M851.02,52.78 L842.27,45.86" stroke="#684808"/>
<path d="M790.96,44.32 L782.53,37.72 M808.07,44.66 L799.56,37.98 M808.07,44.66 L816.58,38.4 M790.96,44.32 L799.56,37.98 M773.85,44.15 L782.53,37.72" stroke="#683808"/>
<path d="M799.56,37.98 L791.12,31.35 M816.58,38.4 L825.01,32.21 M816.58,38.4 L808.07,31.69 M799.56,37.98 L808.07,31.69 M833.6,39 L825.01,32.21 M782.53,37.72 L791.12,31.35" stroke="#683008"/>
<path d="M808.07,31.69 L799.64,25.05 M808.07,31.69 L816.5,25.47 M825.01,32.21 L816.5,25.47 M791.12,31.35 L799.64,25.05" stroke="#682808"/>
<path d="M816.5,25.47 L808.07,18.8 M799.64,25.05 L808.07,18.8" stroke="#682008"/>
</g>
<circle cx="622.25" cy="152.75" r="4.0" fill="url(#rd)" stroke="#5a0a0a" stroke-width="1"/>
<path d="M808.2 13.1 L808.2 19" stroke="#111" stroke-width="1.6"/>
<circle cx="808.2" cy="13.1" r="4.0" fill="url(#rd)" stroke="#5a0a0a" stroke-width="1"/>
<circle cx="993.4" cy="161.2" r="4.0" fill="url(#rd)" stroke="#5a0a0a" stroke-width="1"/>
<circle cx="808" cy="147.25" r="3.4" fill="url(#rd)" stroke="#5a0a0a" stroke-width="1"/>
<circle cx="808.2" cy="290.5" r="3.5" fill="url(#rd)" stroke="#5a0a0a" stroke-width="1"/>
<g font-family="'Liberation Serif','DejaVu Serif',serif" font-size="12.9" fill="#161616" stroke="#161616" stroke-width="0.34" text-rendering="geometricPrecision">
<text x="605.19" y="48.32" textLength="6.22" lengthAdjust="spacingAndGlyphs">1</text>
<text x="597.38" y="79.35" textLength="15.56" lengthAdjust="spacingAndGlyphs">0.9</text>
<text x="598.9" y="110.38" textLength="15.56" lengthAdjust="spacingAndGlyphs">0.8</text>
<text x="600.42" y="141.41" textLength="15.56" lengthAdjust="spacingAndGlyphs">0.7</text>
<text x="601.94" y="172.44" textLength="15.56" lengthAdjust="spacingAndGlyphs">0.6</text>
<text x="603.46" y="203.47" textLength="15.56" lengthAdjust="spacingAndGlyphs">0.5</text>
<text x="604.98" y="234.49" textLength="15.56" lengthAdjust="spacingAndGlyphs">0.4</text>
<text x="767.33" y="392.52" textLength="34.24" lengthAdjust="spacingAndGlyphs">0.5842</text>
<text x="722.74" y="371.12" textLength="34.24" lengthAdjust="spacingAndGlyphs">0.6477</text>
<text x="678.14" y="349.73" textLength="34.24" lengthAdjust="spacingAndGlyphs">0.7112</text>
<text x="633.55" y="328.34" textLength="34.24" lengthAdjust="spacingAndGlyphs">0.7747</text>
<text x="588.95" y="306.95" textLength="34.24" lengthAdjust="spacingAndGlyphs">0.8382</text>
<text x="815.27" y="392.22" textLength="12.45" lengthAdjust="spacingAndGlyphs">70</text>
<text x="859.87" y="370.82" textLength="12.45" lengthAdjust="spacingAndGlyphs">80</text>
<text x="904.46" y="349.43" textLength="12.45" lengthAdjust="spacingAndGlyphs">90</text>
<text x="949.06" y="328.04" textLength="18.67" lengthAdjust="spacingAndGlyphs">100</text>
<text x="993.65" y="306.65" textLength="18.67" lengthAdjust="spacingAndGlyphs">110</text>
<text x="631.8" y="375.2" textLength="37" lengthAdjust="spacingAndGlyphs">d (mm)</text>
<text x="946" y="375.2" textLength="38.38" lengthAdjust="spacingAndGlyphs">V (m/s)</text>
<text transform="translate(563.5 177.5) rotate(-90)" text-anchor="middle" textLength="163.8" lengthAdjust="spacingAndGlyphs">depth of compressive stress layer</text>
</g>
<text x="781.4" y="433.8" font-family="'Liberation Sans','DejaVu Sans',sans-serif" font-size="18" fill="#1a1a1a" stroke="#1a1a1a" stroke-width="0.25" text-anchor="middle" textLength="18.3" lengthAdjust="spacingAndGlyphs" text-rendering="geometricPrecision">(b)</text>
</svg>
</body></html>
